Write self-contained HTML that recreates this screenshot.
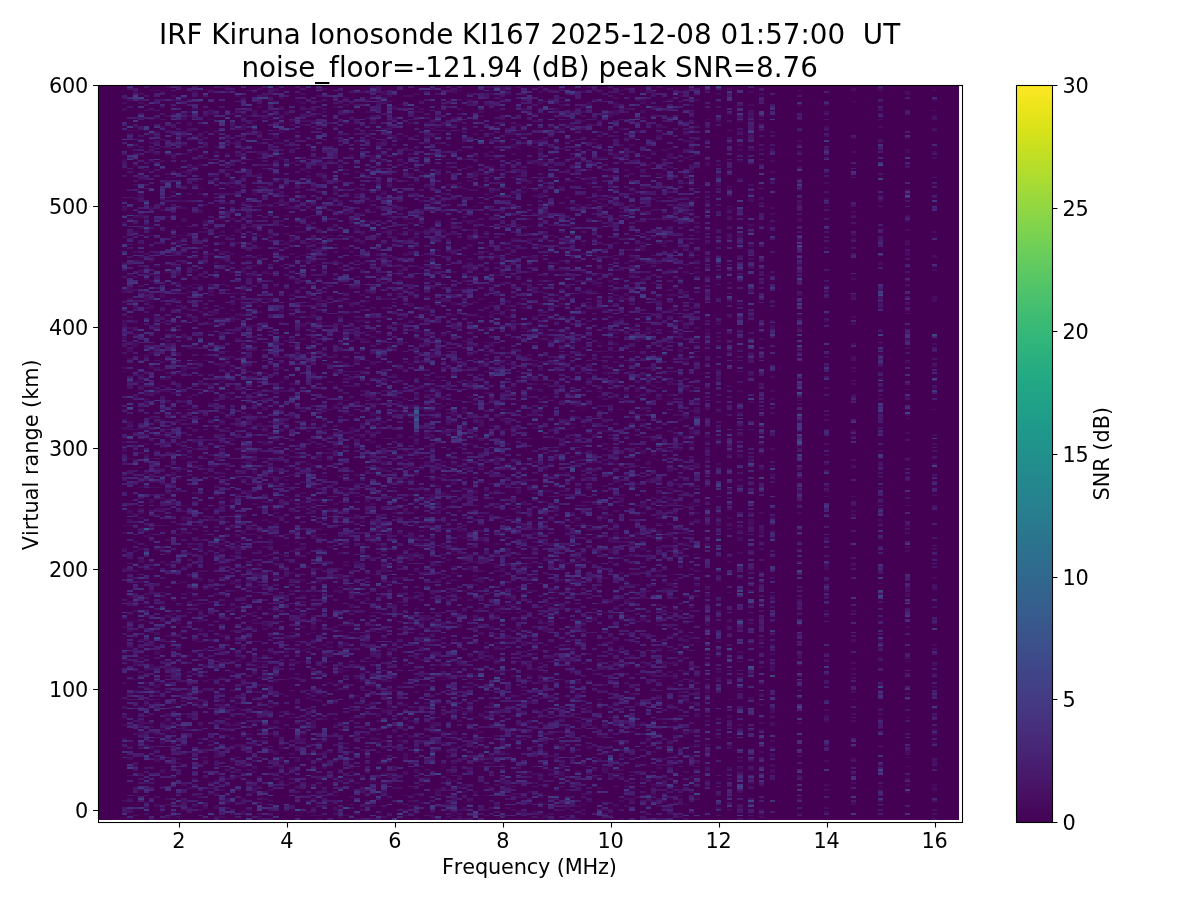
<!DOCTYPE html>
<html lang="en"><head><meta charset="utf-8"><title>IRF Kiruna Ionosonde KI167</title>
<style>
html,body{margin:0;padding:0;background:#fff}
body{width:1200px;height:900px;overflow:hidden}
svg{display:block}
text{font-family:"DejaVu Sans","Liberation Sans",sans-serif;font-size:20.83px;fill:#000;font-variant-ligatures:none;font-kerning:none}
.t{font-size:27.78px}
.k text{letter-spacing:-0.25px}
.a{letter-spacing:-0.15px}
.h path{fill:none;shape-rendering:crispEdges}
.l1{stroke:#470d60}.l2{stroke:#481668}.l3{stroke:#481d6f}.l4{stroke:#482677}.l5{stroke:#472f7d}.l6{stroke:#453781}.l7{stroke:#423f85}.l8{stroke:#3f4788}.l9{stroke:#3c4f8a}.l10{stroke:#38588c}
</style></head><body>
<svg width="1200" height="900" viewBox="0 0 1200 900">
<defs><linearGradient id="vg" x1="0" y1="0" x2="0" y2="1"><stop offset="0" stop-color="#fde725"/><stop offset="0.03125" stop-color="#ece51b"/><stop offset="0.0625" stop-color="#d8e219"/><stop offset="0.09375" stop-color="#c2df23"/><stop offset="0.125" stop-color="#addc30"/><stop offset="0.15625" stop-color="#98d83e"/><stop offset="0.1875" stop-color="#84d44b"/><stop offset="0.21875" stop-color="#70cf57"/><stop offset="0.25" stop-color="#5ec962"/><stop offset="0.28125" stop-color="#4ec36b"/><stop offset="0.3125" stop-color="#3fbc73"/><stop offset="0.34375" stop-color="#32b67a"/><stop offset="0.375" stop-color="#28ae80"/><stop offset="0.40625" stop-color="#22a785"/><stop offset="0.4375" stop-color="#1fa088"/><stop offset="0.46875" stop-color="#1f988b"/><stop offset="0.5" stop-color="#21918c"/><stop offset="0.53125" stop-color="#23898e"/><stop offset="0.5625" stop-color="#26828e"/><stop offset="0.59375" stop-color="#297a8e"/><stop offset="0.625" stop-color="#2c728e"/><stop offset="0.65625" stop-color="#2f6b8e"/><stop offset="0.6875" stop-color="#33638d"/><stop offset="0.71875" stop-color="#375b8d"/><stop offset="0.75" stop-color="#3b528b"/><stop offset="0.78125" stop-color="#3e4989"/><stop offset="0.8125" stop-color="#424086"/><stop offset="0.84375" stop-color="#453781"/><stop offset="0.875" stop-color="#472d7b"/><stop offset="0.90625" stop-color="#482374"/><stop offset="0.9375" stop-color="#48186a"/><stop offset="0.96875" stop-color="#470d60"/><stop offset="1" stop-color="#440154"/></linearGradient></defs>
<rect width="1200" height="900" fill="#fff"/>
<rect x="98" y="85" width="861" height="735" fill="#440154"/>
<g class="h">
<path class="l1" stroke-width="5" d="M124.5 802v-2m0 -60v-2m0 -12v-2m0 -7v-2m0 -6v-1m0 -24v-2m0 -21v-2m0 -17v-1m0 -13v-2m0 -56v-2m0 -18v-2m0 -14v-2m0 -6v-1m0 -62v-2m0 -9v-4m0 -1v-2m0 -2v-2m0 -11v-3m0 -17v-1m0 -37v-1m0 -2v-2m0 -27v-4m0 -9v-7m0 -18v-2m0 -7v-4m0 -25v-2m0 -24v-2m0 -12v-2m0 -6v-1m0 -4v-4m0 -45v-3m0 -48v-3m0 -4v-2M135.5 796v-1m0 -28v-3m0 -29v-2m0 -42v-1m0 -10v-1m0 -13v-4m0 -40v-1m0 -9v-2m0 -38v-2m0 -6v-1m0 -11v-2m0 -7v-2m0 -143v-2m0 -13v-2m0 -34v-4m0 -7v-2m0 -12v-2m0 -11v-2m0 -16v-2m0 -11v-2m0 -23v-2m0 -18v-2m0 -13v-2m0 -16v-3m0 -11v-2m0 -18v-2m0 -4v-1m0 -28v-1m0 -2v-2m0 -33v-2M146.5 815v-2m0 -4v-2m0 -23v-2m0 -36v-2m0 -2v-2m0 -16v-2m0 -5v-2m0 -9v-2m0 -2v-2m0 -12v-2m0 -2v-2m0 -11v-3m0 -11v-2m0 -33v-1m0 -4v-2m0 -7v-2m0 -11v-2m0 -47v-1m0 -8v-2m0 -9v-1m0 -51v-2m0 -16v-2m0 -9v-2m0 -14v-2m0 -22v-2m0 -2v-3m0 -2v-4m0 -20v-1m0 -13v-4m0 -45v-2m0 -5v-6m0 -16v-2m0 -9v-2m0 -12v-2m0 -27v-2m0 -4v-2m0 -2v-1m0 -44v-2m0 -38v-1m0 -24v-2M151.5 767v-1m0 -17v-2m0 -19v-2m0 -2v-2m0 -27v-2m0 -3v-2m0 -20v-4m0 -31v-1m0 -10v-1m0 -26v-2m0 -1v-2m0 -20v-2m0 -5v-2m0 -33v-2m0 -23v-4m0 -3v-2m0 -6v-1m0 -4v-2m0 -4v-1m0 -17v-1m0 -39v-3m0 -22v-2m0 -2v-1m0 -20v-4m0 -11v-2m0 -1v-2m0 -40v-4m0 -2v-1m0 -8v-1m0 -11v-2m0 -4v-2m0 -12v-2m0 -2v-2m0 -9v-2m0 -9v-1m0 -26v-2m0 -54v-2m0 -7v-2m0 -2v-1m0 -4v-2m0 -13v-1m0 -28v-1M162.5 809v-2m0 -20v-1m0 -13v-4m0 -2v-1m0 -22v-4m0 -9v-2m0 -5v-2m0 -38v-2m0 -31v-1m0 -8v-1m0 -19v-1m0 -28v-1m0 -29v-2m0 -11v-2m0 -38v-2m0 -9v-2m0 -12v-2m0 -13v-2m0 -10v-2m0 -8v-1m0 -11v-2m0 -13v-2m0 -9v-1m0 -17v-2m0 -3v-2m0 -5v-2m0 -7v-2m0 -6v-2m0 -43v-2m0 -18v-4m0 -83v-2m0 -7v-2m0 -16v-2m0 -20v-2m0 -12v-2m0 -18v-2m0 -18v-2m0 -13v-2M173.5 816v-1m0 -2v-2m0 -6v-1m0 -38v-2m0 -6v-1m0 -24v-2m0 -5v-2m0 -20v-2m0 -11v-1m0 -22v-2m0 -16v-2m0 -4v-2m0 -1v-2m0 -24v-2m0 -1v-2m0 -9v-2m0 -96v-2m0 -9v-2m0 -5v-2m0 -7v-4m0 -11v-2m0 -5v-2m0 -23v-2m0 -11v-2m0 -20v-2m0 -16v-2m0 -36v-2m0 -33v-1m0 -9v-2m0 -24v-2m0 -10v-2m0 -22v-2m0 -22v-1m0 -13v-2m0 -13v-1m0 -18v-2m0 -2v-2m0 -38v-2m0 -12v-2m0 -2v-2M178.5 818v-2m0 -21v-2m0 -29v-2m0 -2v-2m0 -7v-2m0 -27v-2m0 -38v-2m0 -23v-2m0 -5v-2m0 -13v-2m0 -9v-2m0 -16v-2m0 -20v-1m0 -19v-1m0 -33v-2m0 -3v-2m0 -31v-2m0 -11v-2m0 -5v-2m0 -47v-4m0 -25v-2m0 -3v-2m0 -13v-2m0 -9v-2m0 -7v-2m0 -29v-1m0 -15v-2m0 -12v-2m0 -7v-2m0 -6v-3m0 -6v-2m0 -9v-1m0 -11v-4m0 -4v-1m0 -8v-1m0 -17v-2m0 -5v-2m0 -2v-1m0 -28v-1M189.5 809v-2m0 -18v-2m0 -29v-1m0 -19v-1m0 -20v-2m0 -22v-5m0 -2v-2m0 -27v-2m0 -29v-2m0 -20v-3m0 -8v-1m0 -15v-2m0 -7v-2m0 -2v-1m0 -9v-2m0 -4v-2m0 -25v-2m0 -51v-1m0 -13v-2m0 -27v-2m0 -25v-2m0 -27v-2m0 -18v-2m0 -29v-2m0 -5v-2m0 -16v-2m0 -4v-2m0 -90v-2m0 -18v-4m0 -3v-2m0 -13v-2m0 -21v-2m0 -2v-4m0 -5v-2m0 -2v-2M200.5 811v-2m0 -51v-1m0 -17v-2m0 -12v-2m0 -18v-2m0 -2v-2m0 -39v-2m0 -27v-4m0 -6v-3m0 -2v-2m0 -3v-2m0 -29v-4m0 -2v-1m0 -2v-2m0 -20v-5m0 -4v-2m0 -13v-3m0 -56v-2m0 -51v-2m0 -27v-2m0 -2v-1m0 -67v-2m0 -17v-1m0 -6v-2m0 -11v-1m0 -40v-2m0 -18v-4m0 -14v-2m0 -4v-1m0 -22v-2m0 -5v-2m0 -15v-2m0 -3v-2m0 -33v-1M205.5 809v-2m0 -45v-2m0 -7v-2m0 -43v-2m0 -15v-1m0 -8v-2m0 -3v-2m0 -9v-2m0 -13v-3m0 -6v-1m0 -37v-1m0 -13v-2m0 -2v-2m0 -12v-2m0 -15v-3m0 -17v-1m0 -2v-2m0 -4v-1m0 -15v-2m0 -34v-2m0 -2v-2m0 -21v-2m0 -55v-1m0 -28v-1m0 -4v-2m0 -90v-2m0 -2v-2m0 -2v-1m0 -22v-2m0 -7v-4m0 -14v-2m0 -7v-2m0 -36v-2m0 -2v-2m0 -5v-2m0 -13v-2m0 -14v-2M216.5 818v-2m0 -7v-4m0 -10v-2m0 -11v-2m0 -5v-2m0 -11v-2m0 -3v-6m0 -11v-2m0 -14v-2m0 -22v-1m0 -4v-2m0 -13v-1m0 -84v-2m0 -48v-2m0 -33v-2m0 -12v-2m0 -7v-2m0 -18v-2m0 -4v-2m0 -1v-2m0 -15v-2m0 -10v-2m0 -17v-1m0 -9v-2m0 -40v-2m0 -13v-1m0 -19v-1m0 -9v-2m0 -47v-2m0 -42v-2m0 -11v-1m0 -24v-2m0 -3v-2m0 -22v-2m0 -3v-2m0 -13v-3m0 -15v-2M227.5 804v-2m0 -2v-2m0 -18v-2m0 -41v-2m0 -6v-1m0 -2v-4m0 -14v-2m0 -45v-2m0 -4v-2m0 -12v-2m0 -18v-2m0 -38v-2m0 -31v-2m0 -18v-2m0 -59v-2m0 -20v-2m0 -33v-1m0 -11v-2m0 -2v-2m0 -2v-1m0 -24v-2m0 -5v-2m0 -4v-1m0 -28v-1m0 -8v-1m0 -26v-2m0 -18v-2m0 -12v-2m0 -13v-2m0 -32v-2m0 -16v-2m0 -13v-2m0 -3v-2m0 -9v-2m0 -4v-1m0 -4v-2m0 -3v-2m0 -26v-1m0 -22v-2M232.5 815v-2m0 -33v-2m0 -16v-2m0 -20v-2m0 -9v-1m0 -2v-2m0 -16v-2m0 -7v-2m0 -17v-1m0 -6v-2m0 -39v-2m0 -18v-4m0 -16v-2m0 -6v-3m0 -24v-2m0 -5v-2m0 -20v-2m0 -23v-4m0 -58v-3m0 -19v-1m0 -9v-2m0 -7v-2m0 -17v-1m0 -9v-2m0 -11v-2m0 -34v-2m0 -2v-2m0 -5v-2m0 -4v-2m0 -9v-1m0 -20v-2m0 -16v-2m0 -26v-1m0 -6v-2m0 -23v-2m0 -5v-2m0 -4v-2m0 -9v-2m0 -5v-2m0 -2v-1m0 -15v-2m0 -14v-2m0 -11v-2M243.5 815v-4m0 -11v-2m0 -32v-2m0 -18v-2m0 -27v-2m0 -29v-2m0 -4v-1m0 -20v-2m0 -9v-2m0 -14v-2m0 -8v-1m0 -44v-2m0 -16v-2m0 -16v-2m0 -5v-4m0 -13v-3m0 -22v-2m0 -27v-2m0 -13v-1m0 -49v-2m0 -4v-2m0 -21v-2m0 -9v-2m0 -9v-2m0 -16v-2m0 -20v-4m0 -12v-2m0 -16v-6m0 -2v-1m0 -6v-2m0 -38v-2m0 -12v-2m0 -4v-1m0 -19v-3m0 -24v-2m0 -1v-2m0 -7v-2m0 -7v-6m0 -9v-2m0 -14v-2M254.5 793v-6m0 -14v-2m0 -2v-2m0 -9v-1m0 -11v-2m0 -20v-2m0 -14v-2m0 -7v-2m0 -4v-2m0 -16v-2m0 -14v-2m0 -27v-2m0 -4v-2m0 -1v-2m0 -31v-2m0 -12v-2m0 -37v-1m0 -4v-2m0 -3v-2m0 -18v-2m0 -18v-2m0 -9v-4m0 -11v-1m0 -4v-2m0 -22v-1m0 -8v-2m0 -14v-2m0 -13v-1m0 -11v-2m0 -25v-2m0 -7v-2m0 -2v-2m0 -9v-2m0 -23v-2m0 -26v-1m0 -6v-2m0 -36v-2m0 -5v-2m0 -25v-4m0 -65v-2m0 -2v-2m0 -7v-3m0 -17v-2M259.5 820v-4m0 -1v-2m0 -26v-1m0 -8v-2m0 -34v-2m0 -9v-2m0 -20v-1m0 -22v-2m0 -5v-2m0 -9v-2m0 -7v-2m0 -33v-2m0 -12v-4m0 -20v-2m0 -9v-3m0 -8v-1m0 -11v-2m0 -13v-2m0 -67v-1m0 -8v-1m0 -6v-2m0 -20v-1m0 -2v-4m0 -5v-2m0 -18v-2m0 -4v-2m0 -18v-1m0 -44v-2m0 -12v-2m0 -4v-2m0 -21v-2m0 -22v-2m0 -2v-1m0 -6v-2m0 -41v-4m0 -22v-2m0 -1v-4m0 -14v-2m0 -2v-4m0 -7v-2m0 -3v-2m0 -2v-4m0 -11v-1m0 -11v-2m0 -16v-2M270.5 816v-1m0 -13v-2m0 -9v-2m0 -20v-2m0 -14v-2m0 -16v-2m0 -5v-2m0 -8v-1m0 -13v-2m0 -25v-2m0 -22v-2m0 -14v-2m0 -7v-2m0 -11v-2m0 -3v-2m0 -47v-2m0 -14v-2m0 -2v-2m0 -4v-1m0 -11v-2m0 -15v-1m0 -2v-2m0 -34v-2m0 -20v-2m0 -9v-2m0 -89v-1m0 -40v-4m0 -31v-2m0 -30v-2m0 -62v-2m0 -3v-2m0 -9v-2m0 -33v-1m0 -2v-2m0 -4v-1m0 -20v-2M281.5 782v-2m0 -2v-2m0 -7v-2m0 -1v-2m0 -2v-4m0 -9v-2m0 -1v-2m0 -15v-1m0 -15v-2m0 -16v-2m0 -98v-2m0 -23v-2m0 -13v-1m0 -37v-1m0 -11v-2m0 -24v-2m0 -29v-1m0 -15v-2m0 -21v-2m0 -15v-2m0 -7v-2m0 -12v-2m0 -9v-2m0 -18v-2m0 -13v-1m0 -9v-4m0 -42v-2m0 -9v-1m0 -13v-2m0 -14v-2m0 -2v-2m0 -16v-2m0 -2v-2m0 -3v-2m0 -33v-3m0 -13v-2m0 -9v-2m0 -7v-2m0 -3v-2m0 -9v-2m0 -7v-2M286.5 786v-2m0 -87v-2m0 -15v-1m0 -26v-2m0 -12v-4m0 -36v-2m0 -20v-2m0 -3v-2m0 -2v-2m0 -20v-1m0 -60v-2m0 -2v-2m0 -12v-2m0 -9v-2m0 -29v-2m0 -31v-2m0 -10v-2m0 -20v-2m0 -14v-2m0 -95v-3m0 -7v-2m0 -17v-1m0 -6v-2m0 -1v-2m0 -7v-2m0 -9v-2m0 -16v-2m0 -2v-2m0 -22v-1m0 -24v-4M297.5 816v-1m0 -26v-2m0 -20v-1m0 -4v-4m0 -16v-2m0 -61v-2m0 -2v-2m0 -9v-3m0 -6v-2m0 -3v-2m0 -35v-1m0 -31v-2m0 -15v-1m0 -6v-2m0 -3v-2m0 -7v-2m0 -9v-2m0 -169v-1m0 -4v-2m0 -20v-2m0 -14v-2m0 -7v-2m0 -16v-2m0 -7v-2m0 -22v-2m0 -23v-2m0 -42v-1m0 -26v-2m0 -21v-2m0 -4v-2m0 -29v-1M308.5 813v-2m0 -9v-2m0 -4v-1m0 -8v-1m0 -26v-2m0 -12v-2m0 -45v-2m0 -47v-2m0 -13v-2m0 -12v-2m0 -6v-1m0 -44v-2m0 -12v-2m0 -46v-1m0 -40v-2m0 -22v-2m0 -7v-2m0 -36v-2m0 -38v-2m0 -27v-2m0 -5v-2m0 -13v-1m0 -4v-4m0 -45v-2m0 -3v-2m0 -24v-2m0 -7v-2m0 -3v-2m0 -25v-2m0 -2v-2m0 -31v-1m0 -17v-2m0 -5v-2m0 -3v-2M313.5 816v-1m0 -2v-2m0 -2v-2m0 -7v-2m0 -11v-1m0 -35v-2m0 -20v-1m0 -2v-6m0 -27v-2m0 -47v-2m0 -1v-2m0 -6v-1m0 -2v-6m0 -7v-2m0 -18v-2m0 -3v-2m0 -6v-1m0 -6v-2m0 -12v-2m0 -22v-2m0 -3v-2m0 -2v-2m0 -14v-2m0 -7v-2m0 -6v-1m0 -8v-3m0 -13v-2m0 -3v-2m0 -38v-2m0 -4v-2m0 -9v-1m0 -29v-2m0 -4v-2m0 -41v-4m0 -9v-2m0 -3v-2m0 -44v-2m0 -3v-2m0 -7v-2m0 -9v-2m0 -13v-1m0 -15v-2m0 -3v-2m0 -15v-3m0 -17v-1m0 -19v-1m0 -8v-1m0 -17v-2m0 -3v-2m0 -4v-1M324.5 791v-2m0 -20v-2m0 -3v-2m0 -9v-2m0 -13v-1m0 -17v-2m0 -21v-2m0 -31v-2m0 -5v-2m0 -9v-2m0 -11v-1m0 -10v-1m0 -40v-2m0 -24v-1m0 -77v-1m0 -8v-1m0 -13v-2m0 -20v-2m0 -5v-2m0 -18v-2m0 -38v-2m0 -9v-2m0 -20v-1m0 -8v-1m0 -20v-2m0 -24v-2m0 -3v-2m0 -87v-4m0 -3v-2m0 -45v-2m0 -13v-2m0 -1v-2m0 -18v-2M335.5 815v-2m0 -2v-4m0 -11v-1m0 -69v-2m0 -4v-2m0 -14v-2m0 -2v-1m0 -8v-1m0 -15v-2m0 -2v-1m0 -42v-2m0 -34v-2m0 -13v-3m0 -46v-2m0 -10v-4m0 -7v-2m0 -36v-2m0 -17v-3m0 -38v-2m0 -18v-2m0 -14v-2m0 -11v-4m0 -92v-2m0 -7v-2m0 -58v-4m0 -5v-2m0 -4v-1m0 -38v-2m0 -9v-2m0 -18v-2M340.5 818v-2m0 -85v-2m0 -56v-2m0 -1v-2m0 -20v-2m0 -14v-2m0 -4v-2m0 -32v-2m0 -2v-2m0 -7v-4m0 -5v-2m0 -14v-2m0 -17v-1m0 -15v-2m0 -5v-2m0 -7v-2m0 -9v-2m0 -27v-2m0 -2v-1m0 -24v-2m0 -22v-3m0 -4v-2m0 -56v-3m0 -10v-1m0 -6v-2m0 -5v-2m0 -7v-2m0 -7v-2m0 -29v-2m0 -3v-2m0 -47v-2m0 -11v-2m0 -18v-2m0 -14v-2m0 -4v-1m0 -19v-1m0 -28v-1m0 -6v-2M351.5 816v-1m0 -17v-2m0 -9v-1m0 -6v-2m0 -5v-2m0 -2v-2m0 -49v-1m0 -6v-2m0 -14v-2m0 -43v-2m0 -22v-2m0 -3v-2m0 -7v-2m0 -2v-4m0 -16v-2m0 -9v-2m0 -40v-1m0 -15v-2m0 -25v-2m0 -9v-2m0 -41v-2m0 -2v-4m0 -1v-2m0 -11v-2m0 -27v-2m0 -5v-2m0 -6v-1m0 -58v-2m0 -4v-2m0 -16v-2m0 -16v-2m0 -16v-2m0 -27v-4m0 -63v-2m0 -4v-2m0 -29v-1m0 -15v-2M362.5 811v-2m0 -18v-2m0 -11v-3m0 -24v-2m0 -20v-1m0 -11v-2m0 -7v-2m0 -6v-1m0 -8v-3m0 -6v-2m0 -9v-1m0 -9v-2m0 -15v-2m0 -29v-1m0 -67v-2m0 -20v-2m0 -25v-2m0 -56v-2m0 -11v-2m0 -31v-2m0 -48v-4m0 -11v-2m0 -3v-2m0 -2v-2m0 -5v-2m0 -2v-2m0 -2v-1m0 -6v-2m0 -9v-1m0 -13v-2m0 -5v-2m0 -4v-2m0 -12v-4m0 -5v-2m0 -18v-2m0 -9v-2m0 -11v-2m0 -11v-1m0 -44v-2m0 -38v-2M367.5 807v-2m0 -3v-2m0 -65v-2m0 -4v-1m0 -22v-2m0 -42v-1m0 -19v-1m0 -6v-3m0 -31v-4m0 -2v-2m0 -54v-2m0 -25v-2m0 -7v-4m0 -11v-1m0 -15v-2m0 -12v-2m0 -22v-2m0 -34v-2m0 -24v-1m0 -10v-1m0 -18v-2m0 -8v-1m0 -9v-2m0 -18v-2m0 -7v-2m0 -33v-2m0 -34v-2m0 -22v-1m0 -6v-2m0 -49v-1m0 -4v-2m0 -14v-2m0 -4v-2m0 -10v-2m0 -8v-1M378.5 771v-2m0 -5v-2m0 -9v-2m0 -11v-2m0 -3v-2m0 -2v-3m0 -6v-2m0 -3v-4m0 -54v-2m0 -4v-2m0 -18v-1m0 -26v-2m0 -50v-2m0 -6v-3m0 -6v-2m0 -1v-6m0 -3v-2m0 -7v-2m0 -31v-2m0 -9v-2m0 -9v-2m0 -27v-2m0 -25v-2m0 -2v-1m0 -15v-2m0 -3v-2m0 -35v-1m0 -2v-2m0 -4v-2m0 -56v-2m0 -19v-2m0 -2v-2m0 -11v-3m0 -26v-2m0 -23v-2m0 -27v-2m0 -2v-2m0 -3v-4m0 -38v-2m0 -1v-2M389.5 784v-2m0 -4v-3m0 -31v-2m0 -31v-2m0 -1v-4m0 -14v-2m0 -6v-2m0 -14v-2m0 -2v-1m0 -4v-2m0 -5v-2m0 -55v-1m0 -2v-2m0 -5v-2m0 -42v-2m0 -2v-3m0 -6v-1m0 -26v-2m0 -12v-2m0 -15v-1m0 -11v-2m0 -38v-2m0 -33v-1m0 -28v-1m0 -4v-2m0 -31v-1m0 -13v-2m0 -24v-1m0 -9v-2m0 -4v-2m0 -25v-2m0 -11v-2m0 -28v-2m0 -2v-2m0 -45v-2m0 -7v-2m0 -4v-2m0 -23v-2M394.5 789v-2m0 -9v-2m0 -7v-2m0 -18v-2m0 -14v-2m0 -20v-2m0 -18v-1m0 -11v-2m0 -16v-2m0 -15v-2m0 -29v-1m0 -6v-2m0 -23v-4m0 -63v-2m0 -13v-2m0 -14v-2m0 -4v-1m0 -2v-2m0 -11v-2m0 -3v-2m0 -15v-1m0 -28v-1m0 -8v-1m0 -2v-2m0 -20v-2m0 -25v-2m0 -87v-4m0 -18v-2m0 -5v-2m0 -9v-2m0 -9v-2m0 -1v-2m0 -47v-2m0 -18v-2m0 -15v-3m0 -7v-4M405.5 816v-1m0 -4v-2m0 -13v-1m0 -20v-4m0 -11v-7m0 -9v-2m0 -7v-2m0 -4v-1m0 -2v-2m0 -18v-2m0 -38v-2m0 -71v-1m0 -2v-2m0 -31v-2m0 -29v-1m0 -11v-4m0 -13v-1m0 -8v-1m0 -4v-2m0 -14v-2m0 -4v-2m0 -3v-2m0 -2v-2m0 -34v-4m0 -12v-2m0 -35v-2m0 -32v-2m0 -2v-2m0 -5v-2m0 -25v-2m0 -33v-3m0 -17v-1m0 -15v-2m0 -9v-2m0 -25v-2m0 -2v-1m0 -4v-2m0 -3v-2m0 -15v-2m0 -12v-2m0 -38v-2M416.5 820v-2m0 -23v-2m0 -15v-2m0 -3v-4m0 -2v-1m0 -17v-2m0 -39v-2m0 -13v-2m0 -12v-2m0 -7v-2m0 -11v-2m0 -9v-2m0 -14v-2m0 -18v-2m0 -36v-2m0 -16v-2m0 -13v-2m0 -12v-2m0 -13v-2m0 -9v-3m0 -4v-2m0 -14v-2m0 -18v-2m0 -4v-2m0 -3v-4m0 -2v-1m0 -2v-4m0 -34v-4m0 -4v-1m0 -28v-3m0 -27v-2m0 -38v-2m0 -22v-2m0 -32v-2m0 -67v-2m0 -13v-1m0 -11v-2m0 -22v-2m0 -3v-2m0 -11v-2M421.5 804v-2m0 -16v-2m0 -40v-2m0 -4v-1m0 -51v-2m0 -23v-2m0 -4v-2m0 -5v-2m0 -5v-2m0 -15v-2m0 -5v-2m0 -18v-5m0 -35v-2m0 -7v-2m0 -1v-2m0 -2v-2m0 -7v-2m0 -13v-1m0 -46v-2m0 -1v-2m0 -55v-1m0 -20v-2m0 -24v-3m0 -6v-2m0 -7v-2m0 -11v-1m0 -11v-2m0 -7v-2m0 -40v-2m0 -11v-1m0 -22v-2m0 -20v-2m0 -7v-2m0 -27v-2m0 -58v-2m0 -1v-2M432.5 818v-3m0 -2v-2m0 -78v-2m0 -2v-1m0 -2v-4m0 -11v-2m0 -32v-2m0 -5v-2m0 -15v-2m0 -16v-2m0 -38v-2m0 -43v-2m0 -2v-1m0 -39v-1m0 -8v-3m0 -9v-2m0 -2v-2m0 -5v-2m0 -18v-2m0 -5v-2m0 -7v-4m0 -7v-2m0 -7v-2m0 -4v-2m0 -3v-2m0 -9v-2m0 -5v-2m0 -31v-4m0 -10v-2m0 -4v-2m0 -45v-2m0 -5v-2m0 -7v-2m0 -15v-1m0 -48v-1m0 -4v-2m0 -12v-2m0 -56v-2m0 -4v-2m0 -2v-1M443.5 805v-1m0 -8v-1m0 -28v-1m0 -22v-2m0 -9v-2m0 -18v-2m0 -31v-1m0 -2v-2m0 -11v-2m0 -36v-2m0 -61v-2m0 -31v-2m0 -2v-1m0 -2v-2m0 -11v-2m0 -12v-4m0 -13v-2m0 -7v-2m0 -5v-2m0 -27v-2m0 -3v-2m0 -20v-2m0 -5v-4m0 -7v-2m0 -9v-2m0 -20v-2m0 -12v-2m0 -4v-2m0 -32v-2m0 -67v-4m0 -16v-2m0 -9v-2m0 -5v-2m0 -67v-2m0 -18v-2M448.5 818v-2m0 -5v-2m0 -4v-3m0 -11v-2m0 -7v-4m0 -5v-2m0 -13v-3m0 -2v-2m0 -72v-2m0 -13v-2m0 -1v-2m0 -13v-2m0 -25v-2m0 -16v-2m0 -16v-2m0 -20v-2m0 -4v-1m0 -20v-2m0 -6v-1m0 -29v-2m0 -6v-1m0 -10v-1m0 -26v-2m0 -14v-2m0 -7v-2m0 -9v-2m0 -7v-2m0 -16v-2m0 -16v-2m0 -33v-2m0 -16v-2m0 -14v-2m0 -36v-2m0 -7v-2m0 -11v-2m0 -52v-2m0 -16v-2m0 -6v-1m0 -13v-2m0 -11v-2m0 -3v-2m0 -33v-2M459.5 818v-2m0 -1v-2m0 -2v-2m0 -20v-3m0 -8v-3m0 -26v-2m0 -25v-2m0 -9v-2m0 -1v-2m0 -40v-2m0 -3v-2m0 -31v-4m0 -25v-2m0 -60v-2m0 -3v-4m0 -16v-2m0 -51v-1m0 -57v-1m0 -10v-1m0 -20v-2m0 -2v-2m0 -18v-2m0 -14v-2m0 -36v-2m0 -60v-2m0 -16v-2m0 -2v-1m0 -22v-2m0 -31v-2m0 -18v-1m0 -15v-2m0 -3v-2m0 -7v-2m0 -8v-1M464.5 820v-2m0 -7v-4m0 -14v-2m0 -5v-2m0 -26v-1m0 -11v-2m0 -31v-2m0 -99v-2m0 -18v-2m0 -29v-2m0 -2v-2m0 -16v-2m0 -2v-1m0 -2v-2m0 -11v-2m0 -18v-2m0 -18v-2m0 -10v-2m0 -18v-2m0 -9v-2m0 -4v-5m0 -11v-4m0 -43v-2m0 -2v-2m0 -19v-2m0 -24v-2m0 -9v-2m0 -7v-2m0 -12v-2m0 -11v-2m0 -11v-1m0 -33v-2m0 -5v-2m0 -35v-1m0 -17v-1m0 -31v-2M475.5 795v-4m0 -42v-2m0 -5v-2m0 -5v-2m0 -2v-2m0 -11v-1m0 -37v-1m0 -2v-2m0 -24v-1m0 -22v-2m0 -7v-2m0 -25v-2m0 -4v-2m0 -7v-2m0 -12v-2m0 -45v-2m0 -15v-2m0 -3v-4m0 -2v-1m0 -19v-1m0 -2v-2m0 -25v-2m0 -35v-1m0 -10v-1m0 -29v-2m0 -4v-2m0 -5v-2m0 -13v-1m0 -60v-2m0 -14v-2m0 -13v-2m0 -5v-2m0 -9v-2m0 -13v-1m0 -15v-2m0 -14v-4m0 -14v-2m0 -20v-2M486.5 811v-2m0 -13v-1m0 -8v-1m0 -48v-1m0 -17v-2m0 -1v-2m0 -2v-2m0 -16v-2m0 -32v-2m0 -6v-2m0 -1v-2m0 -4v-2m0 -87v-1m0 -11v-2m0 -44v-1m0 -4v-2m0 -22v-1m0 -6v-2m0 -29v-1m0 -24v-2m0 -9v-2m0 -29v-2m0 -9v-1m0 -8v-1m0 -13v-2m0 -33v-1m0 -40v-2m0 -2v-2m0 -9v-2m0 -3v-2m0 -4v-1m0 -31v-2m0 -5v-2m0 -6v-2m0 -9v-1m0 -11v-4m0 -5v-2m0 -40v-2m0 -16v-2M491.5 764v-2m0 -2v-5m0 -17v-1m0 -19v-1m0 -11v-4m0 -43v-4m0 -25v-4m0 -5v-2m0 -6v-1m0 -48v-1m0 -4v-2m0 -41v-2m0 -29v-2m0 -9v-2m0 -9v-2m0 -34v-2m0 -24v-3m0 -4v-2m0 -14v-2m0 -5v-2m0 -15v-2m0 -5v-5m0 -24v-4m0 -1v-2m0 -4v-2m0 -12v-2m0 -73v-2m0 -7v-2m0 -14v-2m0 -14v-2m0 -7v-2m0 -9v-2m0 -2v-2m0 -11v-1m0 -4v-2m0 -38v-2m0 -2v-1m0 -2v-2M502.5 784v-4m0 -2v-2m0 -10v-2m0 -11v-2m0 -5v-4m0 -69v-2m0 -9v-1m0 -53v-2m0 -14v-2m0 -13v-2m0 -3v-4m0 -31v-2m0 -12v-2m0 -2v-2m0 -41v-2m0 -7v-2m0 -24v-2m0 -18v-3m0 -2v-2m0 -20v-2m0 -2v-1m0 -33v-2m0 -38v-2m0 -20v-1m0 -9v-2m0 -8v-1m0 -6v-2m0 -3v-2m0 -9v-2m0 -4v-1m0 -31v-2m0 -13v-1m0 -29v-2m0 -22v-2m0 -22v-1m0 -18v-2m0 -8v-5M513.5 811v-2m0 -14v-2m0 -53v-2m0 -3v-2m0 -16v-2m0 -38v-2m0 -33v-1m0 -20v-2m0 -9v-2m0 -2v-2m0 -3v-2m0 -9v-2m0 -29v-2m0 -36v-2m0 -13v-1m0 -38v-2m0 -2v-2m0 -27v-2m0 -5v-2m0 -35v-1m0 -22v-2m0 -9v-2m0 -23v-2m0 -16v-2m0 -17v-1m0 -17v-2m0 -3v-2m0 -9v-2m0 -2v-1m0 -8v-2m0 -5v-2m0 -22v-1m0 -20v-2m0 -38v-2m0 -5v-4m0 -9v-4M518.5 813v-2m0 -13v-2m0 -1v-2m0 -47v-2m0 -15v-1m0 -2v-2m0 -11v-2m0 -14v-2m0 -33v-1m0 -28v-1m0 -2v-4m0 -7v-2m0 -9v-2m0 -14v-2m0 -2v-2m0 -11v-1m0 -20v-2m0 -22v-2m0 -3v-2m0 -11v-2m0 -16v-6m0 -3v-2m0 -11v-2m0 -9v-2m0 -29v-3m0 -26v-1m0 -22v-2m0 -36v-2m0 -33v-3m0 -8v-1m0 -19v-1m0 -33v-2m0 -12v-2m0 -31v-2m0 -9v-2m0 -3v-2m0 -2v-2m0 -22v-1m0 -2v-2m0 -7v-2m0 -9v-2m0 -36v-2M529.5 804v-2m0 -9v-2m0 -58v-2m0 -7v-2m0 -18v-4m0 -18v-2m0 -3v-2m0 -11v-2m0 -5v-2m0 -54v-2m0 -7v-2m0 -13v-2m0 -7v-2m0 -2v-1m0 -15v-2m0 -29v-1m0 -29v-2m0 -4v-2m0 -81v-2m0 -16v-4m0 -15v-1m0 -4v-2m0 -11v-1m0 -53v-2m0 -7v-2m0 -5v-2m0 -6v-1m0 -6v-2m0 -14v-4m0 -2v-1m0 -8v-1m0 -6v-2m0 -34v-4m0 -18v-2M540.5 815v-2m0 -9v-2m0 -4v-2m0 -10v-2m0 -6v-2m0 -1v-2m0 -9v-2m0 -13v-2m0 -16v-2m0 -11v-1m0 -2v-2m0 -14v-2m0 -13v-4m0 -3v-2m0 -5v-2m0 -4v-2m0 -11v-1m0 -28v-3m0 -109v-2m0 -96v-2m0 -10v-2m0 -6v-2m0 -9v-1m0 -9v-4m0 -4v-2m0 -3v-2m0 -16v-2m0 -2v-2m0 -3v-2m0 -4v-2m0 -10v-2m0 -6v-2m0 -10v-2m0 -9v-2m0 -31v-5m0 -20v-2m0 -4v-3m0 -18v-4m0 -4v-1m0 -8v-2m0 -12v-6m0 -7v-4m0 -7v-3m0 -35v-3m0 -8v-2m0 -3v-2M545.5 818v-3m0 -10v-1m0 -8v-1m0 -38v-2m0 -2v-2m0 -7v-4m0 -67v-2m0 -3v-2m0 -7v-2m0 -11v-2m0 -12v-4m0 -4v-2m0 -16v-2m0 -45v-2m0 -14v-2m0 -6v-1m0 -4v-2m0 -12v-2m0 -11v-2m0 -9v-2m0 -11v-2m0 -7v-2m0 -1v-2m0 -67v-2m0 -11v-2m0 -2v-1m0 -17v-2m0 -25v-2m0 -14v-2m0 -2v-2m0 -14v-2m0 -63v-2m0 -4v-2m0 -11v-3m0 -9v-2m0 -14v-2m0 -26v-1m0 -13v-2M556.5 771v-2m0 -11v-3m0 -9v-2m0 -4v-2m0 -81v-2m0 -7v-2m0 -43v-2m0 -2v-2m0 -14v-2m0 -69v-2m0 -4v-1m0 -47v-2m0 -60v-2m0 -7v-2m0 -25v-2m0 -20v-2m0 -4v-3m0 -58v-2m0 -5v-2m0 -24v-2m0 -16v-2m0 -67v-2m0 -5v-2m0 -31v-3m0 -4v-2m0 -11v-1M567.5 816v-1m0 -6v-2m0 -2v-1m0 -13v-2m0 -54v-2m0 -5v-2m0 -8v-1m0 -29v-2m0 -2v-2m0 -11v-1m0 -11v-2m0 -11v-2m0 -3v-2m0 -35v-1m0 -6v-2m0 -7v-2m0 -38v-2m0 -12v-2m0 -2v-2m0 -36v-2m0 -13v-1m0 -2v-2m0 -13v-1m0 -22v-2m0 -4v-1m0 -8v-2m0 -25v-2m0 -36v-2m0 -20v-2m0 -1v-2m0 -22v-2m0 -7v-2m0 -7v-2m0 -2v-1m0 -20v-2m0 -22v-2m0 -11v-1m0 -10v-1m0 -6v-2m0 -25v-2m0 -9v-2m0 -43v-2m0 -4v-1M572.5 820v-2m0 -7v-2m0 -49v-2m0 -59v-2m0 -7v-2m0 -17v-1m0 -2v-2m0 -4v-1m0 -20v-2m0 -9v-4m0 -16v-2m0 -22v-2m0 -1v-2m0 -2v-2m0 -32v-2m0 -20v-2m0 -7v-2m0 -31v-2m0 -21v-2m0 -13v-2m0 -2v-1m0 -9v-2m0 -2v-2m0 -22v-1m0 -4v-2m0 -31v-2m0 -83v-2m0 -2v-1m0 -47v-2m0 -35v-1m0 -6v-2m0 -11v-1m0 -2v-2m0 -5v-2m0 -26v-1m0 -2v-4M583.5 815v-2m0 -2v-2m0 -4v-1m0 -9v-2m0 -27v-2m0 -38v-4m0 -11v-2m0 -3v-2m0 -40v-2m0 -21v-2m0 -9v-2m0 -2v-2m0 -3v-2m0 -33v-2m0 -25v-2m0 -3v-2m0 -27v-2m0 -20v-2m0 -22v-2m0 -23v-2m0 -5v-2m0 -18v-2m0 -15v-1m0 -2v-2m0 -16v-2m0 -38v-2m0 -11v-2m0 -20v-1m0 -20v-2m0 -9v-2m0 -7v-2m0 -16v-2m0 -8v-1m0 -89v-2m0 -23v-2m0 -6v-2m0 -3v-2m0 -2v-2m0 -3v-2m0 -13v-2M594.5 778v-2m0 -5v-2m0 -5v-2m0 -15v-1m0 -18v-2m0 -6v-2m0 -27v-1m0 -15v-2m0 -52v-4m0 -7v-2m0 -20v-2m0 -7v-2m0 -38v-2m0 -2v-1m0 -29v-2m0 -31v-2m0 -7v-2m0 -25v-2m0 -4v-1m0 -53v-2m0 -16v-2m0 -4v-1m0 -42v-2m0 -14v-2m0 -6v-5m0 -24v-1m0 -15v-2m0 -2v-1m0 -37v-1m0 -15v-4m0 -18v-1m0 -15v-2m0 -16v-2m0 -5v-2m0 -16v-2m0 -8v-1M599.5 789v-2m0 -27v-2m0 -9v-2m0 -10v-2m0 -31v-2m0 -41v-2m0 -42v-2m0 -11v-1m0 -49v-4m0 -11v-2m0 -16v-2m0 -11v-2m0 -74v-2m0 -18v-2m0 -3v-2m0 -7v-2m0 -4v-2m0 -3v-2m0 -24v-1m0 -17v-1m0 -33v-2m0 -7v-2m0 -4v-1m0 -6v-2m0 -56v-2m0 -9v-2m0 -3v-2m0 -7v-2m0 -2v-2m0 -1v-2m0 -4v-2m0 -30v-2m0 -35v-2m0 -18v-1m0 -8v-2M610.5 816v-1m0 -37v-3m0 -22v-2m0 -18v-2m0 -65v-2m0 -16v-2m0 -4v-1m0 -40v-2m0 -25v-2m0 -9v-2m0 -7v-6m0 -5v-6m0 -21v-2m0 -26v-1m0 -24v-2m0 -9v-2m0 -14v-2m0 -2v-2m0 -18v-2m0 -32v-2m0 -34v-2m0 -17v-1m0 -9v-2m0 -4v-2m0 -2v-1m0 -2v-2m0 -7v-2m0 -7v-2m0 -22v-2m0 -30v-4m0 -13v-2m0 -10v-2m0 -9v-2m0 -6v-3m0 -22v-2m0 -20v-1m0 -13v-4M621.5 820v-2m0 -16v-2m0 -22v-2m0 -1v-2m0 -2v-2m0 -5v-2m0 -5v-4m0 -42v-2m0 -45v-2m0 -14v-2m0 -25v-2m0 -45v-2m0 -13v-2m0 -14v-2m0 -2v-2m0 -34v-6m0 -1v-2m0 -6v-3m0 -75v-1m0 -9v-2m0 -27v-2m0 -4v-2m0 -31v-1m0 -11v-2m0 -18v-4m0 -16v-2m0 -7v-2m0 -13v-1m0 -37v-2m0 -3v-2m0 -7v-2m0 -5v-2m0 -33v-2m0 -5v-2m0 -7v-2m0 -14v-2m0 -33v-2m0 -2v-1M626.5 807v-2m0 -5v-2m0 -40v-1m0 -13v-2m0 -24v-1m0 -51v-2m0 -29v-2m0 -11v-1m0 -4v-2m0 -3v-4m0 -5v-4m0 -24v-1m0 -11v-2m0 -4v-2m0 -12v-2m0 -64v-3m0 -82v-2m0 -74v-2m0 -14v-2m0 -2v-2m0 -9v-1m0 -20v-2m0 -11v-2m0 -29v-4m0 -45v-2m0 -10v-2m0 -2v-2m0 -11v-2m0 -1v-2m0 -27v-2m0 -18v-2M637.5 798v-2m0 -21v-2m0 -47v-2m0 -18v-4m0 -27v-2m0 -29v-2m0 -56v-2m0 -10v-2m0 -17v-1m0 -15v-2m0 -2v-3m0 -9v-2m0 -5v-2m0 -26v-1m0 -2v-2m0 -16v-2m0 -4v-2m0 -27v-2m0 -32v-2m0 -4v-5m0 -6v-1m0 -38v-4m0 -13v-2m0 -49v-1m0 -24v-2m0 -25v-2m0 -52v-2m0 -6v-1m0 -26v-3M648.5 807v-2m0 -3v-2m0 -20v-2m0 -11v-1m0 -24v-2m0 -3v-2m0 -60v-2m0 -7v-2m0 -29v-2m0 -12v-2m0 -2v-2m0 -2v-1m0 -13v-2m0 -5v-2m0 -2v-2m0 -31v-1m0 -24v-2m0 -45v-4m0 -14v-4m0 -13v-1m0 -9v-2m0 -42v-2m0 -7v-2m0 -3v-2m0 -17v-1m0 -29v-4m0 -5v-2m0 -56v-2m0 -26v-1m0 -15v-2m0 -30v-2m0 -20v-2m0 -73v-1M653.5 802v-2m0 -5v-2m0 -4v-2m0 -1v-2m0 -31v-2m0 -29v-2m0 -30v-2m0 -11v-4m0 -96v-2m0 -36v-4m0 -25v-2m0 -5v-2m0 -2v-2m0 -18v-2m0 -18v-1m0 -2v-4m0 -11v-3m0 -51v-2m0 -7v-2m0 -20v-2m0 -40v-1m0 -11v-2m0 -16v-2m0 -44v-2m0 -25v-2m0 -9v-2m0 -45v-2m0 -9v-2m0 -47v-2M664.5 809v-2m0 -5v-2m0 -34v-2m0 -4v-2m0 -11v-1m0 -22v-2m0 -45v-2m0 -9v-5m0 -42v-2m0 -24v-1m0 -2v-2m0 -5v-2m0 -33v-2m0 -7v-2m0 -29v-2m0 -7v-2m0 -47v-2m0 -92v-2m0 -3v-2m0 -102v-2m0 -1v-4m0 -9v-2m0 -13v-1m0 -38v-2m0 -4v-2m0 -7v-2m0 -9v-2m0 -21v-2m0 -15v-1M675.5 804v-2m0 -40v-2m0 -3v-2m0 -15v-2m0 -7v-2m0 -7v-2m0 -2v-1m0 -8v-1m0 -24v-2m0 -3v-2m0 -2v-2m0 -9v-2m0 -9v-2m0 -14v-2m0 -22v-1m0 -13v-2m0 -11v-2m0 -3v-2m0 -4v-1m0 -19v-1m0 -11v-4m0 -25v-2m0 -7v-4m0 -16v-2m0 -33v-2m0 -10v-2m0 -7v-2m0 -11v-2m0 -29v-2m0 -2v-1m0 -49v-2m0 -4v-3m0 -13v-2m0 -11v-2m0 -5v-2m0 -16v-2m0 -18v-2m0 -29v-2m0 -7v-2m0 -3v-2m0 -94v-2M680.5 818v-2m0 -11v-1m0 -2v-4m0 -2v-1m0 -4v-2m0 -13v-1m0 -11v-2m0 -13v-2m0 -9v-1m0 -8v-1m0 -11v-2m0 -22v-2m0 -9v-2m0 -41v-2m0 -25v-2m0 -44v-2m0 -7v-2m0 -3v-2m0 -16v-2m0 -44v-1m0 -2v-2m0 -4v-2m0 -27v-2m0 -27v-2m0 -3v-2m0 -38v-2m0 -22v-3m0 -13v-4m0 -10v-2m0 -2v-2m0 -36v-2m0 -74v-2m0 -105v-2M691.5 793v-2m0 -13v-2m0 -19v-2m0 -22v-4m0 -25v-2m0 -12v-2m0 -8v-1m0 -8v-1m0 -31v-2m0 -18v-2m0 -5v-2m0 -2v-2m0 -5v-2m0 -29v-2m0 -20v-3m0 -22v-2m0 -5v-2m0 -9v-2m0 -58v-2m0 -9v-5m0 -17v-2m0 -23v-2m0 -76v-2m0 -4v-1m0 -44v-2m0 -3v-2m0 -35v-1m0 -13v-2m0 -14v-2m0 -11v-4m0 -3v-2m0 -4v-1m0 -2v-2m0 -11v-4m0 -9v-3m0 -15v-2m0 -5v-2M707.5 782v-2m0 -34v-2m0 -22v-2m0 -27v-2m0 -18v-2m0 -32v-2m0 -7v-2m0 -2v-4m0 -25v-4m0 -3v-2m0 -42v-3m0 -27v-2m0 -4v-2m0 -5v-2m0 -14v-2m0 -9v-2m0 -13v-3m0 -8v-3m0 -4v-2m0 -3v-4m0 -24v-3m0 -18v-2m0 -26v-1m0 -15v-2m0 -3v-2m0 -2v-4m0 -1v-2m0 -11v-2m0 -14v-2m0 -22v-2m0 -9v-2m0 -7v-2m0 -12v-2m0 -11v-2m0 -25v-4m0 -3v-2m0 -29v-4m0 -42v-1M718.5 809v-2m0 -11v-1m0 -115v-3m0 -4v-2m0 -14v-2m0 -43v-2m0 -71v-2m0 -3v-2m0 -6v-5m0 -2v-2m0 -3v-2m0 -24v-1m0 -19v-1m0 -2v-2m0 -18v-2m0 -2v-2m0 -10v-2m0 -15v-2m0 -32v-2m0 -5v-2m0 -27v-2m0 -2v-2m0 -11v-2m0 -43v-2m0 -2v-2m0 -18v-1m0 -11v-2m0 -2v-2m0 -47v-2m0 -3v-4m0 -5v-4m0 -7v-2m0 -42v-2m0 -18v-1m0 -6v-2M729.5 811v-2m0 -11v-2m0 -16v-2m0 -3v-2m0 -4v-2m0 -18v-2m0 -9v-1m0 -9v-2m0 -8v-3m0 -15v-1m0 -40v-2m0 -36v-2m0 -26v-1m0 -29v-2m0 -31v-2m0 -3v-2m0 -4v-2m0 -25v-2m0 -20v-2m0 -12v-2m0 -2v-2m0 -2v-1m0 -60v-2m0 -67v-2m0 -14v-2m0 -16v-2m0 -8v-1m0 -33v-4m0 -1v-2m0 -6v-1m0 -8v-2m0 -5v-2m0 -12v-2m0 -7v-2m0 -15v-2m0 -25v-2m0 -2v-1m0 -24v-2m0 -23v-2M761.5 818v-2m0 -1v-2m0 -2v-2m0 -42v-1m0 -13v-2m0 -11v-2m0 -7v-2m0 -5v-2m0 -4v-1m0 -11v-2m0 -9v-2m0 -25v-2m0 -18v-2m0 -5v-2m0 -31v-2m0 -56v-2m0 -5v-2m0 -7v-6m0 -14v-2m0 -42v-3m0 -13v-2m0 -7v-2m0 -4v-1m0 -51v-2m0 -45v-2m0 -11v-2m0 -43v-2m0 -6v-1m0 -67v-4m0 -2v-2m0 -47v-2m0 -54v-2M772.5 773v-4m0 -2v-3m0 -7v-4m0 -4v-2m0 -5v-2m0 -14v-4m0 -5v-2m0 -2v-5m0 -38v-6m0 -9v-2m0 -7v-2m0 -11v-1m0 -10v-1m0 -20v-2m0 -2v-2m0 -16v-2m0 -38v-2m0 -5v-2m0 -11v-2m0 -40v-3m0 -7v-2m0 -15v-2m0 -34v-2m0 -12v-2m0 -6v-2m0 -12v-2m0 -47v-4m0 -3v-2m0 -105v-2m0 -4v-2m0 -25v-2m0 -7v-2m0 -9v-2m0 -9v-3m0 -15v-2M799.5 815v-2m0 -13v-2m0 -22v-1m0 -18v-2m0 -31v-2m0 -23v-2m0 -15v-2m0 -9v-1m0 -4v-2m0 -5v-4m0 -29v-2m0 -11v-1m0 -11v-2m0 -49v-2m0 -5v-2m0 -27v-2m0 -20v-2m0 -2v-1m0 -8v-2m0 -9v-1m0 -20v-2m0 -22v-2m0 -7v-2m0 -7v-2m0 -2v-1m0 -10v-1m0 -9v-2m0 -49v-2m0 -7v-2m0 -2v-2m0 -18v-2m0 -16v-2m0 -9v-3m0 -4v-2m0 -16v-2m0 -18v-4m0 -12v-4m0 -11v-2m0 -9v-2m0 -10v-2m0 -4v-2m0 -7v-2m0 -5v-2m0 -2v-2m0 -34v-2m0 -13v-1M826.5 813v-2m0 -2v-2m0 -16v-2m0 -3v-2m0 -22v-2m0 -38v-2m0 -2v-3m0 -4v-2m0 -48v-2m0 -42v-2m0 -3v-2m0 -13v-2m0 -3v-2m0 -20v-6m0 -23v-4m0 -40v-1m0 -4v-2m0 -3v-2m0 -20v-2m0 -7v-2m0 -9v-2m0 -13v-1m0 -8v-2m0 -3v-2m0 -25v-2m0 -20v-2m0 -7v-2m0 -34v-2m0 -6v-1m0 -22v-2m0 -2v-2m0 -36v-2m0 -40v-1m0 -6v-2m0 -14v-2m0 -33v-1m0 -11v-2m0 -4v-1m0 -2v-2m0 -13v-2m0 -5v-2M853.5 805v-3m0 -18v-2m0 -7v-2m0 -13v-2m0 -11v-1m0 -24v-2m0 -5v-2m0 -13v-1m0 -6v-2m0 -12v-2m0 -2v-2m0 -3v-2m0 -4v-2m0 -20v-3m0 -27v-2m0 -44v-2m0 -48v-2m0 -2v-2m0 -4v-1m0 -8v-1m0 -29v-2m0 -4v-2m0 -27v-2m0 -29v-1m0 -4v-2m0 -9v-2m0 -11v-1m0 -2v-2m0 -6v-5m0 -11v-2m0 -18v-2m0 -5v-2m0 -18v-4m0 -14v-2m0 -38v-2m0 -2v-3m0 -17v-1m0 -2v-2m0 -4v-1m0 -53v-2m0 -12v-2m0 -35v-1m0 -10v-3M880.5 791v-2m0 -2v-1m0 -57v-1m0 -8v-2m0 -3v-2m0 -4v-1m0 -22v-2m0 -25v-2m0 -9v-2m0 -5v-2m0 -55v-1m0 -58v-2m0 -2v-2m0 -31v-1m0 -20v-2m0 -2v-2m0 -2v-1m0 -6v-2m0 -36v-2m0 -12v-2m0 -2v-2m0 -14v-2m0 -11v-2m0 -9v-2m0 -23v-2m0 -20v-2m0 -42v-3m0 -60v-2m0 -3v-2m0 -44v-2m0 -9v-1m0 -11v-2m0 -6v-1m0 -9v-2m0 -17v-3M907.5 793v-2m0 -5v-2m0 -4v-2m0 -11v-1m0 -8v-1m0 -2v-4m0 -33v-1m0 -22v-2m0 -31v-1m0 -2v-2m0 -29v-2m0 -29v-4m0 -3v-2m0 -36v-2m0 -2v-2m0 -12v-2m0 -6v-1m0 -48v-1m0 -15v-2m0 -25v-2m0 -13v-1m0 -2v-2m0 -16v-2m0 -6v-1m0 -26v-2m0 -12v-2m0 -7v-2m0 -33v-2m0 -16v-2m0 -3v-2m0 -24v-5m0 -7v-4m0 -9v-2m0 -7v-2m0 -4v-1m0 -24v-2m0 -23v-2m0 -11v-4m0 -10v-2m0 -42v-4M934.5 820v-2m0 -3v-2m0 -2v-2m0 -18v-4m0 -1v-2m0 -20v-4m0 -16v-2m0 -7v-2m0 -2v-2m0 -12v-2m0 -6v-1m0 -20v-2m0 -11v-2m0 -7v-2m0 -14v-2m0 -2v-2m0 -54v-2m0 -2v-2m0 -5v-2m0 -27v-2m0 -42v-1m0 -9v-2m0 -29v-2m0 -18v-2m0 -7v-2m0 -24v-1m0 -20v-2m0 -20v-2m0 -20v-2m0 -41v-6m0 -25v-2m0 -11v-3m0 -22v-2m0 -72v-2m0 -4v-2m0 -21v-2m0 -8v-1m0 -2v-2m0 -4v-1m0 -9v-2m0 -8v-1"/>
<path class="l1" stroke-width="6" d="M130 811v-2m0 -9v-2m0 -22v-1m0 -15v-2m0 -11v-1m0 -51v-2m0 -13v-1m0 -8v-1m0 -22v-2m0 -14v-2m0 -8v-1m0 -6v-2m0 -10v-2m0 -4v-2m0 -16v-2m0 -5v-2m0 -44v-1m0 -4v-2m0 -5v-4m0 -4v-1m0 -46v-1m0 -28v-3m0 -2v-4m0 -61v-2m0 -6v-3m0 -20v-2m0 -4v-1m0 -4v-2m0 -16v-2m0 -7v-4m0 -11v-2m0 -9v-1m0 -44v-2m0 -70v-2m0 -11v-2m0 -2v-1m0 -29v-2M141 791v-2m0 -14v-2m0 -35v-1m0 -2v-4m0 -5v-6m0 -12v-2m0 -33v-2m0 -7v-2m0 -3v-2m0 -16v-2m0 -35v-1m0 -20v-2m0 -18v-4m0 -9v-2m0 -29v-2m0 -3v-2m0 -2v-2m0 -20v-1m0 -4v-2m0 -2v-2m0 -9v-1m0 -13v-2m0 -62v-1m0 -2v-2m0 -2v-2m0 -5v-2m0 -81v-2m0 -4v-2m0 -12v-4m0 -7v-2m0 -2v-2m0 -27v-2m0 -9v-5m0 -15v-5m0 -4v-1m0 -8v-2m0 -1v-2m0 -27v-2m0 -42v-2m0 -7v-2M157 807v-3m0 -6v-2m0 -34v-4m0 -7v-2m0 -14v-2m0 -29v-2m0 -2v-1m0 -2v-2m0 -4v-1m0 -2v-4m0 -16v-2m0 -11v-4m0 -16v-3m0 -39v-1m0 -28v-1m0 -13v-2m0 -32v-2m0 -4v-2m0 -20v-1m0 -4v-2m0 -11v-2m0 -16v-2m0 -27v-2m0 -27v-2m0 -23v-2m0 -40v-2m0 -7v-2m0 -40v-2m0 -7v-2m0 -10v-2m0 -98v-2m0 -11v-2m0 -7v-2m0 -12v-2m0 -26v-1M168 818v-2m0 -16v-2m0 -67v-2m0 -3v-2m0 -2v-2m0 -3v-4m0 -29v-2m0 -5v-2m0 -7v-2m0 -29v-2m0 -69v-3m0 -9v-2m0 -11v-2m0 -13v-1m0 -19v-1m0 -11v-2m0 -2v-2m0 -11v-1m0 -33v-2m0 -3v-2m0 -33v-2m0 -9v-2m0 -10v-2m0 -4v-2m0 -27v-2m0 -1v-2m0 -9v-2m0 -56v-2m0 -6v-1m0 -46v-2m0 -38v-1m0 -2v-2m0 -42v-1m0 -13v-2m0 -27v-2M184 811v-2m0 -7v-2m0 -14v-2m0 -29v-2m0 -7v-2m0 -13v-5m0 -11v-2m0 -11v-2m0 -3v-4m0 -31v-1m0 -2v-2m0 -24v-1m0 -4v-2m0 -31v-2m0 -10v-2m0 -13v-2m0 -32v-4m0 -4v-1m0 -4v-5m0 -4v-2m0 -4v-1m0 -28v-1m0 -6v-2m0 -9v-1m0 -8v-2m0 -27v-2m0 -3v-2m0 -7v-2m0 -2v-3m0 -26v-2m0 -1v-4m0 -29v-4m0 -11v-1m0 -8v-1m0 -6v-2m0 -16v-2m0 -23v-2m0 -6v-1m0 -2v-2m0 -15v-1m0 -13v-4m0 -9v-2m0 -5v-2m0 -27v-2m0 -16v-2m0 -7v-2m0 -7v-2m0 -15v-3m0 -2v-2m0 -14v-2M195 807v-2m0 -16v-2m0 -7v-2m0 -25v-2m0 -47v-2m0 -61v-2m0 -17v-1m0 -20v-2m0 -2v-2m0 -5v-2m0 -43v-2m0 -17v-1m0 -31v-2m0 -4v-1m0 -20v-2m0 -15v-2m0 -5v-2m0 -9v-2m0 -5v-2m0 -11v-2m0 -14v-2m0 -33v-1m0 -11v-4m0 -25v-2m0 -29v-2m0 -2v-1m0 -4v-4m0 -5v-2m0 -42v-1m0 -40v-2m0 -2v-2m0 -12v-2m0 -6v-1m0 -8v-2m0 -12v-2m0 -4v-1m0 -20v-2m0 -15v-2M211 795v-2m0 -4v-2m0 -3v-2m0 -40v-2m0 -60v-1m0 -47v-2m0 -15v-2m0 -10v-2m0 -13v-2m0 -3v-2m0 -36v-2m0 -22v-4m0 -50v-2m0 -9v-2m0 -13v-2m0 -12v-2m0 -4v-2m0 -14v-2m0 -18v-2m0 -40v-1m0 -10v-1m0 -6v-2m0 -3v-2m0 -22v-2m0 -1v-4m0 -2v-2m0 -30v-2m0 -76v-2m0 -55v-1m0 -4v-4m0 -18v-2M222 818v-2m0 -25v-2m0 -58v-2m0 -11v-1m0 -11v-2m0 -2v-2m0 -5v-2m0 -2v-1m0 -4v-2m0 -5v-2m0 -16v-2m0 -22v-2m0 -60v-1m0 -10v-1m0 -2v-2m0 -7v-4m0 -3v-2m0 -4v-2m0 -16v-2m0 -20v-2m0 -12v-2m0 -9v-2m0 -20v-2m0 -12v-2m0 -11v-2m0 -2v-2m0 -5v-2m0 -29v-2m0 -1v-2m0 -11v-4m0 -2v-1m0 -2v-2m0 -29v-2m0 -2v-1m0 -13v-2m0 -47v-2m0 -5v-2m0 -6v-3m0 -9v-2m0 -11v-2m0 -18v-2m0 -3v-2m0 -53v-1m0 -51v-2M238 791v-2m0 -11v-3m0 -2v-2m0 -24v-3m0 -18v-4m0 -13v-1m0 -4v-2m0 -14v-2m0 -24v-3m0 -4v-2m0 -45v-2m0 -7v-2m0 -11v-2m0 -1v-2m0 -29v-7m0 -2v-2m0 -4v-3m0 -38v-2m0 -15v-2m0 -3v-2m0 -45v-2m0 -2v-2m0 -32v-2m0 -35v-1m0 -11v-2m0 -6v-1m0 -11v-2m0 -2v-3m0 -13v-2m0 -4v-1m0 -19v-1m0 -29v-2m0 -9v-4m0 -40v-1m0 -2v-2m0 -24v-1m0 -2v-4m0 -11v-2m0 -10v-2m0 -17v-1m0 -13v-2M249 816v-1m0 -4v-2m0 -23v-2m0 -2v-2m0 -9v-2m0 -5v-2m0 -24v-1m0 -2v-2m0 -69v-2m0 -23v-2m0 -15v-1m0 -33v-2m0 -3v-2m0 -11v-2m0 -74v-4m0 -5v-2m0 -4v-2m0 -14v-4m0 -5v-2m0 -23v-2m0 -6v-2m0 -3v-2m0 -5v-2m0 -7v-2m0 -31v-2m0 -33v-1m0 -4v-2m0 -12v-2m0 -26v-1m0 -8v-2m0 -7v-2m0 -3v-2m0 -2v-2m0 -20v-1m0 -20v-2m0 -80v-2m0 -14v-2m0 -24v-1M265 805v-1m0 -4v-2m0 -31v-1m0 -37v-1m0 -17v-2m0 -14v-2m0 -2v-1m0 -4v-2m0 -7v-2m0 -2v-2m0 -5v-2m0 -13v-1m0 -20v-2m0 -2v-4m0 -34v-2m0 -11v-1m0 -17v-2m0 -7v-2m0 -16v-2m0 -7v-2m0 -16v-2m0 -16v-2m0 -16v-2m0 -6v-1m0 -13v-4m0 -9v-2m0 -1v-4m0 -16v-2m0 -7v-2m0 -24v-2m0 -49v-1m0 -22v-2m0 -24v-3m0 -65v-2m0 -9v-2m0 -5v-2m0 -33v-2m0 -32v-2m0 -6v-1m0 -13v-2M276 767v-1m0 -11v-4m0 -14v-2m0 -6v-1m0 -4v-4m0 -14v-2m0 -22v-2m0 -3v-2m0 -20v-2m0 -23v-2m0 -6v-1m0 -9v-2m0 -7v-2m0 -22v-4m0 -9v-2m0 -3v-2m0 -7v-2m0 -13v-2m0 -9v-3m0 -9v-2m0 -2v-2m0 -9v-2m0 -14v-2m0 -4v-1m0 -4v-5m0 -6v-2m0 -18v-2m0 -29v-1m0 -17v-2m0 -14v-2m0 -5v-2m0 -6v-1m0 -2v-2m0 -69v-2m0 -32v-2m0 -44v-1m0 -2v-2m0 -11v-3m0 -13v-2m0 -5v-2m0 -4v-2m0 -3v-2m0 -11v-2m0 -3v-4m0 -4v-1m0 -10v-1m0 -29v-2M292 784v-2m0 -13v-2m0 -12v-2m0 -35v-1m0 -2v-2m0 -34v-2m0 -13v-2m0 -23v-2m0 -4v-1m0 -20v-2m0 -18v-2m0 -16v-2m0 -20v-2m0 -38v-2m0 -9v-2m0 -23v-2m0 -16v-2m0 -4v-2m0 -32v-2m0 -27v-2m0 -2v-2m0 -23v-2m0 -11v-2m0 -3v-4m0 -22v-2m0 -3v-2m0 -13v-2m0 -14v-2m0 -13v-1m0 -9v-2m0 -13v-4m0 -27v-2m0 -18v-1m0 -24v-2m0 -22v-1m0 -13v-2m0 -2v-2M303 796v-1m0 -53v-4m0 -3v-2m0 -7v-2m0 -62v-1m0 -10v-1m0 -6v-2m0 -14v-2m0 -9v-2m0 -12v-2m0 -4v-2m0 -3v-2m0 -9v-2m0 -15v-1m0 -13v-4m0 -38v-2m0 -3v-2m0 -4v-1m0 -2v-2m0 -9v-2m0 -11v-2m0 -12v-2m0 -4v-2m0 -108v-2m0 -11v-4m0 -16v-2m0 -43v-2m0 -4v-1m0 -22v-2m0 -43v-2m0 -15v-3m0 -4v-2m0 -36v-2m0 -2v-2m0 -5v-2m0 -5v-2m0 -2v-2m0 -7v-2M319 820v-2m0 -2v-1m0 -19v-3m0 -6v-1m0 -6v-2m0 -16v-2m0 -5v-2m0 -9v-2m0 -40v-3m0 -4v-2m0 -3v-2m0 -17v-1m0 -8v-1m0 -11v-2m0 -26v-3m0 -36v-4m0 -9v-2m0 -18v-2m0 -9v-2m0 -2v-1m0 -4v-2m0 -18v-2m0 -7v-2m0 -38v-2m0 -1v-4m0 -6v-1m0 -11v-2m0 -22v-2m0 -1v-2m0 -84v-3m0 -13v-2m0 -3v-6m0 -16v-2m0 -13v-1m0 -15v-2m0 -3v-2m0 -26v-1m0 -38v-2m0 -9v-4m0 -2v-3m0 -42v-2m0 -16v-2M330 805v-1m0 -8v-1m0 -42v-2m0 -67v-2m0 -20v-1m0 -6v-2m0 -5v-2m0 -2v-3m0 -22v-2m0 -42v-1m0 -26v-2m0 -36v-2m0 -47v-2m0 -5v-2m0 -2v-2m0 -18v-1m0 -46v-2m0 -16v-2m0 -65v-2m0 -60v-1m0 -35v-3m0 -35v-2M346 816v-1m0 -35v-2m0 -34v-2m0 -16v-2m0 -34v-2m0 -9v-2m0 -6v-1m0 -24v-4m0 -16v-2m0 -38v-2m0 -5v-2m0 -11v-2m0 -1v-2m0 -16v-2m0 -6v-2m0 -10v-2m0 -17v-1m0 -11v-2m0 -2v-3m0 -73v-2m0 -11v-1m0 -13v-2m0 -20v-2m0 -20v-1m0 -10v-1m0 -28v-1m0 -17v-1m0 -19v-1m0 -15v-2m0 -9v-2m0 -21v-4m0 -2v-2m0 -36v-2m0 -45v-2m0 -7v-2m0 -7v-2m0 -5v-2M357 820v-2m0 -3v-2m0 -29v-2m0 -6v-1m0 -37v-3m0 -26v-1m0 -11v-2m0 -16v-2m0 -11v-2m0 -31v-1m0 -4v-2m0 -25v-2m0 -35v-3m0 -42v-2m0 -1v-2m0 -17v-1m0 -11v-2m0 -7v-2m0 -26v-1m0 -11v-2m0 -29v-2m0 -16v-2m0 -9v-2m0 -11v-3m0 -20v-4m0 -5v-2m0 -7v-2m0 -31v-2m0 -9v-2m0 -7v-2m0 -5v-2m0 -20v-2m0 -7v-4m0 -1v-2m0 -27v-4m0 -20v-2M373 820v-2m0 -11v-2m0 -10v-2m0 -11v-2m0 -40v-3m0 -31v-2m0 -18v-2m0 -2v-2m0 -18v-1m0 -4v-2m0 -23v-2m0 -17v-1m0 -37v-1m0 -15v-2m0 -14v-2m0 -2v-4m0 -7v-2m0 -5v-2m0 -14v-2m0 -29v-2m0 -29v-2m0 -3v-2m0 -2v-2m0 -9v-2m0 -2v-1m0 -2v-4m0 -3v-2m0 -7v-4m0 -31v-4m0 -23v-2m0 -5v-2m0 -20v-2m0 -13v-1m0 -29v-2m0 -40v-2m0 -7v-2m0 -9v-2m0 -18v-2m0 -9v-2m0 -9v-5m0 -16v-2m0 -15v-2m0 -3v-2m0 -2v-2m0 -23v-2M384 818v-2m0 -23v-2m0 -7v-2m0 -7v-2m0 -13v-2m0 -9v-2m0 -5v-2m0 -27v-4m0 -12v-2m0 -4v-1m0 -8v-2m0 -1v-2m0 -29v-2m0 -7v-2m0 -40v-2m0 -12v-2m0 -9v-6m0 -9v-2m0 -7v-3m0 -15v-4m0 -36v-2m0 -16v-4m0 -5v-2m0 -22v-1m0 -15v-2m0 -29v-2m0 -7v-3m0 -8v-1m0 -53v-2m0 -7v-2m0 -7v-2m0 -31v-2m0 -7v-2m0 -23v-2m0 -31v-2m0 -3v-4m0 -29v-2m0 -18v-2m0 -10v-2m0 -33v-4M400 804v-2m0 -13v-2m0 -45v-2m0 -34v-2m0 -101v-2m0 -22v-2m0 -11v-2m0 -30v-2m0 -47v-2m0 -20v-2m0 -5v-2m0 -16v-4m0 -22v-2m0 -5v-4m0 -3v-2m0 -4v-2m0 -7v-2m0 -56v-2m0 -27v-2m0 -3v-2m0 -7v-2m0 -4v-2m0 -1v-4m0 -4v-1m0 -2v-2m0 -16v-2m0 -7v-2m0 -22v-2m0 -2v-1m0 -44v-2m0 -20v-1m0 -13v-2m0 -13v-1M411 807v-2m0 -3v-2m0 -4v-1m0 -57v-3m0 -13v-2m0 -92v-2m0 -5v-2m0 -20v-2m0 -36v-6m0 -5v-2m0 -3v-2m0 -6v-2m0 -1v-2m0 -11v-2m0 -23v-2m0 -13v-2m0 -9v-2m0 -5v-2m0 -7v-2m0 -14v-2m0 -13v-2m0 -3v-2m0 -2v-2m0 -3v-4m0 -40v-2m0 -41v-2m0 -13v-4m0 -7v-2m0 -20v-1m0 -18v-4m0 -11v-2m0 -7v-2m0 -5v-2m0 -2v-2m0 -23v-2m0 -7v-2m0 -7v-4m0 -18v-2m0 -2v-2m0 -25v-2m0 -25v-2M427 771v-2m0 -22v-1m0 -9v-2m0 -31v-2m0 -16v-2m0 -33v-1m0 -6v-2m0 -21v-6m0 -67v-2m0 -45v-4m0 -1v-2m0 -2v-2m0 -25v-4m0 -13v-3m0 -9v-4m0 -20v-2m0 -9v-1m0 -4v-2m0 -2v-2m0 -3v-2m0 -5v-2m0 -31v-2m0 -22v-1m0 -8v-1m0 -2v-6m0 -7v-2m0 -16v-2m0 -11v-2m0 -3v-2m0 -29v-2m0 -41v-2m0 -11v-2m0 -24v-1m0 -4v-2m0 -5v-2m0 -7v-2m0 -2v-2M438 795v-6m0 -56v-2m0 -7v-2m0 -18v-2m0 -36v-2m0 -7v-2m0 -2v-2m0 -21v-2m0 -4v-2m0 -7v-3m0 -8v-1m0 -22v-2m0 -13v-2m0 -50v-4m0 -7v-2m0 -14v-2m0 -6v-2m0 -10v-2m0 -51v-2m0 -3v-2m0 -15v-3m0 -11v-2m0 -18v-2m0 -69v-2m0 -34v-2m0 -11v-2m0 -14v-2m0 -49v-2m0 -25v-2m0 -7v-2m0 -5v-2m0 -9v-2M454 820v-2m0 -2v-1m0 -2v-2m0 -6v-1m0 -4v-2m0 -16v-2m0 -11v-2m0 -3v-2m0 -9v-2m0 -2v-2m0 -7v-2m0 -3v-4m0 -16v-2m0 -5v-2m0 -6v-1m0 -26v-2m0 -1v-2m0 -6v-1m0 -4v-2m0 -14v-2m0 -26v-1m0 -13v-2m0 -2v-2m0 -1v-2m0 -9v-2m0 -5v-2m0 -4v-2m0 -11v-1m0 -2v-2m0 -2v-2m0 -3v-2m0 -35v-1m0 -4v-2m0 -14v-4m0 -5v-2m0 -9v-2m0 -31v-2m0 -7v-2m0 -5v-4m0 -11v-1m0 -26v-2m0 -9v-2m0 -12v-2m0 -31v-2m0 -9v-3m0 -11v-2m0 -16v-2m0 -16v-2m0 -2v-2m0 -14v-2m0 -7v-2m0 -24v-2m0 -9v-1m0 -62v-2m0 -5v-2m0 -24v-3M470 805v-1m0 -2v-2m0 -29v-2m0 -11v-1m0 -44v-2m0 -5v-2m0 -16v-2m0 -7v-2m0 -20v-2m0 -13v-1m0 -40v-2m0 -9v-2m0 -18v-4m0 -3v-2m0 -6v-1m0 -6v-2m0 -7v-2m0 -25v-2m0 -13v-1m0 -6v-2m0 -18v-2m0 -23v-2m0 -40v-2m0 -3v-2m0 -7v-2m0 -2v-4m0 -12v-2m0 -11v-2m0 -7v-2m0 -3v-2m0 -15v-2m0 -34v-2m0 -16v-4m0 -3v-2m0 -2v-2m0 -11v-3m0 -4v-2m0 -7v-2m0 -5v-4m0 -4v-1m0 -24v-2m0 -7v-2m0 -12v-2m0 -7v-2m0 -8v-1m0 -44v-2m0 -1v-2m0 -4v-2M481 767v-1m0 -4v-2m0 -18v-4m0 -5v-2m0 -14v-4m0 -13v-1m0 -42v-2m0 -20v-3m0 -22v-2m0 -25v-4m0 -7v-2m0 -29v-4m0 -5v-2m0 -76v-2m0 -11v-2m0 -12v-8m0 -52v-4m0 -45v-2m0 -16v-2m0 -24v-1m0 -18v-2m0 -15v-2m0 -32v-2m0 -14v-2m0 -11v-2m0 -4v-1m0 -29v-2m0 -20v-2m0 -2v-2M497 805v-1m0 -11v-2m0 -5v-2m0 -47v-2m0 -20v-2m0 -2v-2m0 -21v-2m0 -13v-2m0 -7v-2m0 -1v-2m0 -9v-4m0 -2v-2m0 -7v-2m0 -16v-2m0 -3v-4m0 -36v-2m0 -2v-4m0 -19v-2m0 -51v-2m0 -27v-4m0 -1v-2m0 -8v-1m0 -29v-2m0 -7v-4m0 -33v-1m0 -95v-2m0 -10v-2m0 -4v-3m0 -28v-1m0 -8v-2m0 -1v-2m0 -24v-1m0 -17v-2m0 -10v-2m0 -8v-1m0 -20v-2m0 -15v-1m0 -8v-1M508 809v-2m0 -21v-2m0 -29v-2m0 -4v-2m0 -47v-1m0 -60v-4m0 -5v-2m0 -15v-1m0 -6v-2m0 -5v-2m0 -4v-1m0 -26v-2m0 -10v-4m0 -4v-1m0 -28v-1m0 -31v-2m0 -13v-2m0 -3v-2m0 -18v-2m0 -13v-1m0 -4v-2m0 -2v-2m0 -9v-1m0 -11v-2m0 -2v-2m0 -27v-2m0 -2v-1m0 -42v-2m0 -5v-2m0 -2v-2m0 -2v-3m0 -26v-1m0 -67v-2m0 -6v-1m0 -62v-2m0 -38v-2M524 813v-2m0 -13v-2m0 -21v-2m0 -33v-2m0 -43v-2m0 -27v-2m0 -11v-2m0 -5v-5m0 -6v-2m0 -12v-2m0 -7v-2m0 -11v-2m0 -42v-1m0 -11v-4m0 -11v-3m0 -20v-4m0 -20v-2m0 -2v-1m0 -28v-1m0 -8v-1m0 -20v-2m0 -18v-2m0 -16v-2m0 -9v-2m0 -35v-1m0 -2v-4m0 -16v-2m0 -23v-2m0 -47v-2m0 -4v-2m0 -34v-2m0 -2v-3m0 -15v-2m0 -58v-3M535 813v-2m0 -27v-2m0 -7v-2m0 -29v-2m0 -24v-1m0 -6v-2m0 -39v-2m0 -7v-2m0 -4v-2m0 -9v-2m0 -3v-2m0 -18v-2m0 -25v-2m0 -16v-2m0 -20v-2m0 -2v-2m0 -3v-2m0 -6v-3m0 -2v-2m0 -34v-2m0 -29v-2m0 -32v-2m0 -2v-2m0 -7v-4m0 -2v-1m0 -19v-1m0 -4v-2m0 -16v-4m0 -29v-2m0 -3v-2m0 -9v-2m0 -25v-2m0 -29v-4m0 -9v-2m0 -5v-2m0 -23v-2m0 -16v-2m0 -4v-2m0 -25v-2m0 -14v-2m0 -2v-4m0 -18v-2m0 -5v-2M551 815v-2m0 -13v-2m0 -22v-3m0 -2v-2m0 -12v-2m0 -20v-2m0 -34v-2m0 -38v-2m0 -6v-1m0 -18v-2m0 -6v-2m0 -1v-2m0 -11v-2m0 -14v-2m0 -6v-1m0 -38v-2m0 -22v-2m0 -2v-1m0 -24v-2m0 -13v-1m0 -11v-2m0 -31v-2m0 -65v-2m0 -21v-2m0 -20v-2m0 -11v-2m0 -23v-2m0 -27v-2m0 -25v-2m0 -38v-2m0 -16v-2m0 -11v-2m0 -25v-2M562 811v-2m0 -33v-5m0 -2v-3m0 -2v-2m0 -11v-2m0 -5v-2m0 -9v-2m0 -11v-2m0 -38v-1m0 -17v-1m0 -51v-4m0 -25v-2m0 -16v-4m0 -34v-2m0 -27v-2m0 -2v-2m0 -43v-2m0 -2v-2m0 -2v-1m0 -13v-2m0 -22v-1m0 -31v-4m0 -2v-2m0 -18v-1m0 -37v-2m0 -5v-2m0 -25v-2m0 -7v-2m0 -15v-1m0 -2v-2m0 -7v-2m0 -43v-2m0 -55v-3m0 -22v-2m0 -2v-1m0 -2v-2m0 -7v-2M578 820v-2m0 -11v-2m0 -32v-2m0 -20v-2m0 -27v-2m0 -5v-2m0 -5v-2m0 -11v-2m0 -9v-4m0 -18v-1m0 -2v-2m0 -36v-2m0 -9v-2m0 -27v-2m0 -9v-2m0 -5v-2m0 -2v-2m0 -7v-2m0 -13v-1m0 -13v-2m0 -32v-2m0 -20v-2m0 -2v-2m0 -3v-2m0 -2v-2m0 -32v-2m0 -9v-2m0 -4v-1m0 -48v-1m0 -9v-2m0 -17v-1m0 -11v-2m0 -27v-2m0 -18v-2m0 -24v-1m0 -26v-2m0 -1v-2m0 -35v-1m0 -9v-2m0 -37v-1M589 802v-2m0 -5v-2m0 -18v-2m0 -24v-3m0 -22v-2m0 -11v-2m0 -1v-2m0 -24v-2m0 -25v-2m0 -32v-2m0 -2v-2m0 -32v-2m0 -18v-2m0 -31v-2m0 -16v-2m0 -7v-2m0 -11v-2m0 -1v-2m0 -4v-2m0 -7v-2m0 -2v-1m0 -8v-1m0 -6v-2m0 -11v-1m0 -4v-2m0 -9v-2m0 -2v-1m0 -17v-1m0 -15v-2m0 -2v-3m0 -9v-2m0 -2v-2m0 -32v-2m0 -7v-2m0 -13v-2m0 -14v-2m0 -11v-2m0 -56v-2m0 -12v-2m0 -20v-2m0 -2v-3m0 -6v-2m0 -18v-2m0 -43v-4m0 -14v-2M605 811v-2m0 -36v-6m0 -12v-2m0 -6v-1m0 -9v-2m0 -7v-2m0 -2v-2m0 -31v-1m0 -4v-2m0 -14v-2m0 -24v-2m0 -3v-2m0 -5v-2m0 -17v-1m0 -8v-1m0 -24v-2m0 -42v-1m0 -15v-2m0 -1v-2m0 -4v-4m0 -19v-2m0 -20v-2m0 -2v-2m0 -3v-2m0 -4v-2m0 -3v-2m0 -11v-2m0 -7v-2m0 -14v-2m0 -5v-2m0 -24v-2m0 -3v-2m0 -4v-2m0 -9v-1m0 -40v-2m0 -102v-3m0 -4v-2m0 -20v-1m0 -18v-2m0 -6v-2M616 807v-3m0 -26v-2m0 -1v-2m0 -2v-2m0 -7v-2m0 -18v-2m0 -49v-1m0 -8v-2m0 -39v-2m0 -17v-1m0 -13v-2m0 -5v-2m0 -44v-1m0 -11v-4m0 -2v-2m0 -1v-2m0 -2v-2m0 -3v-2m0 -11v-2m0 -11v-2m0 -14v-4m0 -14v-2m0 -2v-2m0 -3v-2m0 -56v-2m0 -7v-2m0 -7v-2m0 -6v-1m0 -8v-2m0 -9v-1m0 -6v-2m0 -5v-2m0 -2v-2m0 -10v-2m0 -20v-2m0 -2v-2m0 -3v-2m0 -5v-2m0 -11v-2m0 -25v-2m0 -22v-2m0 -16v-2m0 -43v-4m0 -16v-2m0 -20v-5m0 -2v-6m0 -3v-2M632 802v-4m0 -2v-1m0 -11v-2m0 -9v-2m0 -38v-2m0 -36v-2m0 -36v-2m0 -36v-2m0 -14v-2m0 -9v-2m0 -4v-2m0 -10v-2m0 -8v-1m0 -6v-2m0 -87v-1m0 -49v-2m0 -35v-1m0 -6v-3m0 -8v-2m0 -32v-2m0 -43v-2m0 -6v-2m0 -16v-2m0 -5v-2m0 -13v-1m0 -29v-2m0 -9v-2m0 -18v-2m0 -27v-2M643 796v-1m0 -15v-2m0 -27v-2m0 -25v-2m0 -22v-1m0 -31v-2m0 -2v-3m0 -24v-2m0 -14v-4m0 -18v-2m0 -2v-2m0 -29v-1m0 -13v-2m0 -9v-2m0 -23v-2m0 -4v-5m0 -49v-4m0 -12v-2m0 -11v-2m0 -2v-2m0 -3v-2m0 -4v-3m0 -20v-2m0 -9v-2m0 -5v-2m0 -27v-2m0 -6v-1m0 -13v-2m0 -34v-4m0 -13v-1m0 -2v-2m0 -9v-4m0 -3v-2m0 -7v-2m0 -20v-2m0 -22v-3m0 -13v-2m0 -14v-2m0 -36v-2m0 -4v-3m0 -6v-2m0 -1v-2M659 807v-2m0 -5v-2m0 -11v-3m0 -4v-2m0 -9v-2m0 -1v-2m0 -17v-1m0 -4v-2m0 -5v-2m0 -4v-1m0 -8v-2m0 -16v-2m0 -3v-2m0 -15v-1m0 -29v-2m0 -22v-2m0 -12v-2m0 -4v-2m0 -29v-1m0 -2v-2m0 -20v-4m0 -9v-2m0 -1v-4m0 -5v-2m0 -4v-2m0 -1v-2m0 -20v-2m0 -9v-2m0 -29v-2m0 -29v-2m0 -19v-4m0 -7v-2m0 -4v-2m0 -36v-2m0 -23v-2m0 -11v-2m0 -3v-2m0 -2v-2m0 -32v-2m0 -18v-2m0 -6v-1m0 -15v-2m0 -7v-2m0 -7v-2m0 -2v-1m0 -22v-2m0 -36v-2m0 -2v-2m0 -3v-2m0 -18v-2m0 -18v-2M670 815v-2m0 -4v-2m0 -41v-2m0 -22v-2m0 -31v-1m0 -2v-2m0 -16v-2m0 -9v-2m0 -2v-2m0 -7v-2m0 -25v-2m0 -7v-2m0 -9v-2m0 -2v-1m0 -22v-2m0 -2v-3m0 -35v-2m0 -9v-2m0 -10v-2m0 -11v-2m0 -5v-2m0 -2v-4m0 -7v-2m0 -16v-4m0 -36v-2m0 -27v-2m0 -5v-2m0 -9v-4m0 -39v-2m0 -8v-1m0 -20v-2m0 -6v-1m0 -6v-2m0 -3v-2m0 -15v-1m0 -2v-2m0 -33v-1m0 -4v-2m0 -2v-1m0 -6v-2m0 -50v-2m0 -7v-6m0 -4v-1m0 -47v-2m0 -9v-2M686 820v-2m0 -13v-1m0 -31v-2m0 -36v-4m0 -29v-2m0 -1v-2m0 -24v-2m0 -21v-2m0 -6v-3m0 -2v-2m0 -11v-2m0 -25v-2m0 -50v-2m0 -9v-4m0 -22v-2m0 -36v-2m0 -1v-2m0 -46v-3m0 -26v-3m0 -24v-2m0 -1v-2m0 -29v-4m0 -2v-1m0 -8v-1m0 -8v-2m0 -10v-2m0 -18v-2m0 -22v-2m0 -7v-2m0 -11v-1m0 -2v-2m0 -7v-4m0 -2v-2m0 -3v-2m0 -4v-1m0 -13v-2m0 -5v-4m0 -14v-2m0 -15v-2m0 -5v-2m0 -42v-1M697 800v-2m0 -22v-1m0 -11v-2m0 -16v-2m0 -27v-4m0 -4v-1m0 -11v-2m0 -2v-2m0 -14v-2m0 -4v-1m0 -28v-1m0 -44v-2m0 -9v-2m0 -3v-2m0 -7v-2m0 -15v-1m0 -33v-2m0 -5v-2m0 -25v-2m0 -18v-4m0 -27v-2m0 -4v-1m0 -15v-2m0 -2v-3m0 -4v-3m0 -37v-2m0 -3v-2m0 -16v-2m0 -9v-2m0 -13v-1m0 -4v-2m0 -34v-2m0 -2v-2m0 -5v-2m0 -4v-1m0 -15v-2m0 -5v-2m0 -2v-2m0 -3v-2m0 -33v-1m0 -87v-2M740 809v-2m0 -2v-1m0 -8v-1m0 -2v-2m0 -18v-2m0 -2v-2m0 -5v-2m0 -31v-1m0 -2v-2m0 -33v-1m0 -37v-2m0 -21v-2m0 -49v-2m0 -23v-2m0 -11v-4m0 -5v-2m0 -2v-2m0 -38v-1m0 -6v-2m0 -21v-4m0 -18v-2m0 -7v-2m0 -11v-2m0 -20v-2m0 -39v-2m0 -15v-2m0 -1v-2m0 -24v-2m0 -27v-2m0 -18v-1m0 -6v-2m0 -9v-5m0 -6v-1m0 -10v-1m0 -35v-2m0 -16v-2m0 -9v-2m0 -3v-2m0 -11v-2m0 -9v-2M751 820v-2m0 -14v-2m0 -15v-1m0 -2v-2m0 -11v-2m0 -7v-2m0 -60v-3m0 -22v-2m0 -29v-2m0 -18v-2m0 -16v-3m0 -20v-2m0 -26v-1m0 -29v-6m0 -5v-2m0 -49v-2m0 -58v-2m0 -25v-2m0 -14v-2m0 -4v-2m0 -34v-2m0 -3v-2m0 -20v-2m0 -20v-2m0 -7v-2m0 -11v-3m0 -11v-2m0 -5v-2m0 -22v-4m0 -3v-2m0 -7v-2m0 -33v-3m0 -13v-2m0 -11v-2m0 -3v-2m0 -2v-2m0 -5v-2m0 -11v-2"/>
<path class="l2" stroke-width="5" d="M124.5 813v-2m0 -2v-2m0 -99v-2m0 -7v-2m0 -62v-2m0 -14v-2m0 -16v-2m0 -27v-2m0 -18v-2m0 -69v-2m0 -3v-2m0 -9v-2m0 -7v-2m0 -33v-2m0 -65v-2m0 -5v-4m0 -27v-3m0 -35v-2m0 -5v-2m0 -62v-1m0 -8v-1m0 -20v-2m0 -9v-4m0 -7v-2m0 -54v-2M135.5 816v-1m0 -24v-4m0 -16v-2m0 -5v-2m0 -40v-2m0 -20v-1m0 -6v-2m0 -20v-1m0 -15v-2m0 -2v-1m0 -47v-2m0 -2v-2m0 -2v-2m0 -10v-2m0 -2v-2m0 -54v-2m0 -5v-2m0 -29v-2m0 -11v-2m0 -9v-2m0 -11v-3m0 -2v-2m0 -7v-2m0 -2v-1m0 -33v-2m0 -18v-2m0 -43v-4m0 -4v-1m0 -11v-2m0 -2v-2m0 -2v-3m0 -38v-2m0 -36v-2m0 -40v-2m0 -25v-2m0 -2v-2m0 -3v-2m0 -18v-2m0 -34v-2M146.5 804v-2m0 -6v-1m0 -22v-2m0 -2v-2m0 -20v-1m0 -11v-4m0 -56v-2m0 -22v-1m0 -6v-2m0 -1v-2m0 -40v-2m0 -27v-2m0 -2v-2m0 -32v-2m0 -5v-2m0 -36v-2m0 -4v-2m0 -21v-2m0 -20v-2m0 -31v-2m0 -14v-2m0 -11v-2m0 -23v-2m0 -22v-2m0 -10v-2m0 -15v-2m0 -1v-2m0 -60v-2m0 -40v-1m0 -2v-2m0 -4v-3m0 -13v-2m0 -9v-2m0 -40v-1m0 -13v-2m0 -7v-2M151.5 820v-2m0 -29v-2m0 -3v-2m0 -13v-2m0 -20v-1m0 -13v-2m0 -16v-2m0 -22v-1m0 -20v-2m0 -22v-4m0 -10v-2m0 -37v-1m0 -2v-2m0 -2v-2m0 -18v-2m0 -23v-2m0 -4v-1m0 -22v-2m0 -31v-2m0 -1v-2m0 -6v-1m0 -2v-2m0 -22v-2m0 -9v-1m0 -33v-2m0 -7v-2m0 -38v-2m0 -18v-2m0 -25v-2m0 -2v-2m0 -41v-2m0 -22v-2m0 -16v-2m0 -47v-2m0 -9v-2m0 -1v-2m0 -36v-2M162.5 789v-2m0 -30v-2m0 -27v-4m0 -60v-3m0 -20v-2m0 -11v-2m0 -5v-2m0 -15v-3m0 -22v-2m0 -7v-2m0 -20v-2m0 -20v-1m0 -13v-2m0 -4v-3m0 -7v-2m0 -22v-2m0 -23v-4m0 -11v-2m0 -25v-2m0 -3v-4m0 -56v-2m0 -18v-2m0 -7v-4m0 -5v-2m0 -56v-2m0 -11v-2m0 -23v-2m0 -4v-2m0 -58v-1m0 -19v-1m0 -4v-2m0 -12v-2M173.5 778v-2m0 -7v-2m0 -7v-2m0 -5v-2m0 -2v-2m0 -3v-2m0 -29v-2m0 -3v-2m0 -26v-3m0 -2v-2m0 -36v-2m0 -112v-2m0 -4v-1m0 -11v-2m0 -33v-2m0 -3v-2m0 -40v-2m0 -11v-1m0 -26v-2m0 -29v-1m0 -6v-2m0 -7v-2m0 -2v-1m0 -8v-1m0 -11v-2m0 -9v-2m0 -13v-1m0 -13v-2m0 -5v-2m0 -6v-1m0 -2v-2m0 -13v-2m0 -20v-1m0 -2v-2m0 -5v-2m0 -2v-2m0 -27v-2m0 -14v-2m0 -20v-2m0 -5v-4m0 -5v-2M178.5 775v-6m0 -16v-2m0 -9v-2m0 -11v-1m0 -11v-2m0 -36v-2m0 -4v-2m0 -9v-1m0 -13v-2m0 -9v-2m0 -18v-2m0 -40v-1m0 -19v-1m0 -19v-1m0 -22v-2m0 -40v-2m0 -23v-2m0 -4v-3m0 -33v-3m0 -13v-4m0 -27v-2m0 -12v-2m0 -9v-2m0 -2v-2m0 -12v-2m0 -9v-2m0 -6v-1m0 -8v-1m0 -11v-2m0 -9v-2m0 -114v-2m0 -2v-3m0 -2v-2m0 -5v-2m0 -4v-2M189.5 813v-2m0 -58v-2m0 -14v-4m0 -2v-2m0 -11v-1m0 -2v-2m0 -16v-2m0 -22v-2m0 -7v-2m0 -52v-2m0 -47v-2m0 -14v-2m0 -9v-2m0 -6v-1m0 -6v-2m0 -41v-2m0 -11v-2m0 -3v-2m0 -20v-2m0 -5v-2m0 -8v-1m0 -2v-2m0 -38v-2m0 -36v-2m0 -34v-2m0 -2v-2m0 -23v-6m0 -31v-3m0 -31v-2m0 -16v-4m0 -14v-2m0 -33v-1m0 -29v-2M200.5 798v-2m0 -1v-2m0 -42v-2m0 -18v-2m0 -5v-2m0 -22v-1m0 -6v-3m0 -15v-2m0 -31v-1m0 -6v-2m0 -18v-3m0 -8v-1m0 -42v-6m0 -10v-2m0 -22v-2m0 -60v-1m0 -11v-2m0 -4v-2m0 -20v-1m0 -35v-2m0 -5v-2m0 -7v-4m0 -14v-2m0 -11v-2m0 -32v-2m0 -2v-2m0 -20v-2m0 -25v-2m0 -5v-2m0 -33v-1m0 -26v-2m0 -43v-2M205.5 807v-2m0 -1v-2m0 -24v-3m0 -11v-2m0 -11v-2m0 -47v-2m0 -10v-2m0 -20v-2m0 -7v-2m0 -22v-2m0 -12v-2m0 -78v-2m0 -89v-3m0 -6v-2m0 -23v-2m0 -89v-2m0 -14v-2m0 -2v-2m0 -25v-2m0 -2v-3m0 -13v-2m0 -9v-2m0 -5v-2m0 -9v-2m0 -81v-4m0 -3v-2m0 -22v-2m0 -16v-2M216.5 796v-1m0 -6v-2m0 -21v-4m0 -4v-1m0 -42v-2m0 -7v-2m0 -36v-4m0 -13v-3m0 -84v-1m0 -15v-2m0 -18v-2m0 -5v-2m0 -31v-1m0 -13v-2m0 -13v-1m0 -22v-2m0 -4v-1m0 -22v-2m0 -25v-2m0 -13v-2m0 -11v-1m0 -31v-2m0 -4v-1m0 -6v-2m0 -32v-2m0 -15v-1m0 -26v-2m0 -32v-2m0 -105v-2M227.5 809v-2m0 -5v-2m0 -4v-1m0 -9v-2m0 -13v-2m0 -20v-2m0 -16v-2m0 -9v-2m0 -7v-2m0 -72v-2m0 -16v-2m0 -25v-2m0 -27v-2m0 -26v-1m0 -11v-2m0 -15v-1m0 -24v-2m0 -9v-2m0 -3v-2m0 -5v-2m0 -24v-2m0 -1v-2m0 -9v-2m0 -56v-2m0 -27v-2m0 -38v-2m0 -27v-4m0 -18v-2m0 -23v-4m0 -16v-2m0 -9v-2m0 -5v-2m0 -7v-2m0 -20v-2m0 -51v-2m0 -1v-2M232.5 811v-2m0 -36v-2m0 -22v-2m0 -9v-1m0 -20v-4m0 -2v-2m0 -103v-3m0 -29v-2m0 -62v-2m0 -63v-2m0 -18v-2m0 -7v-2m0 -80v-2m0 -1v-2m0 -9v-2m0 -15v-3m0 -53v-2m0 -9v-1m0 -26v-2m0 -23v-2m0 -2v-2m0 -12v-2m0 -25v-2m0 -11v-4m0 -32v-2M243.5 804v-4m0 -33v-1m0 -17v-2m0 -10v-2m0 -2v-2m0 -16v-2m0 -2v-2m0 -12v-2m0 -13v-2m0 -30v-2m0 -7v-2m0 -38v-4m0 -29v-2m0 -85v-2m0 -5v-4m0 -14v-2m0 -4v-2m0 -1v-2m0 -31v-2m0 -40v-1m0 -4v-2m0 -20v-2m0 -1v-2m0 -24v-2m0 -14v-2m0 -11v-2m0 -36v-2m0 -20v-3m0 -36v-4m0 -2v-2m0 -20v-1m0 -2v-2m0 -18v-2m0 -13v-2m0 -1v-2M254.5 786v-2m0 -17v-1m0 -4v-2m0 -16v-2m0 -20v-2m0 -47v-2m0 -5v-2m0 -3v-2m0 -2v-2m0 -13v-1m0 -24v-2m0 -2v-1m0 -11v-2m0 -6v-1m0 -15v-3m0 -20v-2m0 -9v-2m0 -80v-2m0 -1v-2m0 -20v-2m0 -7v-2m0 -6v-1m0 -11v-2m0 -7v-2m0 -2v-2m0 -18v-2m0 -9v-2m0 -18v-1m0 -42v-2m0 -11v-2m0 -9v-2m0 -1v-2m0 -13v-2m0 -7v-2m0 -5v-2m0 -13v-3m0 -17v-1m0 -29v-2m0 -22v-2m0 -36v-2M259.5 804v-2m0 -2v-2m0 -2v-1m0 -6v-2m0 -65v-2m0 -2v-3m0 -11v-2m0 -9v-2m0 -29v-1m0 -19v-1m0 -58v-2m0 -2v-4m0 -9v-2m0 -10v-2m0 -13v-2m0 -5v-2m0 -2v-2m0 -18v-2m0 -21v-2m0 -6v-1m0 -33v-2m0 -34v-2m0 -11v-2m0 -90v-2m0 -35v-1m0 -28v-1m0 -9v-2m0 -13v-2m0 -21v-2m0 -20v-2m0 -47v-2m0 -11v-3m0 -4v-2M270.5 820v-2m0 -3v-2m0 -2v-2m0 -47v-2m0 -9v-2m0 -36v-2m0 -3v-2m0 -15v-5m0 -27v-2m0 -7v-2m0 -7v-2m0 -13v-5m0 -26v-2m0 -1v-2m0 -40v-4m0 -3v-2m0 -9v-2m0 -42v-1m0 -10v-1m0 -2v-2m0 -11v-2m0 -32v-2m0 -2v-2m0 -29v-2m0 -5v-2m0 -5v-2m0 -11v-2m0 -11v-1m0 -35v-2m0 -32v-2m0 -6v-1m0 -31v-2m0 -2v-2m0 -21v-2m0 -6v-3m0 -18v-2m0 -33v-5m0 -11v-2m0 -27v-2m0 -3v-4m0 -2v-5M281.5 784v-2m0 -42v-2m0 -68v-2m0 -7v-2m0 -47v-2m0 -13v-2m0 -16v-2m0 -13v-1m0 -42v-4m0 -14v-4m0 -12v-2m0 -24v-2m0 -1v-2m0 -33v-4m0 -7v-2m0 -47v-2m0 -9v-1m0 -6v-2m0 -98v-1m0 -42v-2m0 -7v-2m0 -11v-2m0 -23v-2m0 -2v-2m0 -32v-2m0 -5v-2M286.5 811v-2m0 -34v-2m0 -47v-2m0 -11v-2m0 -114v-2m0 -20v-3m0 -11v-2m0 -2v-2m0 -20v-1m0 -11v-2m0 -18v-2m0 -4v-1m0 -8v-1m0 -24v-2m0 -32v-2m0 -6v-3m0 -129v-2m0 -2v-1m0 -8v-2m0 -25v-2m0 -43v-2m0 -40v-2m0 -14v-2m0 -13v-1M297.5 800v-2m0 -5v-2m0 -4v-1m0 -28v-1m0 -6v-5m0 -2v-2m0 -2v-3m0 -8v-1m0 -4v-2m0 -18v-4m0 -20v-1m0 -28v-1m0 -8v-1m0 -20v-2m0 -2v-2m0 -45v-2m0 -18v-2m0 -40v-2m0 -1v-2m0 -40v-2m0 -3v-2m0 -2v-2m0 -5v-2m0 -26v-1m0 -53v-2m0 -9v-2m0 -1v-2m0 -18v-2m0 -26v-1m0 -18v-2m0 -2v-2m0 -51v-1m0 -17v-2m0 -1v-2m0 -16v-4m0 -11v-2m0 -5v-2m0 -76v-2M308.5 805v-1m0 -49v-2m0 -27v-2m0 -4v-2m0 -3v-4m0 -16v-2m0 -2v-1m0 -37v-2m0 -7v-2m0 -58v-1m0 -69v-2m0 -2v-2m0 -7v-2m0 -25v-2m0 -4v-1m0 -22v-2m0 -80v-2m0 -14v-2m0 -9v-2m0 -27v-2m0 -43v-4m0 -3v-2m0 -6v-2m0 -18v-3m0 -33v-2m0 -9v-2m0 -9v-1m0 -42v-2m0 -7v-2m0 -13v-1M313.5 767v-1m0 -38v-2m0 -26v-1m0 -2v-2m0 -4v-1m0 -42v-2m0 -24v-1m0 -11v-2m0 -36v-4m0 -31v-2m0 -23v-2m0 -27v-2m0 -38v-2m0 -34v-2m0 -29v-2m0 -11v-2m0 -5v-2m0 -11v-3m0 -2v-2m0 -20v-2m0 -7v-2m0 -29v-2m0 -23v-2m0 -2v-2m0 -7v-2m0 -12v-2m0 -6v-1m0 -49v-2m0 -36v-2m0 -16v-4m0 -2v-2M324.5 807v-2m0 -5v-2m0 -5v-2m0 -2v-2m0 -9v-2m0 -19v-4m0 -11v-2m0 -34v-2m0 -36v-2m0 -11v-2m0 -25v-2m0 -36v-2m0 -16v-2m0 -7v-2m0 -9v-2m0 -15v-1m0 -13v-2m0 -27v-2m0 -9v-2m0 -9v-2m0 -21v-2m0 -24v-2m0 -7v-2m0 -12v-2m0 -6v-1m0 -38v-2m0 -7v-2m0 -13v-2m0 -12v-2m0 -18v-2m0 -17v-1m0 -13v-2m0 -2v-3m0 -2v-2m0 -2v-2m0 -7v-2m0 -30v-2m0 -38v-4m0 -9v-2m0 -3v-2m0 -22v-2m0 -2v-1m0 -18v-2M335.5 804v-4m0 -7v-2m0 -29v-2m0 -14v-2m0 -9v-2m0 -5v-2m0 -11v-2m0 -45v-2m0 -15v-1m0 -11v-2m0 -36v-2m0 -29v-2m0 -25v-2m0 -31v-2m0 -23v-2m0 -27v-6m0 -7v-2m0 -3v-2m0 -2v-2m0 -5v-2m0 -16v-2m0 -33v-2m0 -20v-1m0 -24v-4m0 -47v-2m0 -29v-1m0 -4v-2m0 -7v-2m0 -2v-3m0 -4v-2m0 -12v-2m0 -4v-2m0 -3v-2m0 -4v-1m0 -29v-6m0 -49v-2M340.5 789v-2m0 -5v-2m0 -9v-2m0 -23v-2m0 -6v-3m0 -11v-2m0 -32v-2m0 -4v-2m0 -16v-2m0 -18v-2m0 -32v-2m0 -17v-1m0 -17v-1m0 -37v-2m0 -9v-1m0 -2v-2m0 -44v-1m0 -6v-2m0 -50v-2m0 -11v-2m0 -11v-2m0 -16v-2m0 -9v-2m0 -10v-4m0 -45v-2m0 -60v-2m0 -34v-2m0 -34v-2m0 -20v-2m0 -9v-2m0 -11v-2m0 -5v-4m0 -20v-1M351.5 809v-2m0 -2v-1m0 -38v-2m0 -11v-2m0 -29v-2m0 -12v-2m0 -7v-2m0 -11v-2m0 -16v-4m0 -31v-1m0 -17v-2m0 -14v-6m0 -1v-4m0 -16v-2m0 -36v-2m0 -22v-2m0 -36v-2m0 -72v-2m0 -18v-2m0 -9v-2m0 -23v-2m0 -6v-2m0 -5v-2m0 -20v-2m0 -16v-2m0 -47v-2m0 -9v-1m0 -6v-2m0 -5v-4m0 -90v-2m0 -6v-1m0 -17v-2M362.5 820v-2m0 -11v-3m0 -11v-2m0 -2v-2m0 -59v-2m0 -8v-1m0 -13v-2m0 -3v-2m0 -9v-2m0 -6v-1m0 -4v-2m0 -34v-4m0 -23v-2m0 -7v-2m0 -33v-5m0 -4v-2m0 -3v-2m0 -18v-2m0 -47v-2m0 -2v-2m0 -20v-1m0 -22v-2m0 -38v-2m0 -13v-1m0 -6v-3m0 -28v-1m0 -8v-2m0 -76v-1m0 -22v-2m0 -7v-2m0 -22v-2m0 -9v-1m0 -13v-2m0 -14v-2m0 -17v-1m0 -4v-2m0 -31v-1M367.5 805v-1m0 -9v-2m0 -20v-2m0 -2v-2m0 -3v-2m0 -4v-3m0 -4v-2m0 -16v-2m0 -16v-2m0 -22v-1m0 -4v-2m0 -25v-2m0 -9v-4m0 -3v-2m0 -13v-2m0 -20v-1m0 -10v-1m0 -9v-2m0 -2v-2m0 -3v-2m0 -13v-2m0 -49v-2m0 -32v-2m0 -31v-2m0 -7v-2m0 -9v-2m0 -14v-2m0 -7v-2m0 -2v-2m0 -5v-2m0 -40v-1m0 -6v-2m0 -43v-2m0 -36v-2m0 -38v-2m0 -11v-2m0 -21v-2m0 -33v-2M378.5 820v-2m0 -40v-2m0 -9v-1m0 -19v-1m0 -2v-2m0 -52v-2m0 -8v-1m0 -4v-2m0 -16v-4m0 -58v-2m0 -19v-4m0 -11v-2m0 -31v-1m0 -2v-2m0 -2v-2m0 -23v-2m0 -22v-3m0 -4v-2m0 -2v-3m0 -8v-3m0 -11v-2m0 -3v-2m0 -2v-2m0 -5v-2m0 -22v-2m0 -29v-2m0 -16v-2m0 -45v-2m0 -14v-4m0 -5v-2m0 -11v-2m0 -2v-1m0 -6v-2m0 -25v-2m0 -13v-1m0 -9v-2m0 -4v-2m0 -7v-2m0 -11v-1m0 -51v-2m0 -4v-1m0 -4v-2m0 -7v-2m0 -2v-7M389.5 816v-3m0 -15v-2m0 -21v-2m0 -11v-2m0 -3v-2m0 -9v-2m0 -16v-2m0 -11v-4m0 -9v-2m0 -47v-2m0 -29v-1m0 -15v-2m0 -12v-2m0 -15v-1m0 -2v-2m0 -4v-2m0 -14v-2m0 -11v-2m0 -27v-2m0 -34v-2m0 -11v-1m0 -10v-1m0 -18v-2m0 -15v-2m0 -5v-2m0 -11v-2m0 -12v-2m0 -27v-2m0 -20v-2m0 -16v-2m0 -29v-2m0 -11v-1m0 -26v-2m0 -1v-4m0 -31v-2m0 -12v-2m0 -6v-1m0 -2v-2m0 -2v-2m0 -18v-3m0 -13v-2m0 -3v-2m0 -13v-2m0 -11v-1M394.5 775v-2m0 -2v-2m0 -2v-1m0 -35v-2m0 -52v-2m0 -9v-2m0 -5v-2m0 -6v-3m0 -36v-6m0 -22v-1m0 -46v-2m0 -14v-2m0 -2v-1m0 -6v-2m0 -20v-1m0 -17v-2m0 -25v-2m0 -11v-3m0 -11v-2m0 -20v-2m0 -14v-2m0 -25v-2m0 -6v-1m0 -29v-2m0 -8v-1m0 -35v-2m0 -18v-2m0 -5v-2m0 -11v-3m0 -44v-2m0 -32v-2m0 -5v-2M405.5 805v-1m0 -55v-2m0 -16v-2m0 -9v-2m0 -7v-2m0 -25v-2m0 -20v-1m0 -29v-4m0 -9v-2m0 -11v-2m0 -1v-2m0 -6v-2m0 -14v-2m0 -25v-2m0 -13v-2m0 -25v-2m0 -2v-1m0 -4v-2m0 -20v-3m0 -8v-1m0 -57v-1m0 -2v-2m0 -34v-2m0 -26v-1m0 -55v-2m0 -14v-4m0 -7v-2m0 -14v-4m0 -7v-2m0 -5v-2m0 -47v-2m0 -11v-2M416.5 807v-2m0 -3v-2m0 -11v-2m0 -23v-2m0 -4v-1m0 -10v-1m0 -2v-2m0 -18v-2m0 -36v-2m0 -25v-2m0 -31v-2m0 -25v-4m0 -2v-1m0 -4v-2m0 -16v-2m0 -13v-1m0 -9v-2m0 -2v-2m0 -36v-2m0 -11v-2m0 -14v-2m0 -4v-1m0 -26v-2m0 -50v-2m0 -7v-2m0 -20v-2m0 -2v-2m0 -3v-2m0 -15v-1m0 -84v-2m0 -7v-2m0 -21v-2m0 -16v-4m0 -11v-2m0 -12v-2m0 -18v-2m0 -26v-1M421.5 795v-2m0 -26v-1m0 -15v-2m0 -7v-2m0 -63v-4m0 -23v-2m0 -9v-2m0 -2v-2m0 -12v-4m0 -16v-2m0 -24v-3m0 -8v-1m0 -4v-2m0 -2v-1m0 -31v-2m0 -20v-2m0 -9v-3m0 -58v-4m0 -16v-2m0 -20v-2m0 -45v-2m0 -64v-1m0 -46v-1m0 -2v-4m0 -2v-2m0 -1v-2m0 -22v-2m0 -85v-3M432.5 802v-2m0 -24v-1m0 -15v-3m0 -6v-2m0 -21v-2m0 -6v-2m0 -3v-2m0 -16v-2m0 -40v-2m0 -11v-1m0 -4v-2m0 -7v-2m0 -7v-2m0 -18v-2m0 -4v-3m0 -7v-2m0 -15v-5m0 -4v-2m0 -16v-4m0 -7v-2m0 -27v-2m0 -27v-3m0 -4v-2m0 -11v-2m0 -3v-2m0 -11v-2m0 -49v-1m0 -6v-2m0 -14v-2m0 -33v-1m0 -35v-2m0 -16v-4m0 -3v-4m0 -25v-2m0 -2v-2m0 -16v-2m0 -5v-2m0 -24v-1m0 -40v-4m0 -11v-2m0 -30v-2M443.5 791v-4m0 -3v-2m0 -4v-2m0 -12v-2m0 -25v-2m0 -20v-2m0 -5v-2m0 -33v-2m0 -5v-2m0 -20v-2m0 -3v-2m0 -13v-2m0 -23v-2m0 -18v-2m0 -2v-1m0 -15v-2m0 -2v-1m0 -6v-2m0 -1v-2m0 -67v-2m0 -42v-2m0 -61v-2m0 -4v-2m0 -61v-2m0 -9v-2m0 -14v-2m0 -13v-2m0 -45v-2m0 -2v-1m0 -8v-1m0 -44v-2m0 -20v-1m0 -6v-2m0 -31v-1M448.5 815v-2m0 -42v-2m0 -18v-2m0 -45v-2m0 -25v-2m0 -69v-2m0 -7v-2m0 -2v-1m0 -2v-2m0 -11v-2m0 -25v-2m0 -7v-2m0 -9v-2m0 -47v-2m0 -21v-2m0 -24v-2m0 -7v-4m0 -30v-2m0 -4v-2m0 -29v-1m0 -2v-2m0 -2v-2m0 -21v-2m0 -18v-2m0 -42v-2m0 -14v-2m0 -5v-2m0 -27v-2m0 -9v-2m0 -53v-1m0 -31v-2m0 -2v-2m0 -14v-2M459.5 820v-2m0 -38v-2m0 -16v-4m0 -11v-1m0 -20v-2m0 -27v-2m0 -2v-2m0 -14v-2m0 -11v-3m0 -46v-2m0 -59v-4m0 -22v-2m0 -25v-4m0 -5v-2m0 -16v-2m0 -5v-2m0 -17v-1m0 -64v-2m0 -21v-2m0 -45v-2m0 -13v-2m0 -45v-2m0 -11v-2m0 -48v-2m0 -64v-2m0 -32v-2M464.5 798v-2m0 -29v-1m0 -6v-2m0 -56v-2m0 -5v-4m0 -14v-2m0 -9v-2m0 -14v-2m0 -38v-2m0 -78v-2m0 -32v-2m0 -4v-2m0 -27v-2m0 -5v-2m0 -81v-2m0 -20v-2m0 -45v-2m0 -33v-2m0 -47v-2m0 -16v-3m0 -8v-1m0 -19v-1m0 -26v-3m0 -6v-2m0 -7v-2M475.5 747v-1m0 -17v-1m0 -26v-2m0 -14v-2m0 -23v-2m0 -15v-2m0 -12v-2m0 -11v-2m0 -3v-2m0 -11v-2m0 -16v-2m0 -7v-4m0 -20v-2m0 -25v-2m0 -22v-1m0 -17v-2m0 -14v-2m0 -13v-1m0 -11v-2m0 -11v-4m0 -3v-2m0 -9v-2m0 -23v-2m0 -7v-4m0 -51v-2m0 -11v-1m0 -35v-2m0 -30v-2m0 -2v-2m0 -2v-3m0 -13v-2m0 -29v-2m0 -1v-2m0 -13v-3m0 -39v-1m0 -13v-2m0 -9v-2M486.5 816v-1m0 -51v-2m0 -2v-2m0 -9v-2m0 -19v-2m0 -18v-2m0 -49v-2m0 -27v-2m0 -31v-2m0 -3v-2m0 -25v-4m0 -5v-4m0 -11v-2m0 -23v-2m0 -6v-1m0 -15v-3m0 -24v-2m0 -9v-2m0 -5v-2m0 -4v-1m0 -26v-2m0 -20v-1m0 -4v-2m0 -11v-1m0 -4v-2m0 -5v-2m0 -2v-2m0 -5v-2m0 -38v-2m0 -36v-4m0 -52v-2m0 -31v-2m0 -5v-2m0 -36v-2m0 -31v-2m0 -5v-4M491.5 815v-2m0 -4v-2m0 -5v-2m0 -11v-2m0 -12v-2m0 -47v-2m0 -9v-2m0 -5v-2m0 -7v-2m0 -6v-1m0 -75v-2m0 -7v-2m0 -11v-1m0 -37v-1m0 -37v-1m0 -17v-2m0 -3v-2m0 -16v-2m0 -2v-2m0 -16v-2m0 -114v-2m0 -13v-1m0 -19v-1m0 -17v-1m0 -6v-2m0 -16v-2m0 -13v-1m0 -24v-2m0 -7v-2m0 -18v-2m0 -5v-2m0 -22v-1m0 -17v-2m0 -34v-2M502.5 816v-1m0 -24v-2m0 -34v-2m0 -11v-2m0 -9v-2m0 -1v-2m0 -13v-4m0 -59v-2m0 -35v-1m0 -48v-1m0 -29v-2m0 -38v-2m0 -15v-1m0 -6v-2m0 -14v-2m0 -16v-2m0 -31v-2m0 -16v-2m0 -16v-2m0 -2v-3m0 -11v-2m0 -33v-3m0 -8v-1m0 -26v-2m0 -1v-2m0 -13v-2m0 -34v-2m0 -36v-2m0 -5v-2m0 -4v-2m0 -45v-2m0 -3v-4m0 -18v-2M513.5 787v-1m0 -77v-1m0 -6v-2m0 -3v-2m0 -31v-2m0 -23v-2m0 -5v-2m0 -31v-4m0 -27v-2m0 -56v-2m0 -5v-4m0 -11v-1m0 -10v-1m0 -47v-2m0 -13v-2m0 -25v-2m0 -20v-2m0 -12v-2m0 -11v-2m0 -11v-2m0 -1v-2m0 -13v-2m0 -16v-2m0 -22v-1m0 -11v-4m0 -7v-2m0 -7v-2m0 -33v-1m0 -19v-1m0 -6v-2m0 -7v-2m0 -36v-2M518.5 784v-2m0 -13v-2m0 -29v-1m0 -6v-2m0 -5v-4m0 -34v-2m0 -5v-2m0 -18v-2m0 -2v-4m0 -12v-2m0 -24v-1m0 -38v-2m0 -2v-2m0 -2v-2m0 -30v-2m0 -18v-2m0 -73v-1m0 -55v-2m0 -9v-1m0 -15v-2m0 -2v-3m0 -24v-2m0 -43v-4m0 -5v-2m0 -20v-4m0 -10v-2m0 -4v-2m0 -12v-2m0 -4v-2m0 -36v-2m0 -3v-2m0 -4v-1m0 -17v-2m0 -21v-2m0 -9v-2M529.5 800v-2m0 -20v-2m0 -3v-2m0 -20v-2m0 -11v-3m0 -13v-2m0 -50v-6m0 -27v-2m0 -3v-2m0 -17v-1m0 -31v-2m0 -20v-2m0 -27v-2m0 -2v-1m0 -11v-4m0 -5v-2m0 -13v-3m0 -26v-2m0 -12v-2m0 -6v-1m0 -22v-2m0 -29v-2m0 -23v-2m0 -27v-2m0 -42v-3m0 -15v-2m0 -23v-2m0 -36v-2m0 -15v-1m0 -68v-1M540.5 795v-2m0 -13v-2m0 -49v-1m0 -15v-2m0 -32v-2m0 -9v-2m0 -42v-2m0 -14v-2m0 -9v-2m0 -11v-1m0 -46v-2m0 -70v-4m0 -32v-2m0 -17v-1m0 -6v-2m0 -11v-1m0 -73v-2m0 -38v-2m0 -34v-2m0 -29v-2m0 -1v-2m0 -2v-2m0 -12v-2m0 -8v-1m0 -2v-2m0 -14v-4m0 -6v-1m0 -26v-2m0 -10v-2M545.5 782v-2m0 -22v-1m0 -22v-2m0 -7v-2m0 -7v-2m0 -4v-2m0 -10v-2m0 -11v-2m0 -18v-2m0 -36v-2m0 -13v-1m0 -38v-2m0 -11v-2m0 -14v-2m0 -2v-2m0 -85v-2m0 -45v-2m0 -65v-2m0 -25v-2m0 -35v-2m0 -34v-2m0 -5v-2m0 -13v-2m0 -3v-4m0 -2v-1m0 -15v-2m0 -5v-2m0 -4v-1m0 -13v-2m0 -20v-2m0 -1v-2m0 -35v-1m0 -10v-3M556.5 811v-2m0 -9v-2m0 -7v-2m0 -11v-2m0 -16v-2m0 -3v-2m0 -20v-2m0 -9v-2m0 -3v-2m0 -4v-2m0 -94v-2m0 -1v-2m0 -17v-1m0 -13v-2m0 -25v-2m0 -34v-2m0 -4v-2m0 -11v-1m0 -9v-2m0 -6v-2m0 -18v-1m0 -2v-2m0 -15v-1m0 -9v-2m0 -42v-2m0 -20v-2m0 -3v-2m0 -31v-2m0 -27v-2m0 -47v-2m0 -19v-2m0 -46v-1m0 -11v-4m0 -29v-2m0 -18v-2m0 -12v-2M567.5 820v-2m0 -11v-2m0 -7v-2m0 -67v-1m0 -11v-2m0 -33v-2m0 -18v-3m0 -67v-2m0 -15v-1m0 -46v-2m0 -30v-2m0 -11v-2m0 -43v-2m0 -13v-2m0 -81v-2m0 -18v-2m0 -31v-2m0 -9v-2m0 -3v-2m0 -25v-4m0 -22v-2m0 -18v-1m0 -24v-2m0 -9v-2m0 -45v-2m0 -11v-1m0 -6v-2M572.5 807v-2m0 -7v-2m0 -10v-2m0 -22v-2m0 -7v-2m0 -14v-2m0 -2v-2m0 -14v-4m0 -4v-1m0 -17v-1m0 -17v-2m0 -10v-2m0 -9v-2m0 -27v-2m0 -22v-2m0 -2v-1m0 -2v-2m0 -49v-2m0 -5v-2m0 -34v-2m0 -58v-2m0 -16v-2m0 -11v-2m0 -23v-2m0 -20v-2m0 -2v-2m0 -5v-2m0 -9v-2m0 -9v-2m0 -47v-2m0 -16v-2m0 -27v-2m0 -16v-2m0 -5v-2m0 -42v-1m0 -4v-2m0 -11v-2m0 -27v-2M583.5 798v-2m0 -32v-2m0 -25v-2m0 -7v-2m0 -24v-2m0 -7v-2m0 -14v-2m0 -31v-2m0 -10v-2m0 -6v-2m0 -32v-2m0 -49v-2m0 -23v-2m0 -6v-1m0 -29v-2m0 -2v-2m0 -9v-2m0 -38v-2m0 -47v-3m0 -13v-2m0 -29v-2m0 -3v-2m0 -5v-2m0 -26v-1m0 -42v-2m0 -7v-2m0 -24v-1m0 -11v-2m0 -4v-1m0 -26v-2m0 -20v-3M594.5 787v-1m0 -40v-2m0 -58v-2m0 -87v-2m0 -5v-2m0 -22v-2m0 -14v-2m0 -18v-2m0 -52v-2m0 -4v-2m0 -12v-2m0 -16v-2m0 -11v-2m0 -52v-2m0 -9v-2m0 -16v-2m0 -64v-2m0 -30v-2m0 -9v-2m0 -16v-2m0 -11v-2m0 -5v-2m0 -29v-2m0 -3v-2m0 -37v-1m0 -29v-2M599.5 776v-1m0 -13v-2m0 -29v-2m0 -29v-1m0 -6v-3m0 -15v-2m0 -3v-4m0 -2v-2m0 -5v-2m0 -9v-2m0 -51v-1m0 -6v-2m0 -1v-4m0 -9v-2m0 -22v-1m0 -15v-2m0 -65v-2m0 -34v-4m0 -5v-2m0 -64v-1m0 -4v-2m0 -42v-1m0 -18v-2m0 -2v-2m0 -4v-1m0 -4v-2m0 -9v-2m0 -12v-2m0 -20v-2m0 -9v-2m0 -21v-2m0 -40v-2m0 -7v-2m0 -2v-2M610.5 813v-4m0 -5v-2m0 -22v-2m0 -3v-2m0 -6v-1m0 -17v-2m0 -29v-1m0 -9v-2m0 -11v-2m0 -31v-1m0 -6v-2m0 -9v-2m0 -5v-4m0 -14v-2m0 -14v-2m0 -31v-2m0 -83v-2m0 -7v-2m0 -18v-2m0 -15v-1m0 -29v-4m0 -11v-2m0 -7v-2m0 -9v-2m0 -14v-2m0 -5v-4m0 -9v-2m0 -2v-2m0 -1v-2m0 -11v-2m0 -18v-2m0 -20v-2m0 -5v-2m0 -18v-2m0 -9v-2m0 -9v-1m0 -22v-2m0 -14v-2m0 -15v-3m0 -31v-2m0 -38v-2m0 -2v-2m0 -3v-2M621.5 811v-2m0 -29v-2m0 -12v-2m0 -13v-2m0 -3v-2m0 -16v-2m0 -24v-2m0 -1v-2m0 -47v-2m0 -42v-2m0 -5v-4m0 -7v-2m0 -80v-1m0 -24v-2m0 -12v-2m0 -11v-4m0 -20v-1m0 -42v-2m0 -60v-2m0 -1v-2m0 -31v-2m0 -18v-2m0 -27v-2m0 -29v-2m0 -1v-2m0 -84v-1m0 -8v-3m0 -2v-2M626.5 793v-2m0 -4v-1m0 -4v-2m0 -56v-4m0 -12v-2m0 -22v-2m0 -7v-2m0 -14v-2m0 -4v-2m0 -10v-2m0 -51v-4m0 -1v-2m0 -42v-2m0 -99v-2m0 -6v-1m0 -26v-2m0 -5v-2m0 -4v-1m0 -28v-1m0 -13v-2m0 -7v-2m0 -2v-3m0 -37v-1m0 -24v-2m0 -27v-2m0 -25v-2m0 -23v-2m0 -33v-5m0 -18v-2m0 -8v-1m0 -6v-2M637.5 766v-2m0 -69v-2m0 -25v-2m0 -44v-1m0 -6v-2m0 -9v-1m0 -8v-2m0 -23v-2m0 -62v-1m0 -57v-1m0 -11v-2m0 -51v-2m0 -3v-2m0 -15v-1m0 -66v-1m0 -15v-2m0 -16v-4m0 -12v-4m0 -7v-2m0 -22v-2m0 -45v-2m0 -41v-2m0 -16v-2M648.5 820v-2m0 -3v-2m0 -13v-2m0 -16v-2m0 -40v-2m0 -25v-2m0 -9v-2m0 -16v-5m0 -15v-2m0 -11v-1m0 -38v-2m0 -24v-2m0 -7v-2m0 -3v-2m0 -9v-6m0 -3v-2m0 -18v-2m0 -62v-1m0 -55v-2m0 -1v-2m0 -24v-2m0 -3v-2m0 -7v-2m0 -18v-2m0 -13v-2m0 -52v-4m0 -3v-2m0 -56v-4m0 -4v-7m0 -5v-4m0 -32v-2m0 -11v-2m0 -4v-1m0 -13v-2m0 -31v-2M653.5 798v-2m0 -3v-2m0 -18v-2m0 -109v-1m0 -8v-2m0 -14v-2m0 -49v-2m0 -54v-2m0 -12v-2m0 -31v-4m0 -5v-2m0 -42v-1m0 -10v-1m0 -47v-4m0 -22v-2m0 -3v-2m0 -6v-1m0 -15v-2m0 -11v-1m0 -2v-2m0 -22v-2m0 -7v-2m0 -1v-2m0 -2v-2m0 -2v-1m0 -35v-2m0 -23v-4m0 -27v-2m0 -7v-2m0 -36v-2m0 -5v-4m0 -9v-4M664.5 820v-2m0 -23v-2m0 -2v-2m0 -3v-6m0 -2v-2m0 -36v-2m0 -18v-2m0 -7v-2m0 -34v-2m0 -32v-2m0 -27v-2m0 -2v-2m0 -14v-2m0 -20v-2m0 -9v-2m0 -41v-4m0 -6v-1m0 -8v-1m0 -8v-1m0 -44v-4m0 -65v-2m0 -9v-2m0 -12v-2m0 -25v-2m0 -47v-2m0 -35v-1m0 -15v-2m0 -5v-2m0 -42v-1m0 -4v-2m0 -40v-2m0 -18v-1M675.5 818v-3m0 -24v-2m0 -2v-1m0 -49v-2m0 -27v-2m0 -29v-2m0 -9v-2m0 -5v-2m0 -7v-2m0 -22v-2m0 -3v-2m0 -9v-2m0 -20v-2m0 -38v-2m0 -16v-2m0 -11v-1m0 -46v-2m0 -34v-2m0 -32v-2m0 -26v-1m0 -28v-1m0 -4v-2m0 -2v-2m0 -18v-1m0 -2v-2m0 -47v-2m0 -25v-2m0 -11v-2m0 -7v-2m0 -4v-1m0 -4v-4m0 -7v-2m0 -11v-1m0 -47v-2m0 -37v-1M680.5 804v-2m0 -9v-2m0 -24v-1m0 -55v-2m0 -9v-1m0 -2v-2m0 -34v-2m0 -13v-2m0 -3v-2m0 -7v-2m0 -11v-4m0 -36v-2m0 -9v-2m0 -36v-2m0 -18v-2m0 -12v-2m0 -2v-2m0 -3v-2m0 -8v-1m0 -31v-2m0 -7v-2m0 -22v-2m0 -5v-2m0 -3v-2m0 -4v-2m0 -5v-2m0 -2v-2m0 -9v-1m0 -11v-4m0 -13v-1m0 -4v-2m0 -42v-5m0 -5v-2m0 -47v-2m0 -4v-2m0 -43v-2m0 -20v-2m0 -34v-2m0 -2v-2m0 -27v-2M691.5 813v-2m0 -9v-2m0 -4v-1m0 -29v-2m0 -6v-1m0 -10v-1m0 -22v-2m0 -27v-2m0 -11v-2m0 -12v-4m0 -2v-1m0 -15v-2m0 -101v-4m0 -29v-4m0 -9v-3m0 -7v-2m0 -18v-2m0 -7v-2m0 -64v-2m0 -68v-2m0 -4v-2m0 -14v-2m0 -54v-2m0 -31v-2m0 -2v-1m0 -26v-2m0 -9v-3m0 -15v-2m0 -1v-2m0 -7v-2m0 -15v-2m0 -3v-2m0 -25v-2M707.5 786v-2m0 -13v-4m0 -14v-2m0 -34v-2m0 -2v-2m0 -21v-2m0 -2v-2m0 -20v-2m0 -7v-2m0 -31v-1m0 -15v-2m0 -16v-2m0 -45v-2m0 -14v-2m0 -42v-2m0 -23v-4m0 -25v-2m0 -6v-1m0 -20v-2m0 -31v-2m0 -3v-4m0 -34v-2m0 -24v-3m0 -6v-2m0 -16v-2m0 -25v-2m0 -5v-2m0 -22v-2m0 -2v-1m0 -8v-1m0 -4v-2m0 -31v-1m0 -17v-2m0 -12v-2m0 -33v-2M718.5 816v-1m0 -10v-1m0 -9v-2m0 -9v-2m0 -6v-1m0 -37v-1m0 -6v-2m0 -9v-2m0 -25v-2m0 -9v-2m0 -10v-2m0 -15v-2m0 -9v-1m0 -37v-1m0 -2v-2m0 -18v-2m0 -2v-2m0 -3v-2m0 -13v-2m0 -45v-2m0 -81v-2m0 -2v-2m0 -18v-2m0 -5v-2m0 -4v-1m0 -9v-2m0 -2v-2m0 -2v-1m0 -13v-2m0 -9v-2m0 -11v-2m0 -10v-2m0 -20v-2m0 -27v-2m0 -5v-2m0 -29v-4m0 -14v-4m0 -5v-2m0 -26v-1m0 -6v-2m0 -7v-2m0 -34v-2m0 -4v-1m0 -11v-2M729.5 805v-3m0 -15v-1m0 -15v-2m0 -23v-2m0 -20v-4m0 -40v-1m0 -8v-1m0 -19v-1m0 -4v-2m0 -9v-2m0 -3v-4m0 -4v-1m0 -64v-2m0 -29v-1m0 -15v-2m0 -9v-2m0 -7v-2m0 -41v-2m0 -6v-1m0 -22v-2m0 -16v-2m0 -42v-2m0 -1v-2m0 -6v-1m0 -8v-3m0 -15v-2m0 -20v-1m0 -57v-1m0 -6v-2m0 -7v-2m0 -5v-2m0 -4v-1m0 -15v-2m0 -50v-2m0 -6v-1m0 -8v-2M761.5 786v-2m0 -26v-1m0 -60v-2m0 -11v-2m0 -56v-2m0 -5v-2m0 -5v-2m0 -7v-2m0 -4v-2m0 -9v-2m0 -1v-2m0 -7v-2m0 -11v-2m0 -31v-3m0 -38v-2m0 -87v-2m0 -11v-2m0 -7v-2m0 -22v-1m0 -19v-1m0 -42v-2m0 -3v-2m0 -6v-2m0 -1v-2m0 -9v-2m0 -13v-2m0 -18v-1m0 -10v-1m0 -17v-1m0 -31v-2m0 -4v-1m0 -4v-2m0 -7v-2m0 -7v-2m0 -4v-3m0 -8v-1m0 -2v-2m0 -13v-1m0 -10v-1M772.5 780v-4m0 -58v-1m0 -46v-1m0 -20v-2m0 -13v-2m0 -20v-1m0 -4v-2m0 -7v-2m0 -45v-2m0 -25v-2m0 -40v-2m0 -2v-2m0 -14v-2m0 -25v-4m0 -23v-2m0 -69v-2m0 -29v-2m0 -2v-3m0 -27v-2m0 -18v-2m0 -11v-2m0 -7v-2m0 -7v-2m0 -36v-2m0 -36v-2m0 -7v-2m0 -29v-2M799.5 778v-2m0 -85v-1m0 -13v-2m0 -20v-2m0 -9v-2m0 -7v-2m0 -18v-2m0 -5v-4m0 -1v-2m0 -4v-2m0 -7v-2m0 -23v-2m0 -26v-1m0 -26v-2m0 -12v-2m0 -15v-1m0 -6v-2m0 -18v-2m0 -16v-2m0 -32v-2m0 -42v-2m0 -3v-2m0 -16v-2m0 -35v-3m0 -6v-1m0 -44v-2m0 -5v-2m0 -16v-2m0 -2v-2m0 -7v-2m0 -16v-2m0 -13v-1m0 -38v-2m0 -8v-1m0 -2v-2m0 -18v-2M826.5 746v-2m0 -24v-2m0 -34v-4m0 -5v-2m0 -11v-1m0 -6v-2m0 -54v-2m0 -11v-2m0 -3v-2m0 -22v-2m0 -65v-2m0 -16v-2m0 -58v-2m0 -14v-2m0 -16v-2m0 -56v-2m0 -20v-2m0 -3v-2m0 -9v-2m0 -9v-2m0 -27v-2m0 -2v-2m0 -3v-2m0 -11v-2m0 -7v-2m0 -16v-2m0 -14v-2m0 -2v-2m0 -12v-2m0 -27v-2m0 -8v-1m0 -4v-2m0 -11v-1M853.5 762v-2m0 -42v-1m0 -80v-2m0 -20v-2m0 -43v-2m0 -4v-1m0 -4v-2m0 -25v-2m0 -25v-4m0 -33v-1m0 -29v-2m0 -38v-2m0 -15v-1m0 -80v-2m0 -43v-2m0 -4v-2m0 -23v-2m0 -4v-2m0 -10v-2m0 -26v-1M880.5 811v-2m0 -7v-2m0 -4v-1m0 -11v-2m0 -16v-2m0 -38v-2m0 -13v-2m0 -18v-1m0 -19v-1m0 -9v-2m0 -9v-2m0 -4v-2m0 -7v-2m0 -30v-2m0 -6v-2m0 -19v-4m0 -22v-2m0 -7v-2m0 -34v-2m0 -27v-2m0 -7v-2m0 -29v-2m0 -3v-2m0 -6v-2m0 -1v-2m0 -29v-2m0 -11v-2m0 -21v-2m0 -42v-4m0 -3v-4m0 -5v-2m0 -49v-4m0 -29v-1m0 -6v-2m0 -23v-2m0 -31v-2m0 -25v-2m0 -2v-1m0 -8v-1M907.5 751v-2m0 -14v-2m0 -11v-2m0 -9v-2m0 -9v-1m0 -24v-2m0 -63v-2m0 -5v-2m0 -9v-2m0 -2v-2m0 -56v-2m0 -3v-2m0 -17v-1m0 -6v-2m0 -16v-2m0 -38v-2m0 -39v-2m0 -13v-2m0 -22v-1m0 -6v-2m0 -38v-1m0 -2v-2m0 -11v-2m0 -11v-1m0 -11v-2m0 -11v-2m0 -7v-2m0 -4v-1m0 -26v-2m0 -14v-2m0 -5v-2m0 -25v-2m0 -51v-2m0 -2v-1M934.5 802v-2m0 -34v-2m0 -4v-2m0 -43v-2m0 -16v-2m0 -2v-2m0 -27v-2m0 -7v-2m0 -29v-2m0 -1v-2m0 -11v-2m0 -18v-2m0 -18v-2m0 -11v-1m0 -15v-2m0 -29v-2m0 -30v-2m0 -15v-3m0 -4v-2m0 -2v-1m0 -60v-2m0 -20v-2m0 -3v-2m0 -6v-1m0 -2v-2m0 -149v-1m0 -19v-1m0 -22v-2m0 -22v-1m0 -11v-2"/>
<path class="l2" stroke-width="6" d="M130 813v-2m0 -9v-2m0 -33v-1m0 -8v-1m0 -8v-2m0 -21v-2m0 -96v-2m0 -20v-3m0 -28v-1m0 -10v-1m0 -4v-5m0 -31v-2m0 -47v-4m0 -43v-2m0 -36v-4m0 -2v-2m0 -3v-2m0 -27v-2m0 -2v-2m0 -11v-1m0 -38v-2m0 -33v-2m0 -7v-2m0 -2v-1m0 -11v-2m0 -33v-1m0 -6v-2m0 -16v-2m0 -63v-2m0 -16v-2M141 784v-2m0 -2v-2m0 -2v-1m0 -18v-2m0 -6v-2m0 -19v-2m0 -11v-2m0 -25v-2m0 -9v-2m0 -24v-1m0 -2v-4m0 -23v-2m0 -6v-1m0 -44v-2m0 -21v-2m0 -11v-4m0 -29v-2m0 -58v-1m0 -2v-2m0 -5v-2m0 -2v-2m0 -34v-2m0 -7v-4m0 -15v-1m0 -66v-1m0 -26v-2m0 -12v-2m0 -7v-4m0 -38v-4m0 -29v-1m0 -28v-1m0 -2v-2m0 -5v-4m0 -7v-2m0 -2v-2m0 -12v-2M157 757v-2m0 -17v-1m0 -29v-2m0 -24v-2m0 -1v-2m0 -18v-2m0 -29v-2m0 -16v-2m0 -5v-2m0 -15v-3m0 -57v-1m0 -13v-2m0 -36v-2m0 -5v-2m0 -6v-1m0 -19v-1m0 -2v-2m0 -16v-2m0 -24v-2m0 -1v-2m0 -16v-2m0 -8v-1m0 -8v-1m0 -2v-2m0 -18v-2m0 -7v-2m0 -29v-2m0 -9v-2m0 -23v-2m0 -7v-2m0 -33v-2m0 -1v-2m0 -33v-2m0 -16v-2m0 -7v-2m0 -5v-2m0 -34v-2M168 805v-1m0 -40v-2m0 -15v-1m0 -6v-2m0 -18v-2m0 -18v-1m0 -9v-2m0 -18v-2m0 -51v-2m0 -27v-2m0 -14v-2m0 -60v-2m0 -3v-2m0 -2v-2m0 -14v-2m0 -16v-2m0 -11v-2m0 -7v-2m0 -9v-2m0 -2v-1m0 -13v-2m0 -13v-1m0 -11v-2m0 -9v-2m0 -15v-1m0 -2v-2m0 -9v-2m0 -20v-2m0 -1v-2m0 -15v-2m0 -101v-2m0 -2v-1m0 -15v-2m0 -25v-2m0 -5v-2m0 -13v-2M184 805v-3m0 -2v-2m0 -5v-2m0 -7v-2m0 -100v-2m0 -63v-2m0 -61v-2m0 -11v-2m0 -47v-2m0 -34v-2m0 -11v-2m0 -7v-2m0 -7v-2m0 -31v-2m0 -81v-2m0 -13v-1m0 -31v-2m0 -11v-2m0 -7v-2m0 -50v-2m0 -24v-2m0 -27v-2m0 -29v-1M195 796v-3m0 -7v-2m0 -8v-1m0 -57v-3m0 -2v-2m0 -11v-1m0 -4v-2m0 -9v-2m0 -7v-2m0 -20v-2m0 -41v-2m0 -2v-2m0 -47v-2m0 -14v-4m0 -7v-2m0 -22v-1m0 -2v-2m0 -38v-2m0 -20v-2m0 -9v-1m0 -10v-3m0 -7v-2m0 -17v-1m0 -2v-2m0 -16v-2m0 -11v-2m0 -32v-2m0 -2v-2m0 -5v-2m0 -51v-2m0 -43v-2m0 -40v-2m0 -20v-1m0 -8v-1m0 -9v-2m0 -9v-2m0 -20v-4M211 746v-2m0 -53v-3m0 -31v-2m0 -14v-2m0 -13v-2m0 -43v-2m0 -27v-2m0 -33v-1m0 -39v-1m0 -4v-4m0 -76v-2m0 -3v-2m0 -5v-2m0 -2v-2m0 -27v-2m0 -29v-2m0 -1v-2m0 -9v-2m0 -15v-1m0 -66v-2m0 -56v-1m0 -48v-1m0 -19v-1M222 805v-1m0 -2v-2m0 -14v-2m0 -6v-2m0 -19v-2m0 -31v-2m0 -14v-2m0 -6v-1m0 -46v-2m0 -1v-2m0 -22v-2m0 -5v-2m0 -11v-2m0 -3v-2m0 -20v-2m0 -9v-2m0 -7v-2m0 -16v-2m0 -20v-2m0 -5v-6m0 -1v-2m0 -11v-2m0 -40v-2m0 -5v-2m0 -5v-2m0 -2v-3m0 -6v-2m0 -12v-2m0 -7v-4m0 -24v-3m0 -15v-3m0 -4v-2m0 -9v-4m0 -12v-2m0 -25v-2m0 -6v-1m0 -29v-2m0 -49v-2m0 -53v-1m0 -40v-2M238 805v-3m0 -31v-2m0 -3v-4m0 -4v-1m0 -58v-4m0 -4v-1m0 -22v-2m0 -9v-2m0 -14v-2m0 -7v-2m0 -73v-2m0 -1v-2m0 -26v-3m0 -24v-2m0 -47v-2m0 -10v-4m0 -13v-2m0 -32v-2m0 -54v-4m0 -116v-2m0 -16v-2m0 -45v-4m0 -29v-2M249 795v-2m0 -42v-2m0 -2v-1m0 -24v-2m0 -7v-2m0 -2v-1m0 -18v-2m0 -11v-2m0 -47v-2m0 -11v-2m0 -32v-2m0 -7v-2m0 -7v-2m0 -26v-1m0 -4v-5m0 -29v-2m0 -24v-3m0 -2v-2m0 -4v-1m0 -6v-2m0 -2v-3m0 -11v-2m0 -7v-4m0 -18v-2m0 -5v-2m0 -7v-2m0 -7v-2m0 -11v-2m0 -5v-6m0 -1v-2m0 -35v-1m0 -8v-2m0 -14v-2m0 -5v-4m0 -27v-2m0 -4v-3m0 -9v-2m0 -4v-1m0 -2v-2m0 -4v-2m0 -3v-2m0 -2v-2m0 -1v-2m0 -27v-8m0 -9v-1m0 -35v-4M265 820v-2m0 -25v-2m0 -42v-2m0 -5v-2m0 -14v-2m0 -7v-2m0 -36v-2m0 -9v-2m0 -9v-2m0 -54v-2m0 -9v-2m0 -14v-2m0 -66v-1m0 -8v-3m0 -17v-1m0 -66v-1m0 -19v-1m0 -8v-1m0 -19v-1m0 -9v-2m0 -6v-1m0 -17v-2m0 -29v-1m0 -75v-2m0 -18v-1m0 -4v-2m0 -22v-1m0 -2v-2m0 -2v-2m0 -43v-2m0 -2v-2m0 -16v-2m0 -5v-2M276 775v-2m0 -7v-2m0 -2v-2m0 -32v-2m0 -31v-4m0 -11v-1m0 -11v-2m0 -69v-2m0 -9v-2m0 -20v-1m0 -33v-2m0 -11v-1m0 -35v-4m0 -72v-2m0 -9v-2m0 -5v-2m0 -14v-2m0 -24v-3m0 -93v-2m0 -21v-6m0 -38v-2m0 -78v-1m0 -10v-1M292 809v-4m0 -12v-2m0 -11v-2m0 -7v-2m0 -22v-1m0 -4v-2m0 -11v-1m0 -37v-1m0 -20v-2m0 -7v-2m0 -38v-4m0 -22v-2m0 -7v-2m0 -1v-4m0 -16v-2m0 -27v-2m0 -42v-2m0 -47v-2m0 -23v-2m0 -16v-2m0 -4v-2m0 -148v-2m0 -33v-1m0 -53v-4m0 -5v-2m0 -31v-1M303 789v-2m0 -3v-2m0 -38v-2m0 -13v-1m0 -35v-3m0 -8v-3m0 -64v-2m0 -56v-2m0 -10v-2m0 -4v-2m0 -7v-2m0 -5v-2m0 -47v-2m0 -9v-2m0 -31v-1m0 -2v-2m0 -13v-2m0 -1v-2m0 -118v-2m0 -5v-2m0 -2v-2m0 -2v-1m0 -29v-4m0 -20v-2m0 -21v-2m0 -78v-2m0 -5v-2m0 -18v-2M319 807v-2m0 -12v-2m0 -7v-2m0 -4v-2m0 -36v-2m0 -18v-2m0 -43v-2m0 -7v-2m0 -58v-2m0 -3v-2m0 -7v-2m0 -33v-2m0 -32v-2m0 -2v-2m0 -27v-2m0 -43v-2m0 -14v-2m0 -8v-1m0 -38v-2m0 -38v-2m0 -13v-2m0 -12v-2m0 -4v-2m0 -10v-2m0 -15v-2m0 -14v-2m0 -2v-1m0 -4v-2m0 -16v-4m0 -18v-2m0 -9v-2m0 -5v-2m0 -16v-2m0 -65v-2m0 -4v-1m0 -11v-2M330 802v-2m0 -25v-2m0 -11v-2m0 -23v-2m0 -20v-2m0 -56v-2m0 -25v-2m0 -58v-2m0 -5v-2m0 -64v-1m0 -8v-3m0 -47v-2m0 -26v-1m0 -51v-2m0 -29v-2m0 -25v-2m0 -11v-2m0 -21v-2m0 -33v-2m0 -7v-2m0 -7v-2m0 -58v-2m0 -1v-2m0 -22v-2M346 776v-3m0 -7v-2m0 -2v-2m0 -11v-2m0 -18v-1m0 -15v-2m0 -25v-2m0 -7v-2m0 -38v-2m0 -13v-1m0 -8v-1m0 -69v-2m0 -6v-1m0 -20v-2m0 -31v-2m0 -20v-1m0 -11v-2m0 -11v-2m0 -38v-2m0 -12v-2m0 -2v-2m0 -2v-1m0 -13v-2m0 -20v-2m0 -20v-1m0 -17v-3m0 -98v-2m0 -2v-2m0 -14v-2m0 -38v-2m0 -31v-1M357 724v-2m0 -5v-2m0 -4v-2m0 -5v-2m0 -25v-2m0 -25v-2m0 -35v-3m0 -15v-2m0 -27v-2m0 -18v-3m0 -9v-2m0 -7v-2m0 -6v-1m0 -13v-2m0 -7v-2m0 -2v-2m0 -36v-2m0 -3v-2m0 -2v-4m0 -7v-3m0 -26v-2m0 -29v-1m0 -11v-2m0 -4v-2m0 -18v-2m0 -14v-2m0 -11v-2m0 -16v-2m0 -29v-1m0 -13v-2m0 -22v-5m0 -4v-2m0 -18v-1m0 -46v-2m0 -5v-2m0 -3v-2m0 -4v-4m0 -14v-2m0 -2v-1M373 704v-2m0 -7v-2m0 -16v-4m0 -7v-2m0 -9v-4m0 -5v-2m0 -18v-2m0 -7v-2m0 -11v-1m0 -11v-2m0 -29v-2m0 -49v-2m0 -20v-1m0 -20v-2m0 -7v-2m0 -51v-2m0 -49v-3m0 -4v-2m0 -27v-2m0 -23v-2m0 -4v-2m0 -18v-2m0 -59v-2m0 -73v-1m0 -6v-2M384 807v-2m0 -10v-2m0 -29v-2m0 -62v-1m0 -35v-2m0 -32v-2m0 -13v-2m0 -25v-2m0 -34v-2m0 -27v-2m0 -5v-2m0 -4v-4m0 -7v-3m0 -31v-2m0 -9v-6m0 -77v-2m0 -13v-2m0 -3v-2m0 -6v-1m0 -58v-2m0 -4v-2m0 -3v-2m0 -6v-1m0 -8v-1m0 -11v-2m0 -18v-2m0 -6v-1m0 -40v-2m0 -4v-1m0 -13v-2m0 -4v-1m0 -2v-4m0 -2v-1m0 -24v-2m0 -9v-2m0 -3v-2M400 811v-2m0 -31v-3m0 -24v-5m0 -9v-2m0 -6v-3m0 -29v-2m0 -7v-2m0 -44v-3m0 -9v-2m0 -33v-2m0 -23v-2m0 -7v-2m0 -2v-2m0 -9v-3m0 -24v-2m0 -36v-4m0 -47v-1m0 -60v-2m0 -22v-3m0 -28v-1m0 -15v-2m0 -11v-1m0 -17v-2m0 -47v-2m0 -1v-2m0 -4v-2m0 -5v-2m0 -3v-2m0 -29v-2m0 -29v-2M411 815v-2m0 -15v-2m0 -9v-1m0 -22v-2m0 -11v-2m0 -41v-2m0 -24v-2m0 -23v-2m0 -9v-2m0 -11v-1m0 -8v-2m0 -5v-2m0 -60v-1m0 -15v-2m0 -23v-2m0 -45v-2m0 -6v-1m0 -11v-2m0 -94v-2m0 -18v-2m0 -15v-1m0 -20v-2m0 -4v-3m0 -17v-2m0 -16v-2m0 -108v-2m0 -17v-1m0 -2v-2M427 816v-1m0 -35v-2m0 -18v-2m0 -16v-2m0 -9v-3m0 -19v-3m0 -15v-1m0 -15v-2m0 -27v-2m0 -61v-2m0 -7v-2m0 -44v-3m0 -2v-2m0 -16v-2m0 -45v-2m0 -18v-2m0 -7v-2m0 -8v-1m0 -2v-2m0 -4v-1m0 -11v-2m0 -25v-2m0 -11v-2m0 -11v-3m0 -6v-5m0 -38v-2m0 -18v-2m0 -16v-2m0 -6v-2m0 -10v-4m0 -20v-2m0 -2v-1m0 -8v-1m0 -11v-2m0 -20v-2m0 -23v-2m0 -2v-2m0 -14v-2m0 -2v-2m0 -12v-2m0 -6v-2M438 820v-2m0 -11v-2m0 -9v-1m0 -44v-2m0 -5v-4m0 -14v-2m0 -6v-1m0 -22v-2m0 -16v-2m0 -13v-1m0 -6v-2m0 -12v-2m0 -11v-2m0 -4v-1m0 -22v-2m0 -4v-1m0 -9v-2m0 -60v-2m0 -14v-2m0 -7v-2m0 -24v-2m0 -3v-2m0 -20v-2m0 -36v-2m0 -16v-2m0 -34v-2m0 -4v-2m0 -3v-2m0 -16v-2m0 -15v-2m0 -1v-2m0 -27v-2m0 -4v-2m0 -25v-2m0 -7v-2m0 -27v-2m0 -25v-4m0 -31v-1m0 -8v-1m0 -8v-2m0 -25v-2M454 802v-2m0 -4v-1m0 -4v-2m0 -13v-1m0 -2v-2m0 -4v-1m0 -4v-2m0 -16v-2m0 -22v-2m0 -5v-2m0 -87v-2m0 -5v-2m0 -3v-2m0 -20v-2m0 -58v-2m0 -25v-2m0 -42v-1m0 -28v-1m0 -53v-2m0 -20v-2m0 -12v-2m0 -9v-6m0 -27v-2m0 -7v-2m0 -32v-2m0 -18v-2m0 -2v-3m0 -29v-2m0 -9v-2m0 -20v-2m0 -9v-2m0 -61v-2M470 820v-2m0 -2v-1m0 -15v-2m0 -11v-3m0 -15v-2m0 -10v-2m0 -9v-6m0 -29v-2m0 -25v-2m0 -20v-1m0 -6v-2m0 -14v-2m0 -76v-2m0 -2v-2m0 -14v-2m0 -34v-2m0 -2v-2m0 -3v-4m0 -60v-2m0 -12v-4m0 -69v-2m0 -3v-2m0 -22v-2m0 -9v-2m0 -9v-1m0 -15v-2m0 -9v-3m0 -26v-3m0 -35v-2m0 -21v-2m0 -69v-2M481 815v-2m0 -2v-4m0 -27v-2m0 -20v-1m0 -2v-2m0 -25v-2m0 -67v-2m0 -2v-4m0 -25v-2m0 -23v-4m0 -18v-2m0 -14v-4m0 -2v-2m0 -30v-2m0 -9v-2m0 -29v-2m0 -11v-2m0 -1v-2m0 -47v-2m0 -40v-2m0 -13v-1m0 -37v-1m0 -11v-2m0 -42v-2m0 -5v-2m0 -38v-2m0 -87v-1M497 813v-2m0 -4v-2m0 -50v-2m0 -25v-2m0 -120v-2m0 -47v-2m0 -21v-2m0 -24v-2m0 -1v-2m0 -26v-3m0 -9v-2m0 -4v-1m0 -19v-1m0 -8v-1m0 -13v-2m0 -13v-1m0 -31v-2m0 -4v-2m0 -1v-2m0 -44v-1m0 -2v-2m0 -13v-3m0 -8v-1m0 -15v-2m0 -29v-2m0 -16v-2m0 -21v-2m0 -4v-2m0 -5v-2m0 -34v-2m0 -13v-2m0 -7v-2m0 -3v-2m0 -18v-2M508 800v-2m0 -9v-2m0 -3v-4m0 -20v-2m0 -29v-1m0 -17v-2m0 -1v-2m0 -16v-6m0 -13v-1m0 -22v-2m0 -49v-2m0 -5v-2m0 -5v-2m0 -7v-2m0 -8v-1m0 -6v-2m0 -5v-2m0 -9v-2m0 -5v-2m0 -42v-3m0 -6v-2m0 -54v-2m0 -21v-2m0 -9v-2m0 -33v-2m0 -25v-2m0 -41v-2m0 -27v-2m0 -4v-2m0 -2v-3m0 -16v-2m0 -22v-2m0 -11v-1m0 -15v-2m0 -22v-1m0 -18v-2m0 -26v-1m0 -8v-2m0 -3v-2M524 815v-2m0 -47v-2m0 -51v-2m0 -7v-2m0 -11v-1m0 -2v-2m0 -6v-1m0 -22v-2m0 -38v-2m0 -20v-2m0 -12v-2m0 -5v-4m0 -2v-2m0 -29v-2m0 -10v-2m0 -40v-2m0 -16v-2m0 -105v-2m0 -56v-2m0 -13v-1m0 -35v-2m0 -65v-4m0 -1v-6m0 -3v-2m0 -22v-2m0 -7v-2m0 -32v-2m0 -4v-2M535 818v-2m0 -1v-2m0 -26v-1m0 -29v-2m0 -2v-2m0 -4v-1m0 -17v-1m0 -24v-2m0 -9v-3m0 -6v-2m0 -32v-2m0 -2v-2m0 -16v-2m0 -63v-2m0 -2v-2m0 -2v-1m0 -15v-2m0 -36v-2m0 -9v-2m0 -7v-2m0 -5v-2m0 -20v-2m0 -38v-2m0 -3v-2m0 -7v-2m0 -15v-3m0 -17v-1m0 -17v-1m0 -22v-2m0 -25v-2m0 -2v-2m0 -18v-2m0 -11v-1m0 -19v-1m0 -73v-2m0 -54v-2m0 -14v-2M551 820v-2m0 -36v-2m0 -65v-2m0 -16v-2m0 -4v-1m0 -8v-2m0 -23v-2m0 -14v-2m0 -9v-2m0 -2v-2m0 -7v-2m0 -3v-2m0 -6v-1m0 -13v-2m0 -22v-2m0 -3v-2m0 -13v-1m0 -11v-2m0 -26v-3m0 -6v-1m0 -37v-1m0 -6v-2m0 -2v-1m0 -9v-2m0 -6v-1m0 -28v-1m0 -13v-2m0 -22v-2m0 -3v-2m0 -13v-1m0 -33v-2m0 -7v-2m0 -4v-1m0 -6v-2m0 -14v-2m0 -5v-2m0 -13v-2m0 -11v-1m0 -29v-2m0 -40v-2m0 -14v-2m0 -9v-2m0 -34v-2m0 -6v-3M562 818v-2m0 -12v-2m0 -15v-1m0 -20v-2m0 -2v-2m0 -11v-3m0 -24v-2m0 -12v-2m0 -45v-2m0 -8v-1m0 -4v-2m0 -14v-2m0 -9v-2m0 -11v-3m0 -10v-1m0 -22v-2m0 -22v-3m0 -55v-1m0 -46v-2m0 -9v-1m0 -8v-2m0 -14v-4m0 -12v-2m0 -27v-2m0 -11v-2m0 -5v-4m0 -18v-2m0 -25v-2m0 -13v-2m0 -59v-2m0 -9v-2m0 -11v-3m0 -15v-2m0 -5v-4m0 -13v-1m0 -31v-2m0 -24v-1M578 813v-2m0 -20v-4m0 -1v-2m0 -44v-2m0 -9v-1m0 -29v-2m0 -26v-1m0 -24v-2m0 -2v-1m0 -11v-2m0 -33v-2m0 -10v-2m0 -13v-2m0 -9v-2m0 -1v-2m0 -13v-2m0 -11v-1m0 -6v-2m0 -11v-1m0 -9v-2m0 -51v-2m0 -3v-2m0 -17v-1m0 -13v-2m0 -11v-2m0 -9v-1m0 -6v-2m0 -5v-2m0 -11v-2m0 -58v-1m0 -120v-4m0 -21v-2m0 -24v-2m0 -10v-2M589 800v-2m0 -9v-2m0 -43v-2m0 -4v-1m0 -11v-2m0 -4v-2m0 -5v-2m0 -78v-1m0 -33v-2m0 -2v-2m0 -16v-3m0 -26v-3m0 -4v-2m0 -60v-2m0 -23v-2m0 -9v-2m0 -36v-2m0 -11v-2m0 -16v-2m0 -5v-2m0 -4v-1m0 -15v-2m0 -3v-2m0 -2v-2m0 -25v-2m0 -4v-1m0 -2v-2m0 -5v-2m0 -9v-2m0 -25v-2m0 -44v-2m0 -43v-2m0 -16v-4m0 -16v-2m0 -14v-2M605 815v-2m0 -51v-2m0 -11v-2m0 -21v-2m0 -31v-2m0 -14v-2m0 -22v-2m0 -50v-2m0 -42v-2m0 -27v-2m0 -99v-2m0 -4v-2m0 -52v-2m0 -7v-2m0 -27v-2m0 -69v-2m0 -5v-2m0 -4v-1m0 -20v-2m0 -40v-2m0 -9v-2m0 -3v-2m0 -49v-2m0 -2v-1m0 -15v-2M616 787v-1m0 -51v-2m0 -9v-2m0 -2v-2m0 -14v-2m0 -3v-2m0 -9v-4m0 -14v-2m0 -4v-2m0 -3v-2m0 -6v-1m0 -11v-2m0 -11v-2m0 -14v-2m0 -15v-1m0 -11v-2m0 -13v-3m0 -13v-2m0 -52v-2m0 -22v-2m0 -12v-2m0 -6v-2m0 -7v-2m0 -1v-2m0 -11v-2m0 -27v-2m0 -11v-3m0 -49v-2m0 -6v-1m0 -11v-2m0 -4v-2m0 -43v-2m0 -2v-1m0 -17v-2m0 -7v-2m0 -1v-2m0 -33v-2m0 -12v-2m0 -31v-4m0 -7v-2m0 -9v-2m0 -27v-5M632 804v-2m0 -26v-1m0 -15v-2m0 -3v-2m0 -2v-2m0 -21v-2m0 -9v-2m0 -7v-2m0 -18v-4m0 -42v-1m0 -8v-1m0 -20v-2m0 -35v-1m0 -19v-1m0 -9v-2m0 -22v-2m0 -32v-2m0 -2v-2m0 -14v-4m0 -11v-4m0 -19v-2m0 -2v-2m0 -11v-2m0 -9v-1m0 -48v-1m0 -4v-4m0 -12v-2m0 -24v-2m0 -5v-2m0 -7v-2m0 -9v-2m0 -7v-4m0 -3v-2m0 -36v-2m0 -15v-1m0 -15v-2m0 -7v-2m0 -18v-2m0 -7v-2m0 -12v-2m0 -15v-2m0 -10v-2m0 -15v-3M643 820v-4m0 -14v-2m0 -7v-2m0 -4v-1m0 -13v-2m0 -36v-2m0 -78v-2m0 -18v-2m0 -36v-2m0 -2v-3m0 -16v-2m0 -26v-1m0 -2v-2m0 -15v-1m0 -51v-2m0 -71v-1m0 -4v-2m0 -20v-2m0 -12v-2m0 -4v-3m0 -28v-1m0 -8v-1m0 -2v-2m0 -36v-2m0 -24v-2m0 -23v-2m0 -13v-1m0 -4v-2m0 -5v-2m0 -22v-2m0 -5v-2m0 -14v-2M659 820v-2m0 -27v-2m0 -29v-2m0 -20v-1m0 -38v-2m0 -13v-2m0 -5v-2m0 -2v-2m0 -12v-2m0 -15v-1m0 -19v-1m0 -44v-2m0 -20v-3m0 -11v-2m0 -25v-4m0 -7v-4m0 -7v-2m0 -2v-1m0 -6v-2m0 -43v-2m0 -5v-2m0 -31v-2m0 -36v-2m0 -13v-1m0 -8v-2m0 -1v-2m0 -13v-3m0 -8v-3m0 -15v-2m0 -23v-2m0 -27v-4m0 -40v-1m0 -48v-3m0 -11v-2m0 -7v-2M670 813v-2m0 -13v-2m0 -3v-2m0 -11v-2m0 -9v-2m0 -14v-2m0 -7v-2m0 -14v-2m0 -75v-1m0 -2v-2m0 -20v-2m0 -25v-4m0 -43v-2m0 -4v-1m0 -10v-3m0 -38v-2m0 -5v-2m0 -2v-2m0 -29v-2m0 -78v-1m0 -51v-4m0 -3v-2m0 -9v-2m0 -18v-2m0 -20v-2m0 -16v-2m0 -11v-2m0 -21v-2m0 -11v-2m0 -72v-2m0 -11v-2M686 789v-2m0 -59v-2m0 -9v-2m0 -22v-2m0 -1v-2m0 -29v-2m0 -100v-2m0 -9v-1m0 -51v-2m0 -11v-2m0 -40v-3m0 -20v-2m0 -34v-2m0 -29v-2m0 -7v-2m0 -13v-2m0 -7v-2m0 -3v-2m0 -44v-1m0 -13v-2m0 -43v-2m0 -4v-2m0 -45v-4m0 -16v-2m0 -1v-2M697 787v-1m0 -15v-2m0 -2v-1m0 -4v-2m0 -54v-4m0 -7v-2m0 -3v-2m0 -4v-2m0 -14v-2m0 -27v-2m0 -25v-2m0 -87v-2m0 -15v-1m0 -2v-2m0 -11v-2m0 -9v-2m0 -45v-2m0 -3v-2m0 -7v-2m0 -4v-2m0 -21v-2m0 -20v-2m0 -13v-1m0 -4v-2m0 -27v-2m0 -23v-2m0 -13v-2m0 -12v-2m0 -11v-2m0 -31v-2m0 -18v-1m0 -29v-4m0 -24v-3m0 -9v-2m0 -36v-2M740 820v-2m0 -5v-2m0 -4v-2m0 -30v-2m0 -6v-1m0 -35v-2m0 -20v-3m0 -7v-6m0 -14v-2m0 -2v-2m0 -2v-1m0 -8v-1m0 -4v-2m0 -27v-2m0 -92v-2m0 -18v-2m0 -25v-2m0 -11v-2m0 -38v-2m0 -7v-2m0 -18v-2m0 -20v-2m0 -9v-1m0 -10v-1m0 -2v-2m0 -36v-2m0 -36v-2m0 -9v-2m0 -11v-2m0 -121v-2m0 -3v-2m0 -9v-4m0 -9v-2M751 816v-1m0 -10v-1m0 -4v-2m0 -9v-2m0 -7v-2m0 -9v-3m0 -35v-2m0 -58v-1m0 -49v-2m0 -27v-2m0 -16v-2m0 -2v-2m0 -4v-1m0 -11v-2m0 -18v-6m0 -9v-1m0 -24v-2m0 -7v-2m0 -20v-2m0 -1v-2m0 -2v-2m0 -22v-1m0 -55v-3m0 -8v-3m0 -4v-2m0 -14v-2m0 -4v-2m0 -16v-2m0 -21v-2m0 -36v-2m0 -2v-2m0 -60v-1m0 -49v-4m0 -16v-2m0 -2v-2m0 -2v-1"/>
<path class="l3" stroke-width="5" d="M124.5 811v-2m0 -62v-3m0 -26v-1m0 -2v-2m0 -43v-2m0 -4v-2m0 -9v-2m0 -70v-2m0 -22v-2m0 -50v-2m0 -7v-4m0 -7v-2m0 -4v-2m0 -18v-3m0 -18v-4m0 -22v-2m0 -3v-2m0 -7v-2m0 -54v-2m0 -6v-3m0 -2v-2m0 -16v-2m0 -6v-1m0 -37v-1m0 -96v-2m0 -22v-2m0 -16v-2m0 -27v-2M135.5 793v-2m0 -34v-4m0 -44v-1m0 -2v-4m0 -32v-2m0 -6v-3m0 -6v-2m0 -1v-2m0 -11v-2m0 -5v-2m0 -22v-2m0 -7v-2m0 -7v-2m0 -38v-2m0 -11v-1m0 -6v-2m0 -9v-1m0 -11v-2m0 -2v-2m0 -16v-2m0 -5v-2m0 -24v-2m0 -12v-2m0 -34v-2m0 -40v-2m0 -2v-2m0 -79v-2m0 -33v-2m0 -14v-2m0 -4v-1m0 -4v-2m0 -18v-2m0 -12v-2m0 -35v-1m0 -20v-2m0 -22v-2m0 -2v-1M146.5 807v-2m0 -16v-2m0 -50v-2m0 -6v-1m0 -24v-2m0 -3v-2m0 -7v-2m0 -27v-2m0 -13v-2m0 -14v-2m0 -16v-2m0 -6v-1m0 -17v-2m0 -5v-2m0 -20v-2m0 -3v-4m0 -60v-1m0 -15v-2m0 -7v-2m0 -2v-1m0 -8v-2m0 -27v-2m0 -5v-2m0 -52v-2m0 -11v-2m0 -2v-1m0 -37v-2m0 -27v-2m0 -7v-2m0 -7v-2m0 -23v-2m0 -7v-2m0 -4v-2m0 -10v-2m0 -2v-2m0 -81v-2m0 -16v-2M151.5 800v-2m0 -23v-2m0 -13v-2m0 -3v-2m0 -11v-2m0 -34v-2m0 -4v-1m0 -2v-2m0 -9v-2m0 -9v-2m0 -23v-2m0 -6v-1m0 -17v-2m0 -5v-2m0 -27v-2m0 -61v-2m0 -7v-2m0 -75v-1m0 -9v-2m0 -2v-2m0 -40v-2m0 -45v-2m0 -5v-2m0 -29v-2m0 -22v-1m0 -2v-2m0 -9v-2m0 -74v-2m0 -2v-2m0 -5v-2m0 -11v-1m0 -40v-2M162.5 818v-2m0 -9v-2m0 -27v-2m0 -16v-2m0 -23v-2m0 -16v-2m0 -18v-4m0 -25v-2m0 -20v-2m0 -25v-2m0 -20v-2m0 -43v-2m0 -31v-2m0 -14v-2m0 -18v-4m0 -2v-1m0 -20v-2m0 -29v-2m0 -33v-1m0 -35v-3m0 -4v-2m0 -22v-1m0 -29v-2m0 -4v-2m0 -1v-2m0 -53v-2m0 -30v-2m0 -13v-2m0 -11v-1m0 -73v-2M173.5 800v-2m0 -11v-1m0 -22v-4m0 -5v-2m0 -6v-1m0 -22v-2m0 -20v-2m0 -14v-4m0 -5v-2m0 -2v-2m0 -1v-2m0 -6v-1m0 -42v-2m0 -43v-2m0 -4v-2m0 -3v-2m0 -11v-2m0 -14v-2m0 -13v-2m0 -29v-3m0 -22v-2m0 -18v-2m0 -7v-4m0 -45v-2m0 -11v-1m0 -6v-2m0 -2v-1m0 -13v-2m0 -32v-2m0 -9v-2m0 -24v-3m0 -8v-1m0 -19v-1m0 -9v-2m0 -36v-2m0 -13v-2m0 -18v-2m0 -11v-1m0 -4v-2m0 -9v-2m0 -25v-2m0 -13v-1M178.5 807v-2m0 -50v-2m0 -27v-2m0 -34v-2m0 -8v-1m0 -2v-2m0 -5v-2m0 -47v-4m0 -13v-1m0 -29v-2m0 -9v-2m0 -2v-2m0 -47v-2m0 -2v-1m0 -53v-2m0 -36v-2m0 -125v-2m0 -20v-1m0 -9v-4m0 -69v-2m0 -47v-2m0 -30v-2m0 -9v-4M189.5 811v-2m0 -7v-2m0 -16v-2m0 -83v-2m0 -13v-2m0 -5v-2m0 -53v-1m0 -8v-1m0 -24v-4m0 -9v-1m0 -8v-2m0 -9v-1m0 -40v-2m0 -2v-2m0 -23v-2m0 -18v-2m0 -11v-2m0 -36v-2m0 -2v-1m0 -4v-2m0 -14v-2m0 -40v-2m0 -29v-2m0 -87v-1m0 -46v-2m0 -7v-2m0 -18v-2m0 -9v-3m0 -31v-2m0 -13v-3M200.5 816v-1m0 -24v-2m0 -22v-3m0 -20v-2m0 -34v-2m0 -51v-2m0 -52v-2m0 -31v-2m0 -3v-2m0 -9v-2m0 -56v-4m0 -20v-2m0 -10v-2m0 -6v-2m0 -5v-2m0 -3v-2m0 -24v-2m0 -16v-2m0 -2v-1m0 -46v-1m0 -17v-2m0 -32v-2m0 -27v-2m0 -16v-2m0 -85v-2m0 -7v-2m0 -22v-2m0 -2v-3M205.5 805v-1m0 -6v-2m0 -7v-2m0 -14v-2m0 -13v-1m0 -53v-2m0 -29v-2m0 -34v-2m0 -18v-2m0 -14v-2m0 -78v-2m0 -2v-1m0 -57v-1m0 -28v-1m0 -15v-4m0 -25v-2m0 -34v-2m0 -24v-1m0 -6v-2m0 -52v-2m0 -5v-2m0 -140v-2m0 -3v-2M216.5 820v-2m0 -27v-2m0 -2v-1m0 -35v-2m0 -23v-2m0 -2v-2m0 -9v-3m0 -9v-4m0 -11v-4m0 -25v-2m0 -18v-2m0 -29v-1m0 -13v-2m0 -4v-1m0 -11v-2m0 -13v-2m0 -1v-2m0 -13v-2m0 -5v-2m0 -16v-2m0 -33v-2m0 -39v-2m0 -18v-2m0 -7v-2m0 -2v-2m0 -92v-2m0 -20v-2m0 -9v-2m0 -7v-2m0 -23v-2m0 -40v-2m0 -14v-2m0 -9v-2m0 -9v-2m0 -69v-2M227.5 751v-2m0 -36v-2m0 -47v-2m0 -16v-2m0 -32v-2m0 -13v-2m0 -23v-2m0 -2v-2m0 -23v-2m0 -4v-2m0 -18v-1m0 -26v-2m0 -49v-1m0 -22v-2m0 -27v-4m0 -3v-2m0 -4v-2m0 -9v-2m0 -16v-2m0 -49v-1m0 -35v-2m0 -38v-3m0 -40v-2m0 -31v-2m0 -3v-2M232.5 778v-2m0 -29v-1m0 -15v-2m0 -38v-1m0 -26v-3m0 -91v-2m0 -7v-2m0 -11v-2m0 -79v-2m0 -6v-1m0 -51v-2m0 -11v-2m0 -7v-2m0 -11v-1m0 -4v-2m0 -67v-2m0 -27v-2m0 -3v-2m0 -18v-2m0 -2v-2m0 -25v-2m0 -7v-2m0 -72v-2M243.5 775v-2m0 -9v-4m0 -9v-2m0 -2v-1m0 -44v-3m0 -4v-2m0 -9v-2m0 -25v-2m0 -9v-2m0 -14v-2m0 -18v-2m0 -4v-1m0 -53v-2m0 -23v-2m0 -29v-2m0 -9v-2m0 -22v-1m0 -15v-2m0 -3v-2m0 -9v-2m0 -7v-2m0 -6v-1m0 -44v-2m0 -14v-2m0 -24v-1m0 -28v-1m0 -4v-2m0 -42v-1m0 -15v-2m0 -7v-2m0 -9v-2m0 -1v-2m0 -24v-2m0 -9v-1m0 -4v-2m0 -7v-2m0 -4v-1m0 -28v-1m0 -18v-2M254.5 818v-2m0 -11v-1m0 -20v-2m0 -27v-2m0 -91v-1m0 -10v-1m0 -18v-2m0 -69v-2m0 -67v-2m0 -11v-2m0 -25v-2m0 -32v-2m0 -7v-2m0 -58v-2m0 -29v-2m0 -2v-1m0 -2v-2m0 -6v-1m0 -55v-2m0 -54v-2m0 -5v-2m0 -16v-2m0 -29v-2m0 -3v-2m0 -11v-2m0 -13v-1M259.5 758v-1m0 -42v-2m0 -14v-2m0 -78v-2m0 -47v-2m0 -7v-2m0 -16v-2m0 -44v-1m0 -46v-2m0 -61v-2m0 -2v-2m0 -5v-2m0 -45v-2m0 -27v-2m0 -67v-2m0 -7v-2m0 -13v-1m0 -69v-2m0 -34v-2M270.5 775v-2m0 -6v-1m0 -2v-2m0 -15v-1m0 -53v-2m0 -27v-2m0 -11v-1m0 -15v-2m0 -29v-1m0 -15v-2m0 -14v-2m0 -15v-1m0 -24v-2m0 -43v-2m0 -13v-2m0 -3v-2m0 -11v-4m0 -10v-2m0 -20v-2m0 -14v-2m0 -22v-2m0 -38v-2m0 -16v-2m0 -22v-1m0 -28v-1m0 -31v-4m0 -13v-1m0 -22v-2m0 -7v-2m0 -36v-2m0 -4v-1m0 -13v-2m0 -14v-4M281.5 789v-2m0 -1v-2m0 -17v-1m0 -24v-2m0 -2v-1m0 -20v-2m0 -35v-1m0 -35v-2m0 -3v-2m0 -2v-2m0 -30v-2m0 -8v-1m0 -26v-2m0 -72v-2m0 -18v-4m0 -9v-1m0 -20v-2m0 -6v-1m0 -4v-2m0 -4v-1m0 -29v-2m0 -26v-1m0 -35v-2m0 -14v-4m0 -9v-3m0 -35v-2m0 -59v-2m0 -6v-1m0 -2v-2m0 -96v-2M286.5 807v-2m0 -41v-2m0 -18v-2m0 -27v-2m0 -9v-2m0 -45v-2m0 -9v-2m0 -36v-4m0 -3v-2m0 -60v-2m0 -21v-2m0 -37v-1m0 -4v-2m0 -9v-2m0 -43v-2m0 -36v-2m0 -5v-2m0 -13v-2m0 -29v-2m0 -54v-2m0 -2v-1m0 -6v-2m0 -76v-2m0 -3v-2m0 -31v-2m0 -43v-2M297.5 771v-2m0 -32v-2m0 -26v-1m0 -8v-1m0 -42v-2m0 -9v-2m0 -7v-2m0 -13v-1m0 -2v-2m0 -7v-2m0 -2v-2m0 -1v-2m0 -2v-2m0 -22v-1m0 -37v-2m0 -18v-1m0 -4v-2m0 -13v-3m0 -9v-2m0 -7v-4m0 -2v-3m0 -38v-2m0 -4v-2m0 -12v-4m0 -9v-2m0 -9v-2m0 -25v-2m0 -9v-4m0 -14v-6m0 -18v-2m0 -10v-2m0 -51v-2m0 -16v-2m0 -18v-2m0 -7v-2m0 -9v-2m0 -34v-2m0 -2v-2m0 -20v-1m0 -20v-2m0 -4v-2M308.5 798v-2m0 -3v-2m0 -60v-2m0 -20v-1m0 -44v-2m0 -1v-2m0 -13v-2m0 -52v-2m0 -55v-1m0 -4v-2m0 -25v-2m0 -29v-2m0 -14v-2m0 -25v-2m0 -17v-1m0 -24v-4m0 -1v-2m0 -7v-4m0 -36v-2m0 -6v-1m0 -58v-2m0 -55v-1m0 -38v-6m0 -2v-1m0 -13v-2m0 -5v-2m0 -36v-2M313.5 811v-2m0 -23v-2m0 -6v-2m0 -7v-2m0 -3v-4m0 -7v-2m0 -5v-2m0 -33v-2m0 -1v-2m0 -33v-2m0 -1v-2m0 -44v-2m0 -16v-2m0 -3v-2m0 -9v-2m0 -13v-1m0 -22v-2m0 -42v-2m0 -5v-2m0 -22v-1m0 -18v-2m0 -17v-1m0 -49v-2m0 -22v-2m0 -14v-2m0 -47v-2m0 -40v-3m0 -10v-1m0 -4v-2m0 -2v-1m0 -31v-2m0 -5v-2m0 -4v-2m0 -3v-4m0 -22v-1m0 -2v-4m0 -2v-2m0 -16v-2m0 -7v-2m0 -7v-2m0 -14v-2M324.5 815v-2m0 -11v-2m0 -33v-1m0 -49v-2m0 -29v-2m0 -9v-2m0 -22v-1m0 -20v-2m0 -25v-2m0 -4v-4m0 -77v-2m0 -8v-1m0 -2v-2m0 -7v-2m0 -2v-2m0 -5v-2m0 -7v-2m0 -31v-3m0 -11v-2m0 -16v-2m0 -29v-2m0 -27v-2m0 -9v-2m0 -31v-2m0 -14v-2m0 -3v-2m0 -9v-2m0 -7v-2m0 -40v-2m0 -13v-1m0 -28v-3m0 -7v-2m0 -15v-2m0 -9v-1m0 -42v-2M335.5 789v-2m0 -7v-2m0 -41v-2m0 -33v-2m0 -14v-2m0 -18v-2m0 -52v-2m0 -31v-2m0 -5v-2m0 -24v-1m0 -26v-2m0 -20v-1m0 -2v-2m0 -2v-2m0 -5v-2m0 -16v-2m0 -18v-2m0 -92v-6m0 -13v-1m0 -2v-2m0 -13v-1m0 -33v-2m0 -4v-1m0 -9v-2m0 -13v-2m0 -34v-2m0 -9v-2m0 -18v-2m0 -16v-2m0 -9v-2m0 -2v-1m0 -49v-2M340.5 813v-2m0 -4v-2m0 -32v-2m0 -11v-2m0 -5v-6m0 -3v-2m0 -2v-2m0 -12v-2m0 -60v-2m0 -20v-1m0 -26v-2m0 -79v-2m0 -18v-2m0 -24v-1m0 -15v-2m0 -29v-2m0 -7v-2m0 -7v-2m0 -9v-2m0 -10v-2m0 -8v-1m0 -17v-1m0 -51v-2m0 -36v-2m0 -74v-2m0 -42v-2m0 -18v-2m0 -1v-2m0 -17v-1m0 -11v-2m0 -16v-2M351.5 776v-1m0 -15v-2m0 -134v-2m0 -85v-2m0 -12v-2m0 -27v-2m0 -53v-1m0 -107v-2m0 -4v-2m0 -54v-2m0 -3v-2m0 -60v-2m0 -9v-2m0 -5v-2m0 -23v-2m0 -11v-2m0 -31v-2M362.5 733v-2m0 -54v-2m0 -7v-2m0 -4v-1m0 -15v-2m0 -11v-1m0 -28v-1m0 -8v-2m0 -12v-2m0 -27v-4m0 -29v-3m0 -28v-1m0 -31v-2m0 -6v-1m0 -18v-4m0 -13v-2m0 -3v-2m0 -54v-2m0 -47v-2m0 -27v-2m0 -44v-1m0 -28v-1m0 -2v-2m0 -7v-2m0 -2v-2m0 -27v-2m0 -12v-2m0 -11v-2m0 -18v-2m0 -5v-2M367.5 820v-2m0 -27v-2m0 -22v-1m0 -4v-2m0 -7v-2m0 -4v-1m0 -33v-2m0 -31v-1m0 -6v-2m0 -47v-2m0 -81v-2m0 -5v-2m0 -18v-2m0 -2v-2m0 -9v-2m0 -10v-2m0 -33v-2m0 -27v-2m0 -9v-2m0 -9v-1m0 -6v-2m0 -81v-2m0 -47v-2m0 -20v-4m0 -25v-2m0 -52v-2m0 -9v-2m0 -7v-2m0 -42v-2M378.5 813v-2m0 -11v-2m0 -22v-1m0 -107v-2m0 -24v-1m0 -22v-2m0 -4v-1m0 -2v-2m0 -9v-2m0 -22v-1m0 -24v-2m0 -27v-2m0 -2v-1m0 -40v-2m0 -53v-2m0 -19v-2m0 -76v-2m0 -2v-2m0 -2v-1m0 -13v-2m0 -27v-4m0 -81v-2m0 -4v-2m0 -12v-2m0 -54v-4m0 -4v-1M389.5 771v-2m0 -2v-1m0 -29v-2m0 -31v-2m0 -9v-2m0 -3v-2m0 -9v-2m0 -7v-2m0 -2v-2m0 -27v-2m0 -5v-2m0 -18v-2m0 -47v-2m0 -25v-2m0 -7v-2m0 -24v-1m0 -33v-2m0 -22v-1m0 -11v-2m0 -4v-2m0 -16v-2m0 -65v-2m0 -5v-2m0 -31v-3m0 -11v-2m0 -18v-2m0 -4v-1m0 -46v-2m0 -41v-2m0 -7v-2m0 -36v-2m0 -6v-1m0 -15v-5M394.5 802v-2m0 -18v-4m0 -31v-1m0 -20v-4m0 -2v-2m0 -1v-2m0 -47v-2m0 -20v-2m0 -83v-2m0 -51v-2m0 -14v-2m0 -5v-2m0 -4v-2m0 -18v-1m0 -10v-1m0 -29v-2m0 -4v-2m0 -5v-2m0 -20v-2m0 -43v-2m0 -5v-4m0 -2v-2m0 -9v-1m0 -6v-2m0 -5v-2m0 -7v-4m0 -13v-1m0 -31v-2m0 -16v-2m0 -4v-2m0 -9v-1m0 -6v-2m0 -9v-1m0 -15v-2m0 -43v-2m0 -4v-2M405.5 742v-2m0 -22v-1m0 -29v-2m0 -33v-2m0 -5v-2m0 -9v-2m0 -21v-2m0 -9v-4m0 -27v-2m0 -9v-2m0 -32v-2m0 -27v-2m0 -29v-2m0 -71v-2m0 -18v-1m0 -19v-1m0 -35v-3m0 -8v-2m0 -1v-2m0 -2v-2m0 -11v-1m0 -6v-2m0 -41v-2m0 -4v-2m0 -36v-2m0 -14v-2m0 -24v-1m0 -26v-2m0 -10v-2m0 -2v-2M416.5 811v-2m0 -22v-1m0 -2v-2m0 -6v-1m0 -22v-2m0 -5v-2m0 -2v-2m0 -5v-2m0 -11v-2m0 -40v-1m0 -4v-2m0 -5v-2m0 -11v-2m0 -12v-4m0 -20v-4m0 -56v-2m0 -103v-2m0 -20v-1m0 -22v-2m0 -5v-2m0 -4v-2m0 -9v-2m0 -30v-2m0 -11v-2m0 -18v-2m0 -18v-2m0 -51v-3m0 -7v-2m0 -22v-2m0 -9v-2m0 -18v-3m0 -24v-2m0 -21v-2m0 -9v-2M421.5 796v-1m0 -13v-4m0 -43v-2m0 -22v-5m0 -33v-2m0 -20v-1m0 -8v-1m0 -13v-4m0 -11v-1m0 -153v-1m0 -42v-2m0 -67v-2m0 -20v-2m0 -14v-2m0 -94v-2m0 -58v-2m0 -7v-2m0 -9v-2M432.5 811v-2m0 -11v-2m0 -23v-2m0 -14v-2m0 -2v-2m0 -11v-3m0 -29v-2m0 -24v-2m0 -14v-2m0 -18v-2m0 -3v-2m0 -7v-2m0 -6v-2m0 -9v-1m0 -37v-1m0 -4v-2m0 -25v-2m0 -27v-2m0 -11v-2m0 -20v-2m0 -5v-2m0 -3v-2m0 -6v-1m0 -2v-2m0 -54v-2m0 -8v-1m0 -4v-2m0 -22v-1m0 -44v-2m0 -3v-2m0 -44v-1m0 -9v-2m0 -11v-4m0 -7v-2m0 -31v-1m0 -6v-2m0 -3v-4m0 -27v-2m0 -7v-2m0 -33v-1M443.5 762v-2m0 -14v-2m0 -9v-2m0 -22v-2m0 -16v-2m0 -16v-2m0 -60v-1m0 -91v-4m0 -36v-2m0 -12v-2m0 -78v-2m0 -13v-1m0 -37v-2m0 -36v-2m0 -9v-1m0 -6v-4m0 -36v-3m0 -29v-2m0 -4v-2m0 -9v-1m0 -44v-2m0 -25v-2m0 -5v-2m0 -4v-2M448.5 807v-2m0 -3v-2m0 -14v-2m0 -38v-2m0 -6v-1m0 -9v-2m0 -2v-2m0 -9v-2m0 -25v-2m0 -27v-2m0 -25v-2m0 -4v-2m0 -10v-2m0 -7v-2m0 -53v-2m0 -21v-2m0 -9v-2m0 -4v-2m0 -87v-1m0 -8v-1m0 -9v-2m0 -2v-2m0 -4v-1m0 -4v-2m0 -16v-2m0 -7v-2m0 -42v-1m0 -17v-2m0 -5v-2m0 -27v-2m0 -7v-2m0 -2v-2m0 -45v-2m0 -7v-2m0 -16v-2m0 -7v-2m0 -9v-2m0 -27v-4m0 -18v-1m0 -10v-1M459.5 800v-2m0 -94v-2m0 -54v-2m0 -2v-2m0 -25v-2m0 -27v-2m0 -61v-2m0 -85v-2m0 -6v-1m0 -13v-2m0 -42v-1m0 -8v-2m0 -34v-2m0 -11v-1m0 -8v-2m0 -19v-2m0 -18v-4m0 -25v-2m0 -6v-1m0 -2v-2m0 -16v-2m0 -33v-2M464.5 796v-1m0 -6v-2m0 -18v-2m0 -25v-2m0 -2v-1m0 -22v-2m0 -4v-1m0 -20v-2m0 -15v-3m0 -4v-2m0 -23v-2m0 -67v-2m0 -4v-1m0 -9v-2m0 -2v-2m0 -22v-1m0 -19v-3m0 -6v-1m0 -26v-2m0 -3v-2m0 -13v-2m0 -39v-2m0 -4v-2m0 -14v-2m0 -4v-1m0 -15v-2m0 -43v-2m0 -11v-2m0 -5v-2m0 -7v-2m0 -13v-3m0 -24v-2m0 -16v-2m0 -18v-2m0 -5v-2m0 -54v-2m0 -7v-2m0 -17v-1M475.5 762v-2m0 -3v-2m0 -15v-3m0 -67v-2m0 -36v-2m0 -84v-3m0 -11v-2m0 -18v-2m0 -4v-1m0 -20v-2m0 -36v-2m0 -13v-2m0 -12v-2m0 -16v-2m0 -13v-2m0 -5v-2m0 -13v-2m0 -9v-1m0 -6v-2m0 -188v-2m0 -25v-2m0 -22v-2M486.5 784v-2m0 -15v-1m0 -75v-1m0 -2v-4m0 -58v-2m0 -12v-2m0 -2v-2m0 -47v-2m0 -16v-2m0 -31v-2m0 -7v-2m0 -23v-2m0 -16v-2m0 -4v-2m0 -30v-4m0 -49v-2m0 -16v-2m0 -49v-2m0 -36v-2m0 -21v-2m0 -33v-2m0 -30v-2m0 -31v-2m0 -7v-2m0 -22v-1m0 -2v-2M491.5 791v-2m0 -13v-1m0 -2v-2m0 -4v-1m0 -11v-2m0 -25v-2m0 -9v-2m0 -27v-2m0 -2v-2m0 -47v-3m0 -13v-2m0 -14v-4m0 -18v-2m0 -5v-2m0 -53v-2m0 -11v-3m0 -26v-1m0 -40v-2m0 -2v-2m0 -18v-2m0 -7v-2m0 -3v-2m0 -9v-2m0 -33v-3m0 -20v-2m0 -36v-4m0 -32v-2m0 -6v-2m0 -47v-1m0 -24v-2m0 -63v-2m0 -2v-2M502.5 789v-2m0 -7v-2m0 -7v-2m0 -11v-1m0 -20v-2m0 -18v-2m0 -13v-2m0 -3v-2m0 -15v-1m0 -8v-1m0 -11v-2m0 -15v-1m0 -2v-2m0 -5v-2m0 -20v-2m0 -22v-2m0 -25v-2m0 -29v-2m0 -16v-2m0 -23v-2m0 -51v-2m0 -20v-1m0 -9v-6m0 -5v-2m0 -18v-2m0 -36v-2m0 -2v-2m0 -60v-1m0 -4v-2m0 -23v-2m0 -9v-2m0 -11v-2m0 -7v-2m0 -3v-2m0 -29v-2m0 -16v-2m0 -9v-2m0 -25v-2m0 -13v-2M513.5 800v-4m0 -5v-2m0 -81v-2m0 -47v-2m0 -2v-2m0 -9v-2m0 -23v-2m0 -9v-2m0 -25v-4m0 -47v-2m0 -29v-2m0 -14v-2m0 -20v-2m0 -23v-2m0 -2v-2m0 -9v-2m0 -23v-2m0 -9v-2m0 -20v-2m0 -14v-2m0 -16v-4m0 -27v-2m0 -3v-2m0 -4v-2m0 -21v-2m0 -36v-6m0 -5v-2m0 -6v-3m0 -11v-2m0 -23v-4m0 -34v-4M518.5 778v-2m0 -27v-2m0 -36v-2m0 -7v-2m0 -18v-3m0 -6v-2m0 -29v-3m0 -13v-4m0 -67v-1m0 -6v-2m0 -5v-2m0 -16v-2m0 -2v-2m0 -9v-2m0 -27v-2m0 -21v-2m0 -11v-2m0 -14v-2m0 -2v-2m0 -5v-2m0 -47v-2m0 -5v-4m0 -60v-2m0 -5v-2m0 -14v-2m0 -2v-2m0 -25v-2m0 -4v-1m0 -40v-2m0 -62v-1m0 -13v-2m0 -16v-2m0 -2v-2M529.5 815v-2m0 -29v-2m0 -25v-2m0 -24v-2m0 -1v-2m0 -27v-2m0 -4v-2m0 -12v-2m0 -15v-1m0 -6v-2m0 -2v-1m0 -6v-2m0 -25v-4m0 -10v-2m0 -17v-1m0 -44v-5m0 -6v-2m0 -3v-2m0 -5v-2m0 -89v-2m0 -14v-2m0 -17v-1m0 -15v-2m0 -7v-2m0 -31v-1m0 -6v-3m0 -15v-2m0 -41v-2m0 -27v-2m0 -17v-1m0 -4v-2m0 -45v-2m0 -5v-2m0 -9v-2m0 -9v-2m0 -14v-2m0 -4v-2m0 -1v-2m0 -4v-5M540.5 776v-1m0 -24v-2m0 -2v-1m0 -4v-2m0 -5v-2m0 -9v-2m0 -5v-2m0 -22v-2m0 -20v-1m0 -26v-2m0 -12v-4m0 -11v-2m0 -1v-2m0 -46v-1m0 -22v-2m0 -9v-2m0 -56v-4m0 -9v-1m0 -8v-2m0 -32v-2m0 -47v-2m0 -43v-2m0 -67v-2m0 -16v-2m0 -18v-2m0 -15v-1m0 -42v-2m0 -20v-3m0 -2v-2m0 -13v-2M545.5 787v-3m0 -18v-2m0 -24v-2m0 -10v-2m0 -36v-4m0 -4v-2m0 -23v-2m0 -2v-2m0 -34v-2m0 -3v-2m0 -7v-4m0 -49v-2m0 -20v-3m0 -2v-2m0 -7v-2m0 -44v-1m0 -17v-2m0 -10v-2m0 -2v-2m0 -5v-4m0 -67v-4m0 -54v-2m0 -2v-1m0 -11v-2m0 -20v-2m0 -5v-2m0 -4v-2m0 -9v-1m0 -11v-4m0 -23v-2m0 -2v-2M556.5 807v-2m0 -30v-2m0 -73v-3m0 -13v-2m0 -27v-2m0 -18v-2m0 -23v-2m0 -18v-2m0 -7v-2m0 -4v-1m0 -24v-4m0 -5v-2m0 -31v-2m0 -58v-1m0 -13v-5m0 -13v-2m0 -16v-2m0 -2v-5m0 -6v-2m0 -10v-4m0 -2v-2m0 -23v-2m0 -15v-1m0 -2v-2m0 -11v-2m0 -90v-2m0 -54v-2m0 -27v-2m0 -11v-2m0 -13v-3m0 -2v-2m0 -2v-2M567.5 778v-2m0 -18v-1m0 -11v-2m0 -18v-2m0 -15v-1m0 -11v-2m0 -25v-2m0 -2v-2m0 -29v-2m0 -21v-2m0 -7v-2m0 -18v-2m0 -17v-1m0 -18v-2m0 -8v-1m0 -44v-2m0 -3v-2m0 -7v-2m0 -9v-2m0 -9v-2m0 -74v-2m0 -9v-4m0 -18v-2m0 -20v-1m0 -67v-2m0 -4v-2m0 -21v-2m0 -73v-2m0 -1v-2m0 -2v-2m0 -14v-2m0 -13v-3m0 -4v-2M572.5 818v-3m0 -10v-3m0 -11v-2m0 -25v-2m0 -24v-1m0 -2v-2m0 -25v-2m0 -47v-2m0 -2v-2m0 -20v-1m0 -33v-2m0 -16v-2m0 -16v-2m0 -4v-2m0 -18v-2m0 -1v-2m0 -2v-2m0 -12v-2m0 -17v-1m0 -19v-1m0 -9v-2m0 -53v-2m0 -21v-2m0 -16v-2m0 -17v-1m0 -9v-2m0 -22v-2m0 -2v-1m0 -33v-2m0 -7v-2m0 -18v-6m0 -1v-2m0 -2v-2m0 -3v-2m0 -45v-2m0 -11v-2m0 -5v-2m0 -18v-2m0 -22v-2M583.5 786v-2m0 -64v-2m0 -5v-2m0 -63v-2m0 -11v-2m0 -16v-4m0 -5v-2m0 -11v-2m0 -10v-2m0 -20v-2m0 -7v-4m0 -36v-4m0 -12v-2m0 -13v-2m0 -14v-2m0 -20v-2m0 -18v-2m0 -116v-2m0 -32v-2m0 -40v-2m0 -18v-2m0 -14v-2m0 -11v-2m0 -50v-2m0 -20v-2M594.5 815v-2m0 -37v-1m0 -6v-2m0 -9v-1m0 -24v-2m0 -2v-1m0 -11v-2m0 -25v-2m0 -17v-1m0 -20v-2m0 -15v-1m0 -19v-1m0 -26v-2m0 -7v-3m0 -6v-2m0 -63v-2m0 -5v-2m0 -13v-4m0 -18v-3m0 -69v-2m0 -29v-2m0 -27v-2m0 -11v-1m0 -19v-1m0 -33v-2m0 -5v-2m0 -16v-2m0 -36v-2m0 -7v-2m0 -46v-1m0 -22v-4m0 -25v-2M599.5 811v-2m0 -54v-2m0 -18v-4m0 -13v-1m0 -2v-2m0 -5v-2m0 -20v-2m0 -45v-4m0 -11v-2m0 -25v-2m0 -16v-2m0 -9v-2m0 -9v-2m0 -5v-2m0 -29v-3m0 -11v-2m0 -33v-3m0 -9v-2m0 -37v-1m0 -2v-2m0 -25v-2m0 -56v-2m0 -24v-2m0 -1v-2m0 -33v-2m0 -5v-2m0 -20v-3m0 -19v-3m0 -4v-2m0 -38v-1m0 -8v-1m0 -33v-4m0 -7v-2m0 -22v-1M610.5 818v-2m0 -50v-4m0 -15v-1m0 -8v-1m0 -38v-2m0 -15v-2m0 -1v-4m0 -5v-4m0 -15v-3m0 -31v-2m0 -2v-3m0 -38v-2m0 -40v-2m0 -5v-2m0 -31v-2m0 -29v-3m0 -35v-2m0 -21v-2m0 -7v-2m0 -4v-2m0 -12v-2m0 -22v-3m0 -55v-2m0 -11v-1m0 -26v-3m0 -22v-2m0 -2v-3m0 -17v-1m0 -42v-2m0 -23v-2m0 -15v-2m0 -7v-2M621.5 798v-2m0 -36v-2m0 -34v-2m0 -13v-1m0 -11v-2m0 -27v-2m0 -5v-2m0 -27v-2m0 -15v-2m0 -23v-2m0 -38v-5m0 -26v-3m0 -39v-1m0 -44v-2m0 -117v-4m0 -56v-2m0 -35v-1m0 -20v-2m0 -80v-2M626.5 753v-2m0 -9v-2m0 -11v-1m0 -24v-2m0 -38v-2m0 -11v-1m0 -18v-2m0 -4v-2m0 -20v-1m0 -42v-2m0 -78v-2m0 -11v-1m0 -2v-2m0 -13v-2m0 -47v-1m0 -26v-2m0 -23v-2m0 -7v-2m0 -13v-2m0 -34v-2m0 -52v-2m0 -24v-3m0 -9v-4m0 -16v-2m0 -11v-2m0 -5v-2m0 -20v-2m0 -34v-2M637.5 773v-2m0 -42v-1m0 -42v-2m0 -25v-2m0 -6v-1m0 -44v-2m0 -5v-2m0 -22v-1m0 -17v-2m0 -9v-1m0 -17v-2m0 -5v-2m0 -23v-2m0 -18v-2m0 -29v-2m0 -22v-2m0 -3v-2m0 -38v-2m0 -38v-2m0 -3v-2m0 -16v-4m0 -22v-3m0 -11v-2m0 -2v-2m0 -74v-2m0 -67v-2M648.5 755v-4m0 -4v-1m0 -15v-2m0 -21v-2m0 -6v-1m0 -60v-4m0 -60v-3m0 -35v-2m0 -25v-4m0 -30v-2m0 -45v-2m0 -11v-2m0 -9v-2m0 -11v-3m0 -75v-1m0 -51v-2m0 -20v-2m0 -5v-2m0 -54v-2m0 -47v-2m0 -2v-2m0 -23v-2m0 -9v-2M653.5 791v-2m0 -52v-2m0 -35v-3m0 -6v-1m0 -8v-3m0 -13v-2m0 -5v-2m0 -85v-2m0 -11v-4m0 -50v-2m0 -31v-2m0 -32v-2m0 -31v-5m0 -8v-2m0 -23v-4m0 -38v-2m0 -61v-2m0 -27v-4m0 -105v-2m0 -18v-2M664.5 811v-2m0 -11v-2m0 -20v-1m0 -107v-2m0 -20v-2m0 -18v-2m0 -3v-2m0 -4v-2m0 -36v-2m0 -7v-2m0 -12v-2m0 -6v-1m0 -89v-2m0 -29v-2m0 -81v-4m0 -15v-1m0 -9v-2m0 -37v-1m0 -11v-4m0 -3v-4m0 -13v-2m0 -18v-2m0 -14v-2m0 -5v-4m0 -3v-2m0 -20v-2m0 -29v-2m0 -16v-2m0 -5v-2m0 -11v-4M675.5 815v-2m0 -13v-4m0 -12v-2m0 -40v-2m0 -2v-1m0 -107v-2m0 -11v-4m0 -21v-2m0 -33v-2m0 -5v-2m0 -22v-1m0 -13v-4m0 -2v-1m0 -4v-2m0 -7v-2m0 -9v-2m0 -31v-7m0 -38v-2m0 -5v-2m0 -31v-2m0 -1v-2m0 -80v-2m0 -16v-2m0 -5v-2m0 -15v-1m0 -20v-2m0 -20v-2m0 -14v-2m0 -6v-1m0 -9v-2m0 -20v-2m0 -18v-2m0 -16v-2m0 -4v-2M680.5 815v-2m0 -60v-4m0 -23v-2m0 -20v-2m0 -12v-2m0 -17v-1m0 -8v-1m0 -6v-2m0 -20v-1m0 -28v-1m0 -42v-2m0 -5v-2m0 -7v-2m0 -15v-2m0 -25v-4m0 -23v-2m0 -11v-2m0 -11v-1m0 -38v-2m0 -4v-2m0 -38v-2m0 -14v-2m0 -14v-2m0 -60v-2m0 -3v-4m0 -13v-2m0 -5v-2m0 -2v-1m0 -11v-4m0 -11v-2m0 -1v-2m0 -4v-2m0 -10v-2m0 -4v-2m0 -23v-2m0 -47v-2m0 -4v-1M691.5 798v-2m0 -36v-2m0 -94v-2m0 -11v-1m0 -28v-1m0 -4v-2m0 -18v-2m0 -56v-2m0 -2v-1m0 -9v-2m0 -60v-4m0 -9v-2m0 -5v-2m0 -2v-1m0 -35v-2m0 -27v-3m0 -29v-4m0 -13v-3m0 -4v-2m0 -2v-1m0 -58v-2m0 -13v-2m0 -2v-1m0 -15v-2m0 -27v-2m0 -7v-2m0 -56v-2m0 -7v-2m0 -2v-1m0 -9v-2M707.5 784v-2m0 -25v-2m0 -4v-2m0 -23v-2m0 -24v-1m0 -2v-2m0 -15v-1m0 -20v-2m0 -6v-1m0 -4v-2m0 -27v-2m0 -2v-1m0 -2v-2m0 -40v-4m0 -41v-2m0 -2v-2m0 -12v-2m0 -35v-3m0 -2v-2m0 -9v-2m0 -5v-2m0 -18v-2m0 -2v-2m0 -18v-1m0 -13v-2m0 -11v-2m0 -23v-2m0 -22v-2m0 -25v-2m0 -3v-2m0 -11v-2m0 -18v-2m0 -3v-4m0 -13v-2m0 -18v-2m0 -90v-4m0 -14v-2m0 -2v-2M718.5 793v-2m0 -4v-1m0 -24v-2m0 -13v-1m0 -11v-2m0 -42v-1m0 -2v-2m0 -20v-2m0 -14v-2m0 -16v-2m0 -9v-2m0 -2v-2m0 -2v-1m0 -13v-2m0 -18v-2m0 -23v-2m0 -4v-2m0 -14v-4m0 -20v-2m0 -9v-1m0 -26v-2m0 -58v-1m0 -26v-2m0 -7v-2m0 -52v-2m0 -16v-2m0 -15v-1m0 -17v-2m0 -7v-2m0 -7v-2m0 -9v-2m0 -43v-2m0 -2v-1m0 -69v-2m0 -27v-2M729.5 795v-2m0 -7v-2m0 -58v-2m0 -13v-2m0 -27v-2m0 -43v-2m0 -25v-4m0 -18v-2m0 -81v-2m0 -45v-2m0 -11v-2m0 -33v-5m0 -13v-2m0 -48v-2m0 -33v-2m0 -16v-2m0 -16v-2m0 -4v-1m0 -89v-2m0 -5v-6m0 -2v-1m0 -8v-2m0 -52v-4M761.5 802v-2m0 -2v-2m0 -12v-2m0 -7v-2m0 -13v-2m0 -11v-1m0 -82v-2m0 -5v-4m0 -9v-2m0 -5v-2m0 -3v-6m0 -2v-5m0 -2v-2m0 -25v-4m0 -9v-2m0 -30v-2m0 -6v-2m0 -39v-2m0 -2v-2m0 -2v-1m0 -2v-2m0 -16v-2m0 -15v-2m0 -14v-2m0 -5v-2m0 -9v-2m0 -4v-1m0 -2v-2m0 -2v-2m0 -7v-2m0 -3v-2m0 -13v-2m0 -14v-4m0 -5v-2m0 -24v-3m0 -17v-1m0 -2v-2m0 -2v-3m0 -13v-2m0 -9v-2m0 -7v-2m0 -13v-1m0 -24v-4m0 -1v-2m0 -24v-1m0 -62v-2m0 -20v-2m0 -1v-4m0 -7v-2M772.5 813v-2m0 -35v-1m0 -15v-2m0 -50v-2m0 -11v-4m0 -27v-2m0 -1v-2m0 -8v-1m0 -9v-2m0 -18v-2m0 -2v-2m0 -22v-1m0 -20v-2m0 -13v-2m0 -39v-2m0 -147v-2m0 -18v-2m0 -11v-2m0 -1v-2m0 -38v-2m0 -2v-3m0 -6v-2m0 -47v-2m0 -74v-2m0 -56v-2M799.5 816v-1m0 -6v-2m0 -27v-2m0 -14v-2m0 -109v-2m0 -5v-2m0 -7v-2m0 -25v-2m0 -4v-1m0 -11v-2m0 -15v-1m0 -44v-2m0 -27v-4m0 -23v-2m0 -20v-2m0 -29v-2m0 -68v-2m0 -17v-1m0 -24v-2m0 -23v-2m0 -4v-2m0 -1v-4m0 -5v-2m0 -6v-1m0 -2v-2m0 -15v-1m0 -6v-3m0 -17v-3m0 -8v-1m0 -9v-2m0 -31v-2m0 -34v-2m0 -2v-2M826.5 815v-2m0 -15v-2m0 -45v-4m0 -45v-2m0 -12v-2m0 -29v-2m0 -33v-1m0 -6v-2m0 -9v-1m0 -13v-2m0 -9v-2m0 -13v-1m0 -15v-2m0 -11v-1m0 -6v-2m0 -10v-2m0 -4v-2m0 -23v-2m0 -20v-2m0 -9v-2m0 -14v-2m0 -62v-3m0 -4v-2m0 -9v-2m0 -25v-2m0 -29v-2m0 -90v-2m0 -47v-2m0 -2v-2m0 -1v-2m0 -11v-2m0 -40v-2M853.5 802v-2m0 -11v-2m0 -14v-2m0 -2v-2m0 -27v-2m0 -30v-2m0 -16v-4m0 -4v-2m0 -27v-2m0 -45v-2m0 -25v-2m0 -96v-2m0 -58v-2m0 -16v-2m0 -159v-2m0 -7v-2m0 -27v-2m0 -33v-1m0 -4v-2m0 -25v-2M880.5 815v-2m0 -44v-2m0 -20v-1m0 -13v-2m0 -3v-2m0 -2v-2m0 -27v-2m0 -9v-2m0 -12v-2m0 -17v-1m0 -26v-3m0 -4v-2m0 -5v-2m0 -40v-2m0 -12v-2m0 -26v-1m0 -11v-2m0 -2v-2m0 -2v-1m0 -4v-2m0 -3v-4m0 -22v-3m0 -22v-2m0 -20v-2m0 -2v-1m0 -2v-2m0 -22v-3m0 -4v-2m0 -7v-2m0 -9v-2m0 -3v-2m0 -15v-1m0 -10v-1m0 -42v-2m0 -18v-2m0 -11v-1m0 -8v-3m0 -2v-2m0 -7v-4m0 -3v-2m0 -71v-2m0 -3v-2m0 -38v-2m0 -5v-2m0 -11v-2M907.5 807v-2m0 -30v-2m0 -24v-2m0 -59v-2m0 -9v-2m0 -4v-1m0 -13v-4m0 -18v-2m0 -21v-2m0 -29v-4m0 -34v-2m0 -18v-2m0 -42v-2m0 -3v-2m0 -2v-2m0 -9v-1m0 -116v-2m0 -6v-2m0 -1v-2m0 -20v-2m0 -4v-1m0 -37v-1m0 -131v-2m0 -18v-2m0 -12v-2M934.5 771v-2m0 -29v-2m0 -12v-2m0 -4v-2m0 -34v-2m0 -5v-2m0 -5v-2m0 -49v-2m0 -53v-1m0 -2v-2m0 -5v-2m0 -6v-1m0 -20v-2m0 -13v-2m0 -16v-2m0 -7v-2m0 -81v-2m0 -4v-2m0 -11v-1m0 -9v-2m0 -18v-2m0 -82v-2m0 -56v-2m0 -10v-2m0 -7v-2m0 -2v-2"/>
<path class="l3" stroke-width="6" d="M130 796v-1m0 -40v-2m0 -11v-2m0 -40v-1m0 -2v-2m0 -16v-2m0 -9v-2m0 -5v-2m0 -13v-4m0 -12v-2m0 -4v-2m0 -9v-1m0 -29v-2m0 -4v-2m0 -5v-4m0 -12v-2m0 -11v-2m0 -34v-2m0 -18v-2m0 -18v-2m0 -20v-2m0 -27v-2m0 -27v-2m0 -20v-2m0 -18v-1m0 -8v-2m0 -10v-2m0 -33v-2m0 -16v-2m0 -3v-2m0 -22v-2m0 -2v-3m0 -2v-2m0 -2v-1m0 -57v-1m0 -9v-2m0 -18v-2m0 -18v-2M141 802v-2m0 -2v-2m0 -41v-2m0 -9v-2m0 -5v-2m0 -15v-2m0 -1v-2m0 -16v-4m0 -29v-2m0 -29v-2m0 -7v-2m0 -23v-2m0 -2v-2m0 -20v-1m0 -15v-2m0 -45v-2m0 -34v-2m0 -62v-3m0 -2v-2m0 -65v-2m0 -36v-2m0 -24v-2m0 -47v-1m0 -17v-2m0 -29v-1m0 -15v-2m0 -5v-2m0 -2v-2m0 -29v-1M157 775v-2m0 -20v-2m0 -4v-1m0 -13v-2m0 -22v-1m0 -15v-2m0 -20v-3m0 -18v-4m0 -31v-2m0 -12v-2m0 -4v-2m0 -58v-1m0 -35v-2m0 -1v-2m0 -22v-2m0 -7v-2m0 -5v-2m0 -9v-2m0 -22v-2m0 -5v-2m0 -58v-2m0 -1v-2m0 -2v-2m0 -23v-2m0 -36v-2m0 -2v-2m0 -40v-2m0 -16v-2m0 -11v-1m0 -29v-2m0 -11v-2m0 -13v-1m0 -2v-2m0 -9v-2m0 -7v-2m0 -7v-2m0 -4v-1m0 -6v-3m0 -4v-4M168 787v-1m0 -8v-2m0 -18v-1m0 -29v-2m0 -33v-2m0 -18v-3m0 -6v-2m0 -20v-1m0 -46v-2m0 -19v-2m0 -53v-2m0 -3v-2m0 -20v-2m0 -2v-1m0 -11v-2m0 -18v-2m0 -27v-2m0 -2v-2m0 -3v-2m0 -26v-1m0 -38v-4m0 -11v-2m0 -18v-2m0 -74v-2m0 -29v-2m0 -61v-2m0 -2v-2m0 -14v-2M184 807v-2m0 -14v-2m0 -23v-2m0 -24v-2m0 -3v-2m0 -27v-2m0 -105v-2m0 -27v-2m0 -43v-2m0 -76v-2m0 -27v-2m0 -40v-2m0 -7v-2m0 -176v-1m0 -11v-2m0 -31v-2m0 -7v-2m0 -16v-2m0 -11v-2M195 811v-2m0 -4v-1m0 -2v-2m0 -27v-2m0 -4v-3m0 -7v-4m0 -4v-2m0 -27v-2m0 -3v-2m0 -22v-1m0 -51v-2m0 -53v-1m0 -4v-2m0 -13v-3m0 -6v-1m0 -31v-2m0 -4v-1m0 -37v-2m0 -9v-1m0 -102v-2m0 -27v-4m0 -27v-3m0 -49v-2m0 -7v-6m0 -2v-1m0 -9v-2m0 -15v-2m0 -5v-2m0 -12v-2m0 -27v-2m0 -40v-2m0 -13v-1m0 -13v-2M211 793v-2m0 -40v-2m0 -11v-5m0 -9v-2m0 -13v-1m0 -42v-2m0 -2v-1m0 -13v-2m0 -33v-3m0 -13v-2m0 -9v-2m0 -139v-2m0 -20v-2m0 -14v-2m0 -49v-2m0 -121v-4m0 -5v-2m0 -18v-2m0 -20v-2m0 -45v-2M222 815v-4m0 -29v-2m0 -13v-1m0 -2v-2m0 -7v-4m0 -5v-2m0 -7v-2m0 -13v-2m0 -11v-1m0 -28v-1m0 -15v-2m0 -7v-2m0 -23v-2m0 -33v-2m0 -7v-2m0 -29v-1m0 -29v-2m0 -6v-1m0 -28v-1m0 -6v-2m0 -2v-1m0 -11v-2m0 -5v-4m0 -7v-2m0 -4v-2m0 -32v-2m0 -9v-2m0 -125v-4m0 -29v-1m0 -62v-4M238 818v-2m0 -18v-2m0 -34v-2m0 -31v-1m0 -13v-2m0 -27v-2m0 -5v-2m0 -2v-2m0 -20v-2m0 -12v-2m0 -4v-1m0 -6v-2m0 -23v-2m0 -18v-2m0 -11v-2m0 -7v-2m0 -36v-4m0 -1v-2m0 -17v-1m0 -19v-1m0 -4v-2m0 -11v-1m0 -26v-2m0 -5v-2m0 -4v-1m0 -6v-2m0 -20v-1m0 -29v-2m0 -16v-2m0 -58v-2m0 -58v-2m0 -25v-2m0 -31v-2m0 -7v-2m0 -14v-2m0 -25v-2m0 -6v-1M249 809v-2m0 -5v-2m0 -4v-1m0 -8v-1m0 -10v-1m0 -22v-2m0 -7v-2m0 -14v-2m0 -8v-1m0 -6v-2m0 -18v-1m0 -6v-2m0 -16v-2m0 -29v-2m0 -27v-2m0 -12v-2m0 -6v-1m0 -37v-1m0 -107v-2m0 -18v-2m0 -18v-2m0 -16v-2m0 -6v-1m0 -35v-2m0 -5v-2m0 -27v-2m0 -14v-2m0 -13v-2m0 -18v-2m0 -31v-1m0 -13v-2m0 -47v-2m0 -16v-2m0 -5v-2m0 -15v-3M265 784v-2m0 -67v-4m0 -5v-2m0 -5v-2m0 -35v-1m0 -17v-2m0 -20v-1m0 -8v-1m0 -17v-2m0 -7v-2m0 -41v-2m0 -29v-4m0 -32v-2m0 -2v-2m0 -7v-2m0 -9v-2m0 -14v-2m0 -4v-1m0 -11v-2m0 -13v-3m0 -8v-2m0 -21v-2m0 -11v-2m0 -14v-2m0 -9v-2m0 -31v-2m0 -5v-4m0 -3v-2m0 -20v-2m0 -32v-2m0 -2v-2m0 -20v-2m0 -9v-1m0 -29v-6m0 -9v-2M276 811v-2m0 -20v-2m0 -1v-2m0 -4v-2m0 -2v-1m0 -11v-2m0 -27v-4m0 -56v-2m0 -3v-2m0 -4v-2m0 -9v-2m0 -32v-2m0 -9v-2m0 -16v-2m0 -56v-2m0 -43v-2m0 -31v-2m0 -13v-1m0 -13v-4m0 -2v-1m0 -28v-1m0 -4v-2m0 -9v-2m0 -16v-4m0 -18v-2m0 -47v-1m0 -8v-2m0 -1v-2m0 -15v-1m0 -19v-3m0 -38v-2m0 -29v-2m0 -9v-2m0 -3v-2m0 -22v-2m0 -7v-4M292 791v-2m0 -16v-2m0 -13v-1m0 -11v-2m0 -78v-2m0 -14v-2m0 -11v-2m0 -9v-2m0 -7v-2m0 -11v-1m0 -42v-2m0 -49v-2m0 -20v-1m0 -53v-5m0 -15v-2m0 -22v-1m0 -31v-2m0 -18v-2m0 -36v-2m0 -25v-2m0 -24v-2m0 -63v-2m0 -34v-2m0 -14v-2m0 -8v-1m0 -6v-2M303 798v-2m0 -9v-3m0 -62v-2m0 -3v-2m0 -93v-3m0 -13v-2m0 -5v-2m0 -22v-1m0 -57v-1m0 -44v-2m0 -22v-1m0 -24v-2m0 -47v-2m0 -12v-2m0 -40v-2m0 -3v-2m0 -87v-2m0 -16v-4m0 -4v-1m0 -38v-2m0 -15v-2m0 -21v-2m0 -18v-2M319 804v-2m0 -29v-2m0 -24v-1m0 -9v-4m0 -69v-2m0 -20v-1m0 -2v-4m0 -18v-2m0 -51v-3m0 -18v-2m0 -56v-2m0 -69v-2m0 -14v-4m0 -5v-2m0 -2v-2m0 -29v-3m0 -6v-2m0 -14v-2m0 -9v-2m0 -25v-2m0 -36v-2m0 -63v-2m0 -42v-2m0 -9v-2m0 -1v-2m0 -2v-2m0 -2v-2M330 820v-2m0 -23v-2m0 -15v-2m0 -3v-2m0 -5v-4m0 -11v-2m0 -152v-2m0 -18v-2m0 -1v-4m0 -6v-1m0 -35v-2m0 -9v-1m0 -4v-2m0 -9v-2m0 -16v-2m0 -22v-3m0 -13v-2m0 -41v-2m0 -29v-4m0 -31v-2m0 -18v-1m0 -73v-2m0 -32v-2m0 -20v-4m0 -16v-2m0 -5v-2m0 -2v-2M346 784v-2m0 -18v-2m0 -7v-2m0 -25v-2m0 -58v-2m0 -11v-2m0 -3v-2m0 -9v-2m0 -33v-1m0 -20v-2m0 -4v-2m0 -21v-2m0 -4v-2m0 -12v-2m0 -13v-2m0 -14v-2m0 -25v-2m0 -4v-3m0 -4v-2m0 -13v-1m0 -26v-2m0 -12v-2m0 -22v-2m0 -43v-2m0 -5v-2m0 -16v-2m0 -11v-2m0 -16v-2m0 -13v-2m0 -68v-2m0 -31v-2m0 -20v-2m0 -39v-2M357 791v-2m0 -22v-1m0 -2v-2m0 -4v-1m0 -8v-2m0 -5v-4m0 -3v-4m0 -3v-2m0 -8v-1m0 -78v-2m0 -29v-2m0 -23v-4m0 -7v-2m0 -2v-2m0 -11v-1m0 -15v-2m0 -7v-2m0 -40v-3m0 -27v-2m0 -37v-1m0 -8v-1m0 -24v-2m0 -5v-2m0 -11v-2m0 -27v-2m0 -2v-1m0 -2v-2m0 -24v-1m0 -9v-2m0 -6v-1m0 -19v-1m0 -31v-2m0 -27v-2m0 -4v-1m0 -33v-2m0 -42v-1m0 -26v-2M373 789v-2m0 -11v-1m0 -24v-2m0 -18v-2m0 -14v-2m0 -20v-2m0 -43v-2m0 -16v-2m0 -6v-1m0 -13v-2m0 -74v-2m0 -7v-2m0 -13v-2m0 -14v-2m0 -9v-2m0 -16v-2m0 -5v-2m0 -18v-2m0 -7v-2m0 -4v-2m0 -12v-2m0 -9v-2m0 -14v-2m0 -27v-2m0 -33v-3m0 -44v-2m0 -27v-4m0 -12v-2m0 -29v-2m0 -13v-1m0 -9v-2m0 -46v-1m0 -9v-4m0 -13v-2M384 791v-2m0 -42v-1m0 -47v-2m0 -4v-2m0 -11v-1m0 -8v-1m0 -33v-2m0 -7v-2m0 -45v-2m0 -13v-2m0 -1v-2m0 -16v-2m0 -8v-1m0 -8v-1m0 -48v-3m0 -78v-2m0 -14v-2m0 -36v-2m0 -49v-2m0 -25v-2m0 -2v-2m0 -16v-2m0 -29v-5m0 -8v-1m0 -62v-4m0 -7v-2M400 782v-2m0 -34v-2m0 -40v-2m0 -3v-2m0 -26v-1m0 -22v-2m0 -11v-2m0 -11v-1m0 -6v-2m0 -81v-2m0 -9v-2m0 -23v-2m0 -44v-2m0 -3v-2m0 -20v-2m0 -2v-5m0 -20v-2m0 -11v-1m0 -13v-2m0 -23v-2m0 -20v-2m0 -2v-2m0 -20v-1m0 -67v-2m0 -24v-2m0 -9v-1m0 -6v-2m0 -20v-1m0 -4v-6m0 -39v-2m0 -18v-4M411 816v-1m0 -4v-2m0 -121v-2m0 -105v-2m0 -4v-1m0 -10v-1m0 -28v-1m0 -11v-2m0 -31v-2m0 -3v-2m0 -6v-1m0 -26v-2m0 -56v-3m0 -2v-2m0 -16v-2m0 -44v-1m0 -33v-2m0 -9v-2m0 -14v-2m0 -16v-4m0 -25v-2m0 -22v-2m0 -20v-1m0 -9v-2m0 -17v-1m0 -24v-2m0 -25v-2M427 764v-4m0 -14v-2m0 -22v-4m0 -5v-2m0 -14v-2m0 -34v-4m0 -15v-1m0 -2v-2m0 -7v-2m0 -58v-2m0 -23v-2m0 -2v-2m0 -20v-2m0 -5v-2m0 -2v-2m0 -29v-1m0 -9v-2m0 -38v-4m0 -18v-2m0 -27v-2m0 -11v-2m0 -21v-2m0 -13v-2m0 -1v-4m0 -27v-2m0 -2v-2m0 -83v-2M438 740v-2m0 -38v-1m0 -67v-2m0 -13v-2m0 -18v-2m0 -3v-2m0 -16v-2m0 -26v-1m0 -13v-4m0 -20v-2m0 -16v-2m0 -20v-1m0 -6v-2m0 -41v-2m0 -18v-2m0 -2v-2m0 -36v-2m0 -5v-2m0 -24v-1m0 -2v-2m0 -20v-2m0 -12v-2m0 -40v-2m0 -16v-2m0 -25v-2m0 -4v-2m0 -7v-2m0 -16v-2m0 -9v-2m0 -25v-2m0 -9v-2M454 798v-2m0 -25v-2m0 -12v-4m0 -2v-2m0 -38v-2m0 -16v-2m0 -3v-4m0 -5v-4m0 -78v-2m0 -56v-2m0 -16v-2m0 -27v-2m0 -9v-2m0 -16v-2m0 -3v-2m0 -2v-2m0 -13v-1m0 -19v-1m0 -6v-3m0 -22v-2m0 -24v-1m0 -4v-2m0 -2v-1m0 -6v-2m0 -5v-2m0 -38v-2m0 -14v-2m0 -16v-2m0 -42v-2m0 -43v-2m0 -5v-2m0 -35v-1m0 -2v-2m0 -6v-1M470 791v-2m0 -14v-4m0 -7v-4m0 -7v-2m0 -4v-1m0 -17v-1m0 -2v-2m0 -16v-2m0 -2v-2m0 -9v-2m0 -16v-2m0 -7v-2m0 -34v-2m0 -4v-2m0 -14v-2m0 -13v-1m0 -6v-2m0 -25v-2m0 -22v-3m0 -15v-1m0 -10v-1m0 -2v-2m0 -2v-2m0 -25v-2m0 -2v-1m0 -4v-2m0 -7v-2m0 -18v-2m0 -2v-1m0 -42v-2m0 -9v-2m0 -3v-2m0 -15v-2m0 -18v-2m0 -47v-1m0 -2v-2m0 -7v-2m0 -60v-2m0 -11v-1m0 -37v-1m0 -11v-2m0 -6v-3m0 -35v-1M481 820v-2m0 -11v-2m0 -23v-2m0 -2v-2m0 -16v-2m0 -139v-2m0 -5v-2m0 -13v-2m0 -3v-2m0 -26v-1m0 -46v-1m0 -55v-2m0 -1v-4m0 -6v-1m0 -8v-1m0 -49v-2m0 -6v-3m0 -89v-2m0 -22v-1m0 -11v-2m0 -25v-2m0 -13v-2m0 -38v-2m0 -59v-2m0 -11v-4M497 804v-2m0 -6v-1m0 -28v-1m0 -8v-1m0 -6v-2m0 -9v-2m0 -25v-2m0 -18v-2m0 -11v-1m0 -8v-1m0 -8v-1m0 -22v-2m0 -7v-2m0 -9v-2m0 -29v-2m0 -67v-3m0 -22v-2m0 -22v-2m0 -23v-2m0 -14v-4m0 -60v-2m0 -5v-2m0 -2v-2m0 -23v-2m0 -18v-4m0 -54v-6m0 -10v-2m0 -7v-2m0 -13v-2m0 -67v-2m0 -34v-4m0 -14v-2M508 816v-1m0 -19v-1m0 -2v-4m0 -42v-1m0 -11v-4m0 -11v-2m0 -5v-2m0 -9v-2m0 -56v-2m0 -50v-2m0 -15v-1m0 -19v-1m0 -33v-2m0 -18v-2m0 -18v-2m0 -11v-1m0 -11v-2m0 -40v-2m0 -16v-2m0 -2v-2m0 -7v-2m0 -1v-2m0 -20v-2m0 -20v-2m0 -67v-2m0 -56v-2m0 -10v-2m0 -62v-2m0 -41v-2M524 816v-1m0 -4v-2m0 -4v-3m0 -7v-2m0 -7v-4m0 -4v-2m0 -14v-2m0 -5v-2m0 -16v-2m0 -11v-2m0 -7v-2m0 -7v-2m0 -20v-2m0 -18v-3m0 -22v-2m0 -36v-2m0 -20v-2m0 -18v-2m0 -12v-2m0 -8v-1m0 -4v-2m0 -60v-1m0 -22v-2m0 -9v-2m0 -36v-2m0 -2v-2m0 -7v-2m0 -21v-2m0 -18v-2m0 -42v-2m0 -21v-2m0 -13v-2m0 -14v-2m0 -4v-1m0 -8v-1m0 -122v-2m0 -11v-1M535 805v-1m0 -9v-4m0 -24v-1m0 -11v-2m0 -25v-2m0 -24v-3m0 -2v-2m0 -54v-2m0 -31v-4m0 -25v-2m0 -23v-2m0 -2v-2m0 -40v-2m0 -128v-2m0 -74v-2m0 -167v-3m0 -31v-2M551 818v-2m0 -76v-2m0 -5v-2m0 -3v-2m0 -2v-2m0 -4v-1m0 -27v-2m0 -26v-1m0 -19v-1m0 -31v-2m0 -9v-2m0 -27v-4m0 -2v-1m0 -8v-1m0 -2v-2m0 -31v-2m0 -5v-2m0 -31v-2m0 -56v-2m0 -38v-1m0 -19v-1m0 -24v-2m0 -3v-2m0 -82v-2m0 -3v-2m0 -24v-3m0 -11v-4m0 -10v-2m0 -8v-1m0 -15v-2m0 -14v-2m0 -11v-2m0 -21v-2M562 807v-2m0 -3v-2m0 -74v-2m0 -7v-8m0 -43v-2m0 -5v-2m0 -18v-2m0 -83v-2m0 -2v-2m0 -43v-2m0 -27v-2m0 -4v-3m0 -6v-2m0 -14v-2m0 -20v-2m0 -34v-2m0 -4v-1m0 -4v-2m0 -18v-2m0 -2v-1m0 -2v-2m0 -5v-2m0 -40v-2m0 -29v-2m0 -18v-2m0 -7v-2m0 -20v-2m0 -96v-1M578 802v-2m0 -16v-2m0 -2v-4m0 -30v-2m0 -6v-1m0 -19v-1m0 -20v-2m0 -15v-1m0 -4v-4m0 -14v-2m0 -27v-4m0 -11v-1m0 -8v-1m0 -2v-2m0 -24v-1m0 -29v-2m0 -53v-2m0 -3v-2m0 -16v-2m0 -17v-1m0 -44v-2m0 -61v-2m0 -2v-2m0 -25v-2m0 -16v-2m0 -13v-2m0 -3v-2m0 -58v-2m0 -14v-4m0 -2v-3m0 -8v-1m0 -2v-2m0 -7v-2m0 -13v-2m0 -9v-1m0 -6v-2m0 -1v-2m0 -4v-2m0 -7v-4m0 -5v-2m0 -5v-8M589 793v-2m0 -24v-1m0 -96v-2m0 -6v-1m0 -82v-2m0 -3v-2m0 -46v-1m0 -28v-1m0 -8v-1m0 -2v-2m0 -9v-2m0 -9v-2m0 -43v-2m0 -13v-2m0 -18v-2m0 -34v-2m0 -51v-1m0 -19v-1m0 -51v-2m0 -22v-1m0 -35v-2m0 -40v-1m0 -6v-2m0 -18v-3M605 818v-2m0 -11v-3m0 -64v-1m0 -2v-2m0 -65v-2m0 -2v-2m0 -5v-2m0 -22v-1m0 -62v-2m0 -18v-2m0 -11v-2m0 -43v-2m0 -13v-3m0 -78v-4m0 -12v-2m0 -17v-1m0 -47v-2m0 -33v-2m0 -58v-2m0 -1v-2m0 -16v-2m0 -60v-2m0 -13v-1m0 -17v-1M616 726v-2m0 -2v-2m0 -3v-2m0 -4v-3m0 -2v-2m0 -7v-4m0 -18v-2m0 -7v-2m0 -7v-2m0 -31v-2m0 -25v-2m0 -12v-2m0 -22v-2m0 -3v-4m0 -22v-3m0 -22v-2m0 -9v-2m0 -20v-2m0 -16v-2m0 -5v-2m0 -69v-2m0 -47v-2m0 -16v-2m0 -41v-2m0 -26v-1m0 -8v-1m0 -2v-2m0 -16v-4m0 -20v-2m0 -16v-2m0 -3v-2m0 -11v-2m0 -4v-1M632 820v-2m0 -23v-4m0 -2v-2m0 -34v-2m0 -25v-4m0 -7v-2m0 -13v-1m0 -20v-2m0 -18v-2m0 -16v-2m0 -4v-2m0 -12v-2m0 -20v-2m0 -9v-2m0 -16v-2m0 -5v-2m0 -9v-2m0 -2v-2m0 -3v-2m0 -6v-1m0 -24v-2m0 -50v-2m0 -11v-2m0 -56v-2m0 -18v-2m0 -29v-2m0 -32v-2m0 -27v-2m0 -15v-1m0 -26v-2m0 -12v-4m0 -22v-1m0 -24v-2m0 -27v-2m0 -43v-2M643 813v-2m0 -36v-2m0 -7v-2m0 -7v-2m0 -11v-2m0 -16v-2m0 -22v-2m0 -27v-3m0 -13v-2m0 -2v-2m0 -19v-2m0 -62v-2m0 -9v-2m0 -21v-4m0 -2v-2m0 -23v-2m0 -16v-2m0 -6v-1m0 -31v-4m0 -14v-2m0 -64v-1m0 -24v-2m0 -114v-2m0 -14v-2m0 -4v-1m0 -46v-2m0 -18v-1M659 815v-2m0 -9v-4m0 -109v-1m0 -4v-2m0 -33v-1m0 -4v-2m0 -23v-2m0 -2v-2m0 -23v-2m0 -38v-2m0 -24v-1m0 -46v-3m0 -26v-2m0 -1v-2m0 -7v-2m0 -89v-2m0 -3v-2m0 -15v-3m0 -4v-2m0 -5v-2m0 -31v-2m0 -20v-1m0 -67v-6m0 -16v-2m0 -69v-2M670 807v-2m0 -16v-2m0 -16v-2m0 -5v-4m0 -40v-2m0 -10v-2m0 -11v-2m0 -34v-2m0 -18v-2m0 -44v-3m0 -29v-2m0 -45v-2m0 -6v-1m0 -20v-2m0 -15v-3m0 -20v-2m0 -33v-1m0 -29v-2m0 -9v-2m0 -16v-2m0 -2v-2m0 -2v-1m0 -2v-2m0 -65v-2m0 -13v-2m0 -1v-2m0 -18v-2m0 -31v-2m0 -2v-1m0 -17v-3m0 -13v-2m0 -18v-2m0 -20v-2m0 -9v-3M686 791v-2m0 -9v-2m0 -20v-1m0 -31v-2m0 -11v-2m0 -11v-1m0 -2v-2m0 -15v-1m0 -60v-2m0 -40v-2m0 -25v-2m0 -9v-2m0 -41v-2m0 -15v-2m0 -14v-2m0 -34v-2m0 -16v-2m0 -20v-2m0 -78v-2m0 -7v-4m0 -47v-3m0 -22v-2m0 -2v-2m0 -5v-2m0 -2v-1m0 -11v-2m0 -22v-2m0 -45v-2m0 -11v-1m0 -4v-2m0 -3v-2m0 -2v-6M697 786v-2m0 -37v-1m0 -4v-2m0 -3v-2m0 -2v-4m0 -54v-4m0 -43v-2m0 -42v-1m0 -82v-2m0 -22v-3m0 -6v-1m0 -33v-2m0 -27v-2m0 -20v-2m0 -12v-2m0 -24v-1m0 -22v-2m0 -11v-4m0 -76v-1m0 -71v-2m0 -20v-2m0 -36v-2m0 -2v-1M740 811v-2m0 -9v-2m0 -7v-2m0 -9v-2m0 -20v-1m0 -37v-2m0 -30v-2m0 -44v-1m0 -9v-2m0 -4v-2m0 -3v-2m0 -9v-4m0 -16v-2m0 -16v-6m0 -40v-1m0 -2v-2m0 -29v-2m0 -38v-2m0 -2v-1m0 -4v-2m0 -25v-2m0 -5v-2m0 -55v-1m0 -13v-2m0 -18v-2m0 -7v-2m0 -18v-2m0 -13v-1m0 -9v-2m0 -2v-2m0 -14v-2m0 -2v-2m0 -18v-2m0 -5v-4m0 -27v-2m0 -20v-1m0 -2v-2m0 -51v-2M751 813v-4m0 -33v-1m0 -15v-2m0 -3v-2m0 -27v-2m0 -51v-2m0 -10v-2m0 -18v-2m0 -7v-2m0 -17v-1m0 -4v-2m0 -20v-2m0 -16v-4m0 -10v-2m0 -17v-1m0 -18v-2m0 -4v-2m0 -3v-2m0 -13v-2m0 -3v-2m0 -33v-2m0 -25v-2m0 -25v-2m0 -51v-1m0 -22v-2m0 -7v-2m0 -42v-2m0 -12v-2m0 -87v-2m0 -5v-2m0 -7v-2m0 -6v-1m0 -9v-6m0 -36v-2"/>
<path class="l4" stroke-width="5" d="M124.5 758v-1m0 -84v-3m0 -13v-2m0 -51v-1m0 -48v-1m0 -80v-2m0 -11v-2m0 -36v-2m0 -85v-2m0 -3v-2m0 -76v-2m0 -25v-2m0 -71v-2m0 -21v-2m0 -4v-2M135.5 809v-2m0 -31v-3m0 -4v-2m0 -38v-5m0 -134v-2m0 -2v-2m0 -90v-2m0 -13v-2m0 -14v-2m0 -5v-4m0 -67v-2m0 -9v-2m0 -12v-2m0 -16v-2m0 -2v-2m0 -38v-2m0 -14v-2m0 -6v-1m0 -9v-2m0 -27v-2m0 -6v-1m0 -62v-2m0 -61v-2M146.5 793v-2m0 -4v-1m0 -8v-2m0 -18v-1m0 -17v-2m0 -10v-2m0 -15v-3m0 -31v-2m0 -9v-2m0 -25v-2m0 -5v-2m0 -17v-1m0 -9v-2m0 -24v-2m0 -7v-2m0 -45v-2m0 -22v-3m0 -15v-2m0 -39v-2m0 -9v-2m0 -2v-2m0 -2v-1m0 -11v-2m0 -13v-2m0 -29v-1m0 -18v-2m0 -20v-2m0 -33v-1m0 -24v-2m0 -20v-2m0 -14v-2m0 -7v-2m0 -2v-3m0 -29v-2m0 -7v-2m0 -31v-2M151.5 818v-2m0 -14v-2m0 -9v-2m0 -9v-2m0 -47v-2m0 -7v-2m0 -36v-2m0 -63v-2m0 -33v-1m0 -44v-2m0 -7v-2m0 -22v-1m0 -33v-4m0 -1v-2m0 -2v-2m0 -27v-2m0 -56v-4m0 -29v-1m0 -8v-2m0 -39v-2m0 -35v-1m0 -10v-1m0 -31v-2m0 -22v-1m0 -49v-2M162.5 811v-2m0 -62v-1m0 -64v-2m0 -32v-2m0 -38v-2m0 -51v-1m0 -20v-2m0 -89v-4m0 -9v-1m0 -2v-2m0 -2v-2m0 -12v-2m0 -4v-3m0 -145v-2m0 -11v-4m0 -18v-4m0 -23v-2m0 -2v-3m0 -56v-2m0 -22v-2M173.5 807v-2m0 -34v-2m0 -18v-2m0 -12v-2m0 -18v-2m0 -25v-2m0 -17v-1m0 -15v-4m0 -18v-1m0 -10v-1m0 -37v-1m0 -17v-2m0 -19v-6m0 -7v-2m0 -22v-2m0 -5v-2m0 -2v-1m0 -15v-4m0 -18v-1m0 -2v-2m0 -13v-2m0 -1v-2m0 -11v-2m0 -54v-4m0 -11v-2m0 -3v-2m0 -18v-2m0 -33v-1m0 -2v-2m0 -5v-2m0 -4v-2m0 -3v-2m0 -60v-2m0 -63v-2m0 -56v-2M178.5 815v-2m0 -17v-1m0 -2v-2m0 -7v-4m0 -13v-1m0 -17v-2m0 -1v-2m0 -4v-2m0 -41v-2m0 -4v-1m0 -15v-2m0 -12v-2m0 -4v-2m0 -41v-2m0 -38v-2m0 -25v-2m0 -38v-4m0 -11v-2m0 -20v-1m0 -31v-2m0 -2v-5m0 -31v-2m0 -83v-2m0 -38v-2m0 -62v-1m0 -18v-4m0 -7v-4m0 -18v-2m0 -5v-2m0 -2v-2m0 -22v-3m0 -7v-2M189.5 700v-1m0 -4v-2m0 -11v-2m0 -52v-2m0 -114v-2m0 -62v-1m0 -6v-2m0 -36v-3m0 -60v-2m0 -15v-1m0 -19v-1m0 -53v-2M200.5 789v-2m0 -34v-2m0 -74v-2m0 -5v-2m0 -2v-2m0 -7v-2m0 -89v-2m0 -41v-2m0 -7v-2m0 -11v-2m0 -54v-2m0 -109v-2m0 -43v-2m0 -18v-2m0 -61v-2m0 -2v-2m0 -56v-2m0 -2v-1M205.5 818v-2m0 -76v-2m0 -9v-1m0 -15v-2m0 -70v-2m0 -51v-2m0 -58v-2m0 -47v-2m0 -50v-2m0 -45v-2m0 -64v-1m0 -71v-2m0 -14v-2m0 -58v-2M216.5 784v-2m0 -9v-2m0 -2v-2m0 -32v-2m0 -5v-2m0 -24v-2m0 -30v-2m0 -6v-1m0 -39v-1m0 -9v-2m0 -7v-2m0 -15v-2m0 -72v-2m0 -18v-2m0 -43v-2m0 -18v-2m0 -13v-2m0 -9v-1m0 -44v-2m0 -7v-2m0 -58v-3m0 -33v-2m0 -22v-3m0 -26v-1m0 -17v-2m0 -18v-1m0 -37v-2m0 -3v-2m0 -2v-2M227.5 795v-2m0 -9v-2m0 -29v-2m0 -45v-2m0 -22v-3m0 -26v-2m0 -12v-2m0 -60v-2m0 -14v-2m0 -74v-2m0 -40v-2m0 -107v-2m0 -10v-2m0 -17v-1m0 -46v-1m0 -33v-2m0 -63v-2m0 -40v-2M232.5 793v-2m0 -22v-2m0 -7v-2m0 -56v-2m0 -23v-2m0 -98v-2m0 -30v-2m0 -17v-1m0 -8v-1m0 -80v-4m0 -20v-2m0 -30v-2m0 -96v-2m0 -78v-2m0 -38v-2m0 -67v-2M243.5 780v-2m0 -2v-1m0 -76v-2m0 -22v-2m0 -49v-2m0 -5v-2m0 -70v-2m0 -20v-2m0 -9v-2m0 -13v-1m0 -19v-1m0 -9v-2m0 -33v-2m0 -5v-2m0 -29v-2m0 -3v-2m0 -7v-2m0 -7v-2m0 -35v-2m0 -5v-2m0 -3v-2m0 -11v-2m0 -4v-1m0 -4v-2m0 -32v-2m0 -27v-2m0 -22v-2m0 -16v-4m0 -16v-2m0 -31v-1m0 -26v-2m0 -1v-2m0 -2v-4m0 -7v-2m0 -5v-2M254.5 757v-2m0 -13v-2m0 -40v-1m0 -11v-2m0 -16v-2m0 -18v-2m0 -67v-2m0 -63v-2m0 -24v-2m0 -5v-4m0 -9v-2m0 -1v-2m0 -36v-2m0 -47v-2m0 -140v-2m0 -1v-2m0 -22v-2m0 -9v-2m0 -65v-2m0 -30v-4M259.5 782v-2m0 -27v-2m0 -5v-2m0 -9v-2m0 -27v-2m0 -4v-1m0 -106v-1m0 -62v-2m0 -41v-2m0 -6v-2m0 -10v-2m0 -29v-2m0 -33v-1m0 -60v-2m0 -2v-2m0 -9v-2m0 -27v-2m0 -12v-2m0 -4v-2m0 -47v-1m0 -10v-1m0 -13v-2m0 -7v-2m0 -7v-2M270.5 809v-2m0 -2v-1m0 -17v-3m0 -67v-4m0 -11v-2m0 -5v-2m0 -11v-2m0 -90v-2m0 -25v-2m0 -27v-2m0 -4v-2m0 -10v-2m0 -46v-1m0 -24v-2m0 -34v-2m0 -4v-1m0 -37v-2m0 -7v-2m0 -20v-1m0 -2v-2m0 -20v-2m0 -9v-2m0 -25v-2m0 -18v-2m0 -21v-2m0 -33v-2m0 -20v-1m0 -37v-1M281.5 773v-4m0 -11v-1m0 -13v-2m0 -76v-4m0 -9v-2m0 -3v-2m0 -16v-2m0 -6v-1m0 -84v-2m0 -27v-3m0 -9v-2m0 -4v-2m0 -3v-2m0 -29v-2m0 -7v-2m0 -29v-2m0 -61v-2m0 -31v-4m0 -11v-1m0 -51v-2m0 -43v-2m0 -107v-4M286.5 809v-2m0 -58v-2m0 -97v-2m0 -78v-2m0 -14v-2m0 -47v-2m0 -11v-2m0 -85v-4m0 -114v-2m0 -65v-2m0 -34v-4m0 -20v-1m0 -66v-2M297.5 820v-2m0 -16v-2m0 -2v-2m0 -14v-4m0 -3v-2m0 -4v-2m0 -45v-2m0 -2v-1m0 -9v-2m0 -71v-2m0 -7v-2m0 -32v-2m0 -2v-2m0 -3v-2m0 -4v-2m0 -41v-2m0 -4v-3m0 -37v-1m0 -22v-2m0 -13v-2m0 -30v-4m0 -54v-2m0 -47v-2m0 -11v-2m0 -58v-2m0 -29v-1m0 -8v-1m0 -48v-1m0 -20v-2m0 -2v-2M308.5 728v-2m0 -2v-2m0 -54v-2m0 -4v-1m0 -51v-2m0 -76v-2m0 -31v-2m0 -9v-1m0 -2v-4m0 -2v-2m0 -7v-2m0 -59v-2m0 -26v-1m0 -2v-4m0 -7v-2m0 -4v-3m0 -64v-3m0 -7v-2m0 -51v-2m0 -45v-2m0 -69v-2m0 -23v-2M313.5 802v-2m0 -83v-2m0 -2v-2m0 -21v-2m0 -9v-2m0 -35v-1m0 -20v-4m0 -29v-2m0 -25v-2m0 -83v-2m0 -36v-2m0 -7v-2m0 -2v-2m0 -23v-2m0 -2v-2m0 -16v-2m0 -16v-2m0 -22v-2m0 -25v-2m0 -11v-2m0 -7v-2m0 -1v-2m0 -11v-2m0 -9v-2m0 -29v-2m0 -63v-4m0 -58v-1M324.5 796v-1m0 -37v-1m0 -17v-2m0 -1v-2m0 -2v-2m0 -38v-2m0 -52v-2m0 -20v-4m0 -3v-2m0 -7v-2m0 -13v-2m0 -5v-2m0 -11v-2m0 -23v-2m0 -14v-2m0 -9v-2m0 -24v-1m0 -53v-2m0 -25v-2m0 -2v-2m0 -12v-2m0 -31v-2m0 -47v-2m0 -36v-2m0 -23v-2m0 -33v-2m0 -12v-2m0 -7v-2m0 -15v-1m0 -9v-2m0 -22v-2m0 -11v-2m0 -3v-2M335.5 784v-2m0 -150v-2m0 -47v-2m0 -31v-2m0 -7v-2m0 -18v-2m0 -27v-2m0 -54v-2m0 -34v-2m0 -9v-2m0 -56v-2m0 -27v-2m0 -35v-1m0 -49v-2m0 -62v-2m0 -19v-2m0 -4v-2m0 -3v-4m0 -14v-2m0 -8v-1M340.5 816v-3m0 -2v-2m0 -7v-2m0 -42v-1m0 -57v-1m0 -46v-2m0 -7v-2m0 -97v-2m0 -26v-1m0 -22v-2m0 -54v-2m0 -15v-2m0 -48v-2m0 -27v-2m0 -18v-2m0 -7v-2m0 -53v-2m0 -20v-1m0 -6v-2m0 -5v-2m0 -23v-2m0 -4v-2m0 -56v-2m0 -5v-2m0 -22v-1m0 -4v-4M351.5 782v-2m0 -13v-1m0 -104v-1m0 -15v-2m0 -51v-1m0 -18v-2m0 -40v-2m0 -40v-2m0 -81v-2m0 -125v-2m0 -31v-2m0 -27v-2m0 -7v-2m0 -68v-2m0 -35v-1M362.5 738v-1m0 -35v-2m0 -21v-2m0 -36v-2m0 -49v-2m0 -2v-3m0 -13v-2m0 -7v-2m0 -105v-2m0 -2v-2m0 -68v-2m0 -20v-2m0 -101v-6m0 -23v-2m0 -8v-1m0 -13v-2m0 -3v-2m0 -38v-2m0 -9v-2m0 -13v-1m0 -6v-2m0 -2v-1m0 -18v-2M367.5 811v-4m0 -11v-1m0 -51v-2m0 -16v-2m0 -29v-2m0 -11v-2m0 -41v-4m0 -3v-2m0 -58v-2m0 -13v-2m0 -7v-2m0 -11v-1m0 -17v-1m0 -26v-2m0 -20v-1m0 -13v-2m0 -78v-2m0 -3v-2m0 -38v-4m0 -7v-2m0 -18v-2m0 -11v-1m0 -57v-1m0 -44v-2m0 -2v-1m0 -11v-2m0 -11v-2m0 -7v-2m0 -14v-2m0 -24v-1M378.5 709v-1m0 -4v-2m0 -7v-2m0 -5v-2m0 -16v-2m0 -17v-1m0 -2v-2m0 -16v-2m0 -27v-2m0 -58v-2m0 -11v-2m0 -25v-4m0 -43v-4m0 -67v-2m0 -7v-2m0 -14v-4m0 -3v-2m0 -33v-2m0 -27v-2m0 -50v-2m0 -7v-2m0 -24v-3m0 -8v-1m0 -10v-1m0 -6v-2m0 -10v-2m0 -9v-2m0 -6v-1m0 -20v-2m0 -4v-2M389.5 787v-1m0 -4v-2m0 -11v-2m0 -16v-2m0 -2v-1m0 -51v-2m0 -14v-2m0 -2v-2m0 -18v-2m0 -11v-1m0 -9v-2m0 -15v-2m0 -16v-2m0 -9v-2m0 -43v-2m0 -29v-2m0 -3v-2m0 -11v-2m0 -14v-2m0 -9v-2m0 -11v-2m0 -5v-2m0 -36v-2m0 -11v-2m0 -21v-2m0 -6v-2m0 -18v-1m0 -53v-2m0 -7v-2m0 -11v-2m0 -43v-2m0 -5v-2m0 -2v-2m0 -3v-2m0 -31v-2m0 -2v-1m0 -42v-2m0 -4v-1m0 -2v-2m0 -7v-2M394.5 776v-1m0 -67v-2m0 -89v-2m0 -65v-2m0 -7v-2m0 -36v-2m0 -25v-2m0 -22v-2m0 -54v-2m0 -110v-2m0 -37v-1m0 -46v-1m0 -29v-2m0 -24v-2m0 -14v-2m0 -29v-2M405.5 699v-2m0 -2v-2m0 -65v-2m0 -13v-1m0 -24v-2m0 -5v-2m0 -11v-2m0 -12v-2m0 -29v-2m0 -47v-4m0 -20v-2m0 -59v-2m0 -2v-2m0 -23v-2m0 -24v-2m0 -1v-2m0 -2v-2m0 -25v-2m0 -5v-2m0 -73v-2m0 -70v-2m0 -33v-1m0 -6v-2M416.5 813v-2m0 -49v-2m0 -23v-2m0 -22v-2m0 -7v-2m0 -51v-1m0 -28v-3m0 -55v-1m0 -44v-2m0 -9v-2m0 -52v-2m0 -71v-1m0 -17v-2m0 -65v-2m0 -7v-2m0 -32v-2m0 -33v-2m0 -3v-2m0 -40v-2m0 -7v-2m0 -1v-2m0 -2v-2m0 -13v-1m0 -15v-2M421.5 809v-2m0 -32v-2m0 -16v-2m0 -42v-2m0 -12v-2m0 -17v-1m0 -11v-2m0 -87v-2m0 -31v-1m0 -8v-2m0 -30v-2m0 -18v-2m0 -15v-1m0 -13v-2m0 -81v-2m0 -2v-2m0 -9v-2m0 -157v-2m0 -18v-2m0 -9v-2M432.5 762v-2m0 -18v-2m0 -9v-2m0 -16v-2m0 -7v-2m0 -11v-1m0 -2v-2m0 -7v-2m0 -103v-2m0 -20v-2m0 -2v-2m0 -1v-2m0 -20v-2m0 -11v-2m0 -47v-2m0 -1v-2m0 -4v-2m0 -21v-2m0 -11v-2m0 -4v-1m0 -8v-1m0 -8v-2m0 -39v-2m0 -11v-2m0 -2v-2m0 -19v-2m0 -58v-2m0 -13v-2m0 -23v-2m0 -11v-2m0 -9v-1m0 -17v-2m0 -18v-2m0 -1v-2m0 -20v-2m0 -16v-2m0 -18v-2M443.5 811v-2m0 -2v-2m0 -148v-2m0 -7v-2m0 -18v-2m0 -54v-2m0 -73v-1m0 -48v-1m0 -66v-1m0 -9v-2m0 -4v-2m0 -16v-2m0 -27v-2m0 -159v-2m0 -47v-2m0 -5v-2m0 -6v-2M448.5 798v-2m0 -52v-2m0 -40v-2m0 -5v-2m0 -2v-1m0 -24v-2m0 -9v-4m0 -67v-1m0 -29v-2m0 -6v-1m0 -6v-2m0 -38v-3m0 -28v-1m0 -31v-2m0 -16v-2m0 -60v-2m0 -11v-1m0 -10v-1m0 -4v-2m0 -2v-1m0 -11v-2m0 -16v-2m0 -26v-1m0 -49v-2m0 -2v-2m0 -70v-2M459.5 784v-2m0 -42v-2m0 -117v-2m0 -13v-2m0 -54v-2m0 -40v-2m0 -63v-2m0 -23v-2m0 -24v-2m0 -19v-2m0 -22v-2m0 -7v-2m0 -5v-2m0 -4v-3m0 -109v-2m0 -14v-2m0 -35v-1m0 -40v-2M464.5 775v-2m0 -22v-2m0 -14v-2m0 -36v-2m0 -15v-1m0 -62v-2m0 -29v-2m0 -25v-2m0 -41v-2m0 -29v-4m0 -7v-2m0 -27v-2m0 -2v-2m0 -16v-2m0 -31v-1m0 -96v-2m0 -161v-2m0 -13v-2m0 -9v-2M475.5 796v-1m0 -37v-1m0 -115v-1m0 -17v-2m0 -1v-2m0 -51v-2m0 -11v-3m0 -11v-2m0 -38v-2m0 -41v-2m0 -67v-2m0 -6v-1m0 -42v-2m0 -7v-2m0 -36v-2m0 -7v-2m0 -2v-2m0 -7v-2m0 -152v-2M486.5 791v-2m0 -18v-4m0 -99v-2m0 -18v-2m0 -40v-2m0 -12v-2m0 -11v-2m0 -27v-2m0 -18v-2m0 -74v-2m0 -63v-2m0 -4v-2m0 -97v-2m0 -18v-2m0 -53v-2m0 -29v-1m0 -49v-2m0 -4v-2M491.5 796v-1m0 -113v-2m0 -10v-2m0 -51v-2m0 -54v-2m0 -2v-2m0 -34v-2m0 -71v-1m0 -6v-2m0 -9v-1m0 -8v-3m0 -42v-2m0 -5v-2m0 -4v-2m0 -79v-2m0 -22v-2m0 -12v-4m0 -33v-1m0 -17v-1m0 -19v-1m0 -24v-2m0 -40v-1M502.5 818v-2m0 -21v-2m0 -6v-1m0 -10v-1m0 -8v-1m0 -37v-1m0 -35v-2m0 -16v-2m0 -36v-4m0 -7v-2m0 -61v-4m0 -2v-2m0 -25v-2m0 -2v-1m0 -17v-2m0 -5v-2m0 -16v-2m0 -20v-2m0 -9v-2m0 -3v-2m0 -9v-2m0 -78v-2m0 -10v-2m0 -8v-1m0 -26v-2m0 -1v-2m0 -15v-1m0 -13v-2m0 -42v-1m0 -22v-2m0 -14v-2m0 -11v-2m0 -11v-2m0 -3v-2m0 -53v-1M513.5 816v-1m0 -10v-1m0 -20v-2m0 -13v-2m0 -5v-2m0 -31v-1m0 -151v-2m0 -5v-2m0 -2v-2m0 -10v-2m0 -18v-2m0 -9v-2m0 -36v-2m0 -15v-1m0 -37v-1m0 -13v-2m0 -9v-2m0 -3v-2m0 -29v-2m0 -15v-1m0 -33v-4m0 -3v-2m0 -24v-1m0 -10v-1m0 -100v-2m0 -31v-1m0 -20v-2M518.5 815v-2m0 -9v-2m0 -29v-2m0 -5v-4m0 -20v-2m0 -3v-2m0 -26v-1m0 -2v-2m0 -56v-2m0 -36v-2m0 -5v-2m0 -22v-2m0 -5v-2m0 -7v-2m0 -16v-4m0 -9v-2m0 -42v-1m0 -4v-2m0 -7v-2m0 -9v-2m0 -13v-3m0 -11v-2m0 -51v-1m0 -42v-2m0 -69v-3m0 -2v-4m0 -25v-2m0 -11v-2m0 -18v-5m0 -4v-2m0 -5v-2m0 -18v-2m0 -18v-2m0 -7v-2m0 -23v-2M529.5 755v-2m0 -4v-2m0 -56v-1m0 -97v-1m0 -67v-2m0 -13v-2m0 -43v-2m0 -125v-4m0 -25v-2m0 -5v-2m0 -6v-1m0 -2v-2m0 -181v-2m0 -7v-2m0 -4v-2M540.5 813v-2m0 -4v-2m0 -43v-2m0 -7v-2m0 -5v-2m0 -4v-2m0 -135v-2m0 -55v-1m0 -17v-3m0 -2v-2m0 -18v-2m0 -5v-4m0 -24v-1m0 -6v-2m0 -32v-2m0 -49v-2m0 -40v-2m0 -21v-2m0 -24v-1m0 -42v-2m0 -7v-2m0 -4v-3m0 -42v-2m0 -36v-2m0 -41v-2M545.5 769v-2m0 -5v-2m0 -5v-2m0 -24v-1m0 -31v-4m0 -2v-1m0 -19v-1m0 -19v-1m0 -113v-2m0 -23v-2m0 -33v-1m0 -28v-1m0 -67v-4m0 -49v-2m0 -36v-2m0 -31v-1m0 -46v-2m0 -41v-2m0 -7v-2m0 -11v-2M556.5 773v-2m0 -9v-2m0 -32v-6m0 -27v-2m0 -5v-2m0 -49v-2m0 -2v-1m0 -55v-2m0 -18v-2m0 -1v-2m0 -58v-2m0 -15v-1m0 -24v-2m0 -36v-4m0 -1v-2m0 -71v-2m0 -32v-2m0 -24v-2m0 -126v-2M567.5 802v-2m0 -18v-2m0 -38v-2m0 -3v-2m0 -4v-2m0 -96v-1m0 -22v-2m0 -15v-1m0 -18v-2m0 -20v-4m0 -27v-2m0 -14v-2m0 -105v-4m0 -11v-2m0 -72v-2m0 -13v-1m0 -19v-1m0 -4v-2m0 -5v-2m0 -38v-2m0 -40v-2m0 -18v-1m0 -20v-2m0 -20v-2M572.5 784v-2m0 -24v-1m0 -6v-4m0 -5v-2m0 -40v-1m0 -6v-2m0 -21v-2m0 -15v-2m0 -34v-2m0 -116v-2m0 -18v-2m0 -29v-1m0 -49v-2m0 -27v-2m0 -6v-1m0 -11v-2m0 -7v-4m0 -16v-2m0 -15v-1m0 -2v-2m0 -4v-1m0 -8v-1m0 -28v-1m0 -35v-2m0 -9v-2m0 -5v-2m0 -81v-6m0 -18v-2M583.5 780v-2m0 -69v-1m0 -18v-4m0 -31v-2m0 -3v-2m0 -2v-2m0 -7v-2m0 -42v-1m0 -24v-2m0 -127v-1m0 -42v-2m0 -25v-2m0 -107v-2m0 -47v-2m0 -49v-3M594.5 715v-2m0 -161v-2m0 -22v-2m0 -65v-2m0 -32v-2m0 -6v-1m0 -9v-2m0 -27v-4m0 -56v-2m0 -44v-1m0 -31v-2m0 -11v-2m0 -43v-2m0 -4v-1m0 -11v-2m0 -7v-4m0 -5v-2m0 -44v-1M599.5 816v-1m0 -64v-2m0 -2v-1m0 -29v-2m0 -141v-2m0 -71v-2m0 -85v-2m0 -105v-2m0 -137v-2m0 -2v-2m0 -14v-2m0 -45v-2M610.5 731v-2m0 -45v-2m0 -107v-1m0 -75v-2m0 -32v-2m0 -34v-2m0 -46v-1m0 -51v-2m0 -16v-2m0 -44v-1m0 -44v-2m0 -16v-2m0 -16v-4m0 -29v-2M621.5 742v-2m0 -7v-4m0 -7v-2m0 -7v-2m0 -7v-2m0 -25v-4m0 -20v-2m0 -16v-2m0 -52v-4m0 -56v-2m0 -3v-2m0 -71v-2m0 -7v-2m0 -29v-2m0 -52v-2m0 -16v-2m0 -6v-1m0 -20v-2m0 -45v-2m0 -2v-2m0 -90v-2M626.5 795v-2m0 -29v-2m0 -29v-2m0 -3v-2m0 -33v-2m0 -36v-2m0 -58v-2m0 -16v-2m0 -29v-1m0 -33v-2m0 -25v-2m0 -4v-2m0 -3v-2m0 -14v-2m0 -17v-1m0 -9v-2m0 -9v-2m0 -27v-2m0 -100v-2m0 -3v-2m0 -36v-2m0 -31v-2m0 -49v-1m0 -19v-1m0 -17v-2M637.5 767v-1m0 -8v-1m0 -22v-2m0 -13v-2m0 -28v-2m0 -46v-1m0 -2v-2m0 -5v-2m0 -37v-1m0 -29v-2m0 -13v-2m0 -20v-3m0 -93v-1m0 -10v-1m0 -51v-2m0 -7v-2m0 -22v-2m0 -5v-2m0 -16v-2m0 -23v-2m0 -26v-1m0 -71v-4m0 -16v-2m0 -7v-2m0 -25v-2m0 -20v-2M648.5 776v-1m0 -47v-2m0 -11v-2m0 -9v-2m0 -29v-2m0 -49v-1m0 -87v-2m0 -151v-1m0 -33v-2m0 -22v-1m0 -4v-2m0 -16v-2m0 -98v-2m0 -12v-2m0 -40v-4m0 -50v-2M653.5 820v-2m0 -40v-2m0 -12v-2m0 -16v-2m0 -18v-2m0 -6v-1m0 -11v-2m0 -31v-2m0 -3v-2m0 -9v-2m0 -4v-1m0 -4v-2m0 -2v-1m0 -44v-2m0 -14v-2m0 -9v-2m0 -147v-2m0 -67v-1m0 -8v-1m0 -49v-2m0 -55v-1m0 -47v-2m0 -40v-2M664.5 807v-2m0 -224v-2m0 -22v-2m0 -20v-1m0 -31v-2m0 -25v-2m0 -13v-2m0 -7v-2m0 -58v-2m0 -9v-1m0 -8v-1m0 -160v-2m0 -18v-2m0 -29v-1m0 -40v-2M675.5 764v-2m0 -4v-1m0 -29v-2m0 -36v-2m0 -53v-2m0 -79v-2m0 -6v-1m0 -6v-2m0 -3v-2m0 -4v-2m0 -65v-3m0 -2v-2m0 -13v-3m0 -15v-2m0 -94v-2m0 -61v-2m0 -6v-1m0 -37v-2m0 -7v-2m0 -59v-2m0 -38v-2M680.5 762v-2m0 -5v-2m0 -16v-2m0 -7v-2m0 -40v-2m0 -109v-1m0 -68v-1m0 -98v-2m0 -13v-2m0 -1v-2m0 -2v-2m0 -2v-1m0 -9v-2m0 -13v-2m0 -40v-1m0 -15v-2m0 -52v-4m0 -27v-4m0 -14v-2m0 -20v-2M691.5 800v-2m0 -7v-2m0 -25v-4m0 -51v-1m0 -75v-1m0 -26v-2m0 -29v-1m0 -11v-2m0 -47v-2m0 -42v-2m0 -20v-1m0 -18v-2m0 -22v-2m0 -2v-1m0 -17v-2m0 -10v-2m0 -26v-1m0 -10v-1m0 -11v-2m0 -44v-1m0 -9v-2m0 -31v-2m0 -14v-2m0 -18v-2m0 -4v-1m0 -60v-2m0 -35v-1M707.5 815v-2m0 -24v-2m0 -38v-2m0 -7v-2m0 -27v-2m0 -5v-2m0 -14v-2m0 -53v-1m0 -13v-2m0 -9v-2m0 -5v-2m0 -35v-5m0 -7v-2m0 -11v-2m0 -16v-2m0 -34v-4m0 -4v-1m0 -2v-2m0 -38v-2m0 -9v-2m0 -14v-4m0 -9v-2m0 -7v-2m0 -5v-2m0 -9v-2m0 -23v-2m0 -37v-1m0 -2v-2m0 -7v-2m0 -7v-2m0 -15v-1m0 -2v-2m0 -36v-2m0 -16v-2m0 -20v-2m0 -23v-2m0 -9v-2m0 -2v-2m0 -52v-2M718.5 811v-2m0 -5v-2m0 -53v-2m0 -23v-2m0 -13v-1m0 -22v-2m0 -45v-4m0 -2v-1m0 -17v-2m0 -58v-1m0 -33v-2m0 -36v-2m0 -7v-4m0 -34v-2m0 -45v-2m0 -171v-1m0 -46v-1m0 -67v-2M729.5 796v-1m0 -2v-4m0 -5v-2m0 -6v-1m0 -31v-2m0 -13v-1m0 -53v-2m0 -5v-2m0 -53v-1m0 -38v-4m0 -15v-1m0 -17v-2m0 -27v-2m0 -23v-2m0 -7v-2m0 -31v-2m0 -9v-1m0 -26v-2m0 -32v-2m0 -6v-1m0 -4v-2m0 -7v-2m0 -45v-2m0 -36v-2m0 -11v-2m0 -52v-2m0 -38v-2m0 -4v-3m0 -33v-2m0 -1v-2M761.5 813v-2m0 -42v-2m0 -5v-2m0 -14v-2m0 -11v-2m0 -69v-1m0 -69v-2m0 -190v-2m0 -2v-2m0 -22v-1m0 -10v-1m0 -131v-2m0 -20v-1m0 -37v-3M772.5 706v-2m0 -13v-1m0 -42v-2m0 -34v-2m0 -7v-2m0 -18v-2m0 -26v-1m0 -17v-5m0 -11v-2m0 -11v-2m0 -74v-2m0 -59v-2m0 -15v-2m0 -72v-2m0 -123v-2m0 -38v-4m0 -3v-2M799.5 802v-2m0 -29v-2m0 -16v-2m0 -40v-3m0 -2v-2m0 -18v-4m0 -20v-1m0 -19v-1m0 -2v-2m0 -16v-2m0 -45v-2m0 -15v-2m0 -3v-2m0 -5v-2m0 -37v-1m0 -8v-1m0 -6v-2m0 -3v-2m0 -16v-2m0 -7v-2m0 -17v-3m0 -18v-2m0 -6v-3m0 -11v-2m0 -7v-4m0 -5v-2m0 -15v-1m0 -4v-2m0 -32v-2m0 -18v-2m0 -16v-2m0 -20v-2m0 -9v-4m0 -50v-2m0 -47v-2m0 -15v-1M826.5 744v-4m0 -36v-2m0 -29v-2m0 -25v-2m0 -41v-2m0 -6v-2m0 -50v-2m0 -29v-2m0 -5v-2m0 -69v-4m0 -78v-1m0 -122v-2m0 -25v-2m0 -29v-2m0 -65v-2M853.5 633v-1m0 -8v-2m0 -103v-2m0 -74v-2m0 -2v-1m0 -4v-2m0 -32v-2m0 -51v-2m0 -23v-2m0 -26v-1m0 -19v-1m0 -15v-3m0 -80v-2M880.5 795v-4m0 -18v-2m0 -7v-2m0 -40v-2m0 -21v-2m0 -65v-2m0 -60v-2m0 -18v-2m0 -11v-2m0 -43v-2m0 -5v-2m0 -6v-1m0 -40v-2m0 -2v-2m0 -23v-2m0 -44v-1m0 -49v-2m0 -7v-2m0 -6v-1m0 -6v-2m0 -41v-2m0 -44v-1m0 -4v-2m0 -32v-2m0 -8v-1m0 -31v-2M907.5 782v-2m0 -34v-2m0 -6v-1m0 -91v-2m0 -23v-2m0 -4v-3m0 -26v-3m0 -6v-2m0 -61v-2m0 -105v-2m0 -22v-2m0 -12v-2m0 -22v-2m0 -11v-1m0 -6v-2m0 -29v-3m0 -11v-2m0 -11v-2m0 -45v-2m0 -11v-1m0 -22v-2m0 -18v-2M934.5 800v-2m0 -52v-2m0 -11v-2m0 -13v-1m0 -18v-2m0 -2v-2m0 -2v-1m0 -37v-2m0 -29v-1m0 -20v-2m0 -109v-2m0 -3v-2m0 -4v-2m0 -103v-2m0 -34v-2m0 -96v-2m0 -27v-2m0 -63v-2m0 -45v-2"/>
<path class="l4" stroke-width="6" d="M130 818v-2m0 -34v-2m0 -27v-2m0 -23v-2m0 -2v-2m0 -2v-2m0 -14v-2m0 -9v-3m0 -33v-2m0 -4v-1m0 -9v-2m0 -2v-2m0 -9v-2m0 -137v-2m0 -2v-2m0 -2v-2m0 -30v-2m0 -35v-1m0 -40v-2m0 -6v-1m0 -55v-2m0 -1v-2m0 -20v-2m0 -4v-1m0 -11v-2m0 -18v-2m0 -33v-1m0 -66v-1m0 -2v-2m0 -36v-2M141 787v-1m0 -40v-2m0 -33v-2m0 -9v-1m0 -6v-2m0 -29v-1m0 -8v-2m0 -9v-1m0 -13v-2m0 -92v-2m0 -9v-2m0 -15v-1m0 -24v-2m0 -41v-2m0 -9v-2m0 -20v-2m0 -3v-2m0 -4v-2m0 -20v-1m0 -28v-1m0 -4v-2m0 -25v-4m0 -9v-4m0 -3v-2m0 -25v-2m0 -6v-1m0 -19v-1m0 -67v-2M157 776v-1m0 -44v-2m0 -23v-2m0 -74v-2m0 -24v-1m0 -86v-1m0 -35v-2m0 -2v-1m0 -22v-2m0 -136v-2m0 -21v-2m0 -35v-1m0 -29v-2m0 -2v-2m0 -2v-2m0 -77v-2M168 816v-1m0 -73v-2m0 -3v-2m0 -26v-1m0 -4v-2m0 -22v-1m0 -13v-2m0 -3v-2m0 -37v-1m0 -134v-2m0 -38v-2m0 -9v-2m0 -25v-2m0 -38v-4m0 -27v-2m0 -34v-2m0 -6v-3m0 -27v-2m0 -6v-1m0 -4v-2m0 -38v-2m0 -65v-2m0 -18v-2m0 -21v-2M184 809v-2m0 -40v-1m0 -13v-2m0 -7v-4m0 -41v-2m0 -7v-2m0 -24v-2m0 -23v-2m0 -5v-2m0 -75v-1m0 -2v-2m0 -20v-2m0 -138v-1m0 -42v-2m0 -94v-2m0 -7v-2m0 -127v-2M195 782v-2m0 -5v-2m0 -9v-2m0 -31v-2m0 -23v-2m0 -16v-2m0 -4v-2m0 -19v-2m0 -22v-2m0 -5v-2m0 -9v-2m0 -22v-2m0 -19v-2m0 -22v-2m0 -32v-2m0 -9v-2m0 -20v-4m0 -58v-2m0 -12v-2m0 -31v-2m0 -43v-2m0 -20v-2m0 -3v-2m0 -2v-2m0 -2v-3m0 -24v-2m0 -54v-2m0 -29v-2m0 -1v-2m0 -55v-1m0 -4v-2m0 -5v-4m0 -14v-2M211 786v-2m0 -11v-2m0 -107v-2m0 -1v-2m0 -113v-1m0 -2v-2m0 -6v-1m0 -28v-1m0 -40v-2m0 -51v-2m0 -21v-2m0 -24v-2m0 -10v-2m0 -13v-2m0 -58v-2m0 -39v-2m0 -58v-2m0 -71v-3M222 809v-2m0 -7v-4m0 -9v-1m0 -6v-2m0 -3v-2m0 -44v-1m0 -31v-2m0 -27v-2m0 -18v-2m0 -29v-2m0 -34v-2m0 -7v-4m0 -5v-2m0 -4v-2m0 -52v-2m0 -11v-2m0 -5v-2m0 -20v-2m0 -5v-2m0 -13v-1m0 -48v-1m0 -11v-2m0 -36v-2m0 -13v-2m0 -29v-1m0 -2v-2m0 -63v-2m0 -9v-2m0 -11v-2m0 -3v-2m0 -11v-2m0 -16v-2m0 -2v-2m0 -14v-2m0 -9v-2m0 -3v-2m0 -11v-2m0 -14v-2m0 -6v-2M238 815v-2m0 -26v-1m0 -120v-2m0 -13v-1m0 -6v-2m0 -23v-2m0 -45v-2m0 -38v-2m0 -18v-2m0 -7v-4m0 -9v-2m0 -90v-2m0 -11v-2m0 -107v-2m0 -90v-4m0 -7v-2m0 -23v-2M249 791v-4m0 -3v-2m0 -24v-1m0 -17v-2m0 -85v-2m0 -9v-1m0 -4v-2m0 -5v-2m0 -31v-2m0 -9v-2m0 -9v-3m0 -24v-2m0 -47v-3m0 -51v-2m0 -24v-1m0 -33v-2m0 -20v-2m0 -12v-2m0 -9v-2m0 -5v-2m0 -13v-2m0 -11v-1m0 -28v-1m0 -9v-2m0 -6v-1m0 -33v-2m0 -9v-2m0 -2v-1m0 -57v-3M265 815v-2m0 -53v-2m0 -14v-2m0 -4v-1m0 -2v-4m0 -56v-2m0 -14v-2m0 -42v-2m0 -20v-1m0 -9v-4m0 -16v-2m0 -47v-2m0 -13v-2m0 -23v-2m0 -76v-2m0 -16v-2m0 -9v-2m0 -7v-2m0 -53v-1m0 -17v-1m0 -87v-2m0 -4v-2m0 -5v-2m0 -42v-1m0 -17v-2M276 809v-2m0 -49v-1m0 -53v-2m0 -5v-2m0 -51v-2m0 -3v-2m0 -4v-1m0 -8v-2m0 -12v-2m0 -4v-1m0 -4v-2m0 -38v-2m0 -3v-2m0 -18v-2m0 -4v-2m0 -32v-2m0 -2v-2m0 -29v-1m0 -6v-2m0 -2v-1m0 -31v-2m0 -2v-2m0 -7v-2m0 -3v-2m0 -45v-6m0 -3v-2m0 -24v-2m0 -3v-6m0 -5v-2m0 -56v-2m0 -22v-2m0 -65v-2m0 -14v-2m0 -7v-2m0 -14v-2m0 -13v-2M292 796v-1m0 -328v-2m0 -18v-2m0 -42v-2m0 -45v-2m0 -76v-2m0 -9v-2m0 -52v-2m0 -9v-2m0 -92v-2M303 811v-2m0 -29v-2m0 -27v-4m0 -14v-2m0 -20v-2m0 -67v-1m0 -187v-2m0 -5v-4m0 -51v-2m0 -1v-2m0 -22v-2m0 -7v-2m0 -51v-1m0 -4v-2m0 -20v-2m0 -7v-2m0 -43v-2m0 -9v-2M319 749v-2m0 -54v-3m0 -111v-2m0 -25v-2m0 -9v-2m0 -58v-2m0 -45v-4m0 -23v-2m0 -47v-2m0 -36v-2m0 -63v-2m0 -38v-2m0 -6v-1m0 -8v-1m0 -11v-2m0 -22v-2m0 -40v-1m0 -31v-2M330 776v-1m0 -71v-2m0 -7v-2m0 -40v-2m0 -108v-2m0 -15v-1m0 -58v-2m0 -42v-2m0 -81v-2m0 -2v-2m0 -2v-3m0 -26v-1m0 -18v-2m0 -40v-2m0 -9v-2m0 -70v-2m0 -2v-2m0 -56v-2M346 789v-3m0 -17v-2m0 -14v-2m0 -71v-1m0 -89v-2m0 -7v-2m0 -47v-4m0 -16v-2m0 -11v-2m0 -1v-2m0 -22v-2m0 -9v-2m0 -7v-2m0 -38v-2m0 -43v-2m0 -14v-2m0 -22v-2m0 -49v-2m0 -3v-2m0 -29v-2m0 -27v-2m0 -2v-1m0 -22v-2m0 -23v-2m0 -13v-2m0 -29v-2M357 800v-2m0 -3v-2m0 -36v-2m0 -47v-2m0 -38v-2m0 -125v-2m0 -2v-2m0 -25v-2m0 -63v-2m0 -36v-2m0 -92v-2m0 -62v-2m0 -45v-2m0 -22v-1m0 -76v-2M373 804v-2m0 -16v-2m0 -6v-2m0 -47v-1m0 -19v-3m0 -22v-2m0 -61v-2m0 -13v-2m0 -14v-2m0 -47v-2m0 -14v-2m0 -9v-2m0 -13v-2m0 -7v-2m0 -20v-1m0 -6v-2m0 -130v-2m0 -36v-2m0 -4v-1m0 -48v-1m0 -4v-2m0 -67v-2m0 -25v-2m0 -14v-2m0 -18v-2m0 -2v-2M384 796v-1m0 -9v-2m0 -55v-1m0 -8v-2m0 -28v-2m0 -46v-1m0 -31v-2m0 -13v-2m0 -38v-1m0 -35v-2m0 -21v-2m0 -36v-2m0 -27v-2m0 -22v-2m0 -27v-2m0 -20v-2m0 -97v-2m0 -24v-2m0 -12v-2m0 -9v-4m0 -40v-1m0 -6v-2M400 818v-2m0 -47v-2m0 -72v-4m0 -107v-1m0 -20v-2m0 -38v-2m0 -7v-2m0 -4v-2m0 -7v-2m0 -32v-2m0 -4v-3m0 -9v-2m0 -38v-2m0 -131v-1m0 -13v-2m0 -11v-2m0 -3v-2m0 -112v-2M411 767v-1m0 -37v-3m0 -42v-2m0 -11v-1m0 -6v-2m0 -18v-2m0 -12v-2m0 -123v-2m0 -20v-2m0 -5v-2m0 -9v-2m0 -7v-2m0 -53v-1m0 -53v-2m0 -18v-2m0 -31v-1m0 -17v-2m0 -14v-2m0 -45v-2m0 -14v-2m0 -33v-2m0 -47v-2m0 -1v-2M427 804v-2m0 -11v-2m0 -72v-2m0 -20v-2m0 -105v-2m0 -5v-2m0 -89v-2m0 -34v-2m0 -13v-1m0 -6v-2m0 -69v-1m0 -4v-2m0 -12v-2m0 -56v-2m0 -11v-2m0 -4v-1m0 -26v-2m0 -30v-2m0 -26v-1m0 -18v-2m0 -15v-3m0 -6v-2m0 -5v-2M438 800v-2m0 -49v-2m0 -45v-2m0 -39v-2m0 -13v-2m0 -18v-2m0 -3v-2m0 -18v-2m0 -13v-2m0 -21v-2m0 -4v-2m0 -27v-3m0 -28v-1m0 -2v-4m0 -74v-2m0 -18v-2m0 -40v-3m0 -4v-2m0 -2v-1m0 -24v-2m0 -42v-1m0 -4v-2m0 -11v-1m0 -19v-5m0 -4v-1m0 -15v-4m0 -52v-2m0 -2v-2m0 -30v-2m0 -4v-2m0 -21v-2M454 811v-2m0 -2v-2m0 -16v-2m0 -49v-1m0 -53v-2m0 -21v-2m0 -22v-2m0 -34v-2m0 -29v-2m0 -52v-2m0 -6v-2m0 -34v-2m0 -49v-2m0 -29v-1m0 -17v-3m0 -9v-4m0 -36v-2m0 -94v-2m0 -24v-1m0 -17v-5m0 -20v-2m0 -31v-2m0 -12v-2M470 815v-2m0 -2v-2m0 -89v-2m0 -27v-1m0 -95v-2m0 -48v-2m0 -20v-2m0 -2v-2m0 -25v-2m0 -32v-2m0 -113v-1m0 -15v-2m0 -32v-4m0 -74v-2m0 -35v-1m0 -2v-2m0 -54v-2m0 -20v-2M481 746v-2m0 -45v-2m0 -17v-1m0 -8v-1m0 -42v-2m0 -22v-1m0 -44v-2m0 -34v-4m0 -109v-1m0 -2v-2m0 -2v-3m0 -116v-2m0 -24v-2m0 -12v-2m0 -76v-2m0 -40v-2m0 -23v-2m0 -7v-2M497 782v-2m0 -18v-4m0 -5v-2m0 -27v-2m0 -14v-2m0 -7v-2m0 -94v-2m0 -4v-2m0 -3v-2m0 -36v-2m0 -17v-1m0 -60v-2m0 -29v-4m0 -36v-2m0 -27v-2m0 -1v-2m0 -26v-1m0 -2v-2m0 -45v-2m0 -4v-2m0 -81v-4m0 -20v-2m0 -21v-2m0 -60v-2M508 737v-2m0 -4v-2m0 -20v-1m0 -9v-2m0 -4v-2m0 -7v-2m0 -72v-2m0 -5v-2m0 -56v-2m0 -15v-2m0 -21v-2m0 -84v-1m0 -44v-2m0 -1v-2m0 -100v-2m0 -38v-2m0 -23v-2m0 -38v-2m0 -14v-2m0 -15v-1m0 -29v-2M524 802v-2m0 -4v-1m0 -62v-4m0 -21v-2m0 -24v-2m0 -48v-2m0 -6v-2m0 -34v-4m0 -20v-1m0 -13v-2m0 -34v-2m0 -42v-2m0 -21v-2m0 -9v-2m0 -5v-2m0 -18v-4m0 -31v-2m0 -5v-4m0 -2v-1m0 -18v-2m0 -4v-2m0 -29v-2m0 -9v-1m0 -73v-2m0 -5v-2m0 -72v-2m0 -7v-4m0 -36v-2M535 713v-2m0 -136v-1m0 -2v-2m0 -151v-1m0 -71v-2m0 -9v-2m0 -2v-1m0 -28v-1m0 -31v-2m0 -20v-2m0 -31v-1m0 -37v-1m0 -60v-2M551 809v-4m0 -3v-2m0 -71v-1m0 -2v-2m0 -11v-2m0 -9v-2m0 -21v-2m0 -44v-1m0 -53v-2m0 -2v-1m0 -24v-2m0 -18v-2m0 -61v-2m0 -4v-2m0 -1v-2m0 -37v-1m0 -71v-4m0 -32v-2m0 -7v-2m0 -4v-2m0 -5v-2m0 -18v-2m0 -78v-1m0 -4v-2m0 -11v-2m0 -34v-2m0 -7v-2m0 -11v-2M562 784v-2m0 -40v-2m0 -83v-4m0 -3v-2m0 -53v-2m0 -70v-2m0 -56v-2m0 -7v-2m0 -62v-2m0 -10v-2m0 -7v-2m0 -33v-2m0 -3v-2m0 -103v-2m0 -4v-2m0 -2v-1m0 -82v-2m0 -5v-2m0 -11v-2M578 757v-2m0 -13v-2m0 -38v-2m0 -39v-2m0 -18v-2m0 -7v-2m0 -18v-2m0 -36v-2m0 -17v-1m0 -20v-2m0 -40v-2m0 -49v-2m0 -3v-2m0 -78v-2m0 -29v-2m0 -1v-2m0 -6v-1m0 -24v-2m0 -47v-2m0 -9v-2m0 -12v-2m0 -85v-2m0 -15v-1m0 -22v-2M589 780v-2m0 -5v-4m0 -40v-1m0 -6v-2m0 -16v-2m0 -80v-1m0 -29v-2m0 -9v-2m0 -36v-2m0 -31v-2m0 -38v-2m0 -27v-2m0 -9v-1m0 -8v-2m0 -48v-2m0 -35v-2m0 -103v-2m0 -59v-2m0 -36v-4m0 -15v-1M605 809v-2m0 -14v-2m0 -25v-2m0 -11v-2m0 -45v-2m0 -58v-2m0 -41v-2m0 -37v-1m0 -29v-2m0 -18v-2m0 -9v-2m0 -87v-2m0 -31v-1m0 -60v-2m0 -42v-2m0 -21v-2m0 -91v-1m0 -40v-2M616 764v-2m0 -83v-2m0 -78v-2m0 -18v-2m0 -2v-1m0 -26v-2m0 -52v-2m0 -15v-1m0 -22v-2m0 -4v-1m0 -11v-2m0 -2v-2m0 -43v-2m0 -96v-2m0 -20v-2m0 -34v-2m0 -29v-2m0 -10v-2m0 -15v-3m0 -42v-4M632 809v-2m0 -27v-2m0 -67v-2m0 -72v-2m0 -11v-2m0 -18v-1m0 -53v-2m0 -36v-2m0 -22v-1m0 -2v-2m0 -6v-1m0 -2v-2m0 -69v-2m0 -25v-2m0 -5v-2m0 -6v-3m0 -45v-2m0 -11v-2m0 -7v-2m0 -58v-2m0 -2v-1m0 -26v-2m0 -74v-2M643 805v-3m0 -18v-2m0 -76v-2m0 -25v-2m0 -31v-2m0 -34v-2m0 -18v-2m0 -53v-1m0 -4v-2m0 -7v-2m0 -27v-2m0 -7v-2m0 -13v-1m0 -129v-2m0 -45v-2m0 -5v-2m0 -44v-2m0 -36v-2m0 -12v-2m0 -7v-2m0 -9v-2m0 -15v-1m0 -15v-2m0 -9v-2m0 -21v-2M659 778v-2m0 -14v-2m0 -11v-2m0 -3v-2m0 -14v-2m0 -13v-2m0 -5v-2m0 -33v-1m0 -2v-2m0 -2v-2m0 -1v-2m0 -2v-2m0 -42v-1m0 -46v-2m0 -79v-2m0 -7v-2m0 -35v-1m0 -60v-2m0 -2v-2m0 -76v-2m0 -9v-1m0 -2v-2m0 -25v-2m0 -84v-3m0 -35v-1m0 -19v-3M670 820v-2m0 -7v-2m0 -4v-1m0 -31v-2m0 -13v-1m0 -8v-3m0 -47v-4m0 -5v-2m0 -69v-2m0 -22v-2m0 -34v-2m0 -94v-2m0 -2v-1m0 -10v-1m0 -42v-2m0 -76v-2m0 -25v-2m0 -65v-2m0 -43v-2m0 -11v-2m0 -38v-2m0 -31v-1M686 731v-2m0 -54v-2m0 -143v-2m0 -43v-2m0 -15v-1m0 -53v-2m0 -47v-2m0 -45v-2m0 -13v-1m0 -124v-1m0 -51v-2M697 782v-2m0 -23v-2m0 -44v-2m0 -130v-2m0 -11v-2m0 -5v-2m0 -12v-4m0 -60v-2m0 -60v-1m0 -53v-2m0 -14v-2m0 -34v-2m0 -62v-2m0 -54v-2m0 -27v-2M740 776v-1m0 -22v-2m0 -13v-1m0 -4v-2m0 -49v-2m0 -21v-2m0 -51v-2m0 -7v-2m0 -18v-2m0 -58v-3m0 -47v-2m0 -18v-2m0 -15v-1m0 -6v-2m0 -52v-2m0 -31v-2m0 -2v-1m0 -29v-2m0 -20v-2m0 -11v-2m0 -23v-2m0 -25v-2m0 -102v-1M751 782v-2m0 -29v-2m0 -12v-4m0 -18v-2m0 -2v-2m0 -7v-2m0 -12v-2m0 -36v-2m0 -15v-1m0 -2v-2m0 -49v-2m0 -16v-2m0 -13v-1m0 -66v-2m0 -5v-2m0 -3v-2m0 -84v-3m0 -64v-1m0 -24v-2m0 -23v-2m0 -6v-1m0 -11v-2m0 -11v-2m0 -38v-2m0 -47v-2m0 -16v-2m0 -2v-1"/>
<path class="l5" stroke-width="5" d="M124.5 815v-2m0 -60v-2m0 -9v-2m0 -81v-2m0 -40v-2m0 -2v-1m0 -102v-2m0 -2v-1m0 -57v-1m0 -158v-2m0 -18v-2m0 -22v-1m0 -40v-2M135.5 697v-2m0 -38v-2m0 -20v-2m0 -29v-1m0 -77v-1m0 -269v-1m0 -96v-2M146.5 805v-1m0 -13v-2m0 -7v-2m0 -20v-2m0 -20v-1m0 -44v-2m0 -23v-2m0 -16v-2m0 -65v-2m0 -149v-2m0 -5v-2m0 -38v-2m0 -2v-3m0 -38v-2m0 -4v-2m0 -41v-2m0 -16v-4M151.5 776v-1m0 -37v-1m0 -29v-2m0 -98v-2m0 -45v-2m0 -33v-1m0 -11v-2m0 -107v-4m0 -20v-1m0 -2v-2m0 -87v-2m0 -183v-2M162.5 706v-2m0 -47v-2m0 -29v-2m0 -52v-2m0 -163v-2m0 -54v-2m0 -4v-2m0 -52v-4m0 -34v-2m0 -47v-2m0 -7v-2m0 -2v-2M173.5 811v-2m0 -5v-2m0 -16v-2m0 -69v-2m0 -13v-1m0 -2v-2m0 -31v-2m0 -5v-2m0 -9v-2m0 -9v-2m0 -12v-2m0 -36v-2m0 -42v-2m0 -54v-2m0 -74v-4m0 -13v-1m0 -15v-2m0 -16v-2m0 -32v-2m0 -76v-2m0 -22v-4m0 -7v-2m0 -87v-1m0 -2v-2m0 -5v-2M178.5 802v-2m0 -9v-2m0 -69v-2m0 -72v-2m0 -83v-2m0 -125v-2m0 -65v-2m0 -4v-1m0 -22v-2m0 -33v-1m0 -11v-2m0 -42v-2m0 -106v-2m0 -2v-2m0 -16v-4m0 -9v-2M189.5 726v-4m0 -18v-2m0 -78v-2m0 -16v-2m0 -79v-4m0 -40v-2m0 -7v-2m0 -3v-2m0 -100v-2m0 -2v-1m0 -84v-2m0 -16v-2m0 -121v-2m0 -31v-1M200.5 673v-2m0 -20v-1m0 -31v-2m0 -127v-2m0 -148v-2m0 -42v-2m0 -204v-2M205.5 454v-2m0 -105v-2m0 -92v-2m0 -56v-2M216.5 749v-2m0 -3v-2m0 -13v-1m0 -15v-2m0 -18v-2m0 -49v-3m0 -78v-4m0 -14v-2m0 -76v-2m0 -7v-2m0 -60v-2m0 -7v-2m0 -5v-2m0 -44v-1m0 -64v-2m0 -27v-2m0 -79v-2M227.5 813v-2m0 -44v-1m0 -95v-1m0 -75v-2m0 -47v-1m0 -15v-2m0 -152v-2m0 -54v-2m0 -154v-2m0 -49v-2M232.5 813v-2m0 -9v-2m0 -24v-1m0 -279v-2m0 -80v-2m0 -34v-2m0 -131v-1m0 -33v-2m0 -87v-2M243.5 728v-2m0 -2v-2m0 -18v-2m0 -63v-4m0 -45v-2m0 -13v-1m0 -26v-2m0 -36v-2m0 -40v-1m0 -9v-2m0 -33v-2m0 -14v-2m0 -27v-2m0 -2v-2m0 -18v-2m0 -16v-2m0 -199v-2m0 -31v-1M254.5 726v-2m0 -11v-2m0 -25v-4m0 -11v-1m0 -15v-2m0 -50v-2m0 -22v-2m0 -7v-2m0 -42v-1m0 -37v-1m0 -37v-2m0 -208v-2m0 -36v-2m0 -109v-1M259.5 809v-2m0 -12v-4m0 -11v-2m0 -16v-2m0 -157v-4m0 -100v-2m0 -7v-2m0 -5v-2m0 -5v-2m0 -60v-2m0 -16v-2m0 -14v-2m0 -47v-2m0 -100v-2m0 -36v-2m0 -7v-2M270.5 679v-2m0 -15v-1m0 -160v-2m0 -40v-1m0 -98v-2m0 -49v-2m0 -112v-2m0 -36v-2m0 -40v-2M281.5 646v-2m0 -2v-1m0 -13v-2m0 -11v-2m0 -14v-2m0 -29v-2m0 -92v-2m0 -20v-2m0 -157v-2m0 -31v-2m0 -128v-2m0 -6v-2M286.5 615v-2m0 -163v-2m0 -9v-1m0 -11v-2m0 -198v-1M297.5 735v-4m0 -45v-2m0 -129v-3m0 -13v-2m0 -2v-1m0 -15v-2m0 -112v-2m0 -3v-2m0 -4v-2m0 -9v-3m0 -31v-2m0 -11v-2m0 -11v-3m0 -7v-2m0 -4v-2m0 -41v-4m0 -63v-2m0 -58v-2m0 -13v-2m0 -1v-2M308.5 771v-2m0 -22v-1m0 -265v-2m0 -2v-1m0 -102v-3m0 -113v-2m0 -16v-2m0 -9v-2m0 -45v-2M313.5 796v-1m0 -60v-2m0 -45v-2m0 -31v-2m0 -49v-1m0 -20v-2m0 -7v-2m0 -40v-2m0 -45v-2m0 -24v-1m0 -42v-2m0 -27v-2m0 -27v-2m0 -24v-1m0 -4v-2m0 -123v-2M324.5 809v-2m0 -3v-2m0 -36v-2m0 -29v-2m0 -2v-2m0 -52v-2m0 -13v-5m0 -4v-2m0 -16v-2m0 -7v-2m0 -12v-2m0 -46v-1m0 -144v-1m0 -78v-2m0 -7v-2m0 -18v-2m0 -42v-2m0 -32v-2m0 -13v-2m0 -12v-2m0 -9v-2m0 -3v-2m0 -37v-1m0 -11v-2m0 -9v-2m0 -18v-2m0 -9v-2M335.5 786v-2m0 -24v-2m0 -85v-2m0 -1v-2m0 -13v-2m0 -40v-1m0 -86v-1m0 -2v-2m0 -4v-1m0 -4v-2m0 -143v-2m0 -2v-2m0 -77v-2m0 -94v-2m0 -13v-2m0 -74v-2M340.5 757v-2m0 -8v-1m0 -64v-2m0 -25v-2m0 -16v-2m0 -170v-2m0 -2v-2m0 -16v-2m0 -2v-1m0 -2v-2m0 -36v-2m0 -89v-2m0 -27v-2M351.5 818v-2m0 -79v-2m0 -80v-2m0 -14v-2m0 -53v-1m0 -178v-2m0 -52v-2M362.5 780v-2m0 -63v-2m0 -92v-2m0 -140v-2m0 -1v-2m0 -114v-2m0 -209v-1m0 -6v-2M367.5 771v-2m0 -45v-2m0 -25v-2m0 -109v-2m0 -47v-2m0 -38v-1m0 -71v-2m0 -13v-1m0 -131v-2m0 -3v-2m0 -15v-3m0 -82v-2m0 -63v-2M378.5 818v-2m0 -70v-2m0 -65v-4m0 -9v-2m0 -38v-2m0 -85v-2m0 -2v-1m0 -42v-2m0 -76v-2m0 -25v-2m0 -4v-1m0 -8v-1m0 -19v-1m0 -19v-1m0 -4v-2m0 -78v-2m0 -146v-2M389.5 805v-1m0 -62v-2m0 -2v-1m0 -138v-2m0 -2v-2m0 -29v-1m0 -149v-2m0 -2v-1m0 -13v-2m0 -7v-2m0 -34v-2m0 -9v-2m0 -4v-2m0 -19v-2m0 -60v-4m0 -20v-1m0 -13v-2m0 -7v-2m0 -4v-3m0 -13v-4m0 -16v-2m0 -21v-2m0 -13v-2m0 -12v-2M394.5 758v-1m0 -142v-2m0 -30v-2m0 -189v-2m0 -23v-2m0 -152v-2m0 -118v-2M405.5 813v-2m0 -49v-2m0 -99v-2m0 -26v-1m0 -8v-2m0 -360v-2m0 -71v-1M416.5 809v-2m0 -41v-2m0 -44v-2m0 -36v-2m0 -134v-1m0 -22v-2m0 -105v-2m0 -43v-2m0 -33v-2m0 -5v-4m0 -51v-1m0 -18v-2m0 -27v-2m0 -8v-1m0 -49v-2M421.5 528v-2m0 -76v-2m0 -132v-2m0 -195v-2m0 -27v-2M432.5 775v-2m0 -24v-2m0 -3v-2m0 -83v-4m0 -45v-2m0 -36v-2m0 -15v-3m0 -33v-2m0 -30v-2m0 -44v-2m0 -14v-4m0 -12v-2m0 -4v-2m0 -38v-2m0 -18v-1m0 -20v-2m0 -44v-2m0 -92v-4m0 -1v-2m0 -74v-2M443.5 633v-1m0 -40v-2m0 -147v-2m0 -134v-2m0 -117v-2m0 -91v-2M448.5 784v-2m0 -47v-2m0 -7v-2m0 -36v-2m0 -11v-2m0 -45v-2m0 -4v-1m0 -17v-1m0 -60v-2m0 -4v-2m0 -48v-2m0 -13v-2m0 -40v-1m0 -138v-2m0 -16v-4m0 -25v-2m0 -107v-2m0 -18v-2M459.5 673v-2m0 -25v-2m0 -22v-1m0 -2v-2m0 -25v-2m0 -13v-2m0 -7v-2m0 -85v-2m0 -40v-1m0 -9v-4m0 -58v-2m0 -69v-2m0 -119v-2m0 -14v-2m0 -37v-1M464.5 718v-1m0 -55v-1m0 -42v-2m0 -232v-2m0 -177v-2m0 -2v-2M475.5 816v-3m0 -69v-2m0 -16v-2m0 -71v-2m0 -10v-2m0 -2v-2m0 -38v-2m0 -58v-2m0 -21v-2m0 -25v-2m0 -2v-2m0 -7v-2m0 -42v-1m0 -42v-2m0 -101v-2m0 -46v-1m0 -49v-2m0 -44v-1m0 -15v-2m0 -3v-2m0 -15v-1M486.5 747v-1m0 -28v-1m0 -182v-1m0 -2v-2m0 -34v-2m0 -56v-2m0 -102v-2m0 -52v-2m0 -71v-1m0 -33v-2m0 -80v-1M491.5 744v-2m0 -29v-2m0 -74v-2m0 -174v-2m0 -25v-2m0 -36v-2m0 -72v-2m0 -26v-1m0 -17v-2m0 -47v-1m0 -96v-4M502.5 815v-2m0 -17v-1m0 -48v-1m0 -6v-2m0 -12v-2m0 -2v-2m0 -25v-2m0 -2v-1m0 -6v-2m0 -12v-2m0 -13v-2m0 -58v-2m0 -9v-1m0 -17v-2m0 -12v-2m0 -44v-1m0 -24v-2m0 -11v-1m0 -8v-1m0 -6v-2m0 -3v-2m0 -62v-2m0 -7v-2m0 -1v-2m0 -69v-2m0 -2v-2m0 -38v-1m0 -11v-2m0 -33v-2m0 -29v-1m0 -26v-2m0 -23v-2m0 -18v-2M513.5 670v-2m0 -6v-1m0 -118v-2m0 -44v-1m0 -20v-2m0 -120v-2m0 -90v-2m0 -33v-1m0 -95v-1M518.5 782v-2m0 -4v-1m0 -58v-4m0 -36v-2m0 -4v-1m0 -35v-2m0 -156v-1m0 -11v-2m0 -51v-2m0 -65v-2m0 -52v-2m0 -58v-2m0 -22v-1m0 -26v-2m0 -72v-2M529.5 802v-2m0 -225v-1m0 -203v-2m0 -87v-2m0 -165v-2m0 -16v-2M540.5 796v-1m0 -28v-1m0 -11v-2m0 -16v-2m0 -2v-2m0 -40v-1m0 -147v-2m0 -6v-3m0 -7v-2m0 -9v-4m0 -52v-2m0 -100v-2m0 -27v-2m0 -105v-2m0 -5v-4m0 -23v-2m0 -38v-2m0 -18v-2m0 -4v-1m0 -8v-1M545.5 738v-1m0 -57v-1m0 -84v-2m0 -106v-2m0 -2v-2m0 -5v-2m0 -71v-2m0 -79v-2m0 -46v-1m0 -35v-2M556.5 804v-2m0 -13v-2m0 -40v-1m0 -37v-1m0 -22v-2m0 -4v-1m0 -4v-2m0 -7v-4m0 -1v-2m0 -71v-2m0 -16v-2m0 -7v-2m0 -14v-2m0 -20v-2m0 -18v-2m0 -25v-2m0 -158v-2m0 -90v-2m0 -51v-2m0 -16v-2m0 -2v-1m0 -6v-3m0 -11v-2M567.5 767v-1m0 -33v-2m0 -18v-2m0 -5v-2m0 -40v-2m0 -7v-2m0 -3v-2m0 -20v-2m0 -27v-2m0 -7v-2m0 -74v-2m0 -13v-2m0 -16v-2m0 -36v-2m0 -16v-2m0 -20v-2m0 -63v-2m0 -7v-2m0 -5v-2m0 -24v-2M572.5 802v-2m0 -13v-1m0 -8v-2m0 -48v-2m0 -20v-2m0 -2v-2m0 -12v-2m0 -2v-2m0 -45v-2m0 -3v-2m0 -35v-2m0 -16v-2m0 -14v-2m0 -4v-1m0 -2v-2m0 -7v-2m0 -73v-1m0 -4v-2m0 -11v-2m0 -27v-2m0 -16v-2m0 -9v-2m0 -47v-1m0 -8v-2m0 -30v-2m0 -170v-2M583.5 762v-2m0 -63v-2m0 -116v-2m0 -11v-2m0 -38v-1m0 -187v-2m0 -29v-2m0 -134v-2m0 -16v-2m0 -7v-2M594.5 786v-2m0 -22v-2m0 -156v-1m0 -49v-2m0 -187v-2m0 -118v-1m0 -13v-2m0 -20v-2m0 -54v-2m0 -18v-2M599.5 807v-2m0 -12v-2m0 -11v-2m0 -72v-2m0 -38v-2m0 -49v-2m0 -1v-2m0 -18v-2m0 -13v-2m0 -27v-2m0 -9v-2m0 -7v-2m0 -79v-2m0 -11v-2m0 -52v-2m0 -80v-2m0 -34v-2m0 -111v-1M610.5 762v-2m0 -3v-2m0 -42v-2m0 -83v-2m0 -105v-2m0 -13v-1m0 -95v-1m0 -82v-2m0 -54v-2m0 -121v-2m0 -18v-2m0 -2v-2m0 -20v-1M621.5 700v-1m0 -33v-2m0 -2v-1m0 -294v-2m0 -7v-2m0 -5v-2m0 -40v-2m0 -147v-1m0 -51v-2M626.5 751v-2m0 -47v-2m0 -79v-2m0 -85v-4m0 -96v-2m0 -34v-2m0 -198v-1M637.5 747v-1m0 -55v-1m0 -80v-2m0 -94v-2m0 -174v-2m0 -16v-2m0 -29v-2m0 -36v-2m0 -13v-1m0 -4v-2m0 -18v-2m0 -52v-2m0 -29v-2m0 -4v-1m0 -2v-2m0 -16v-2M648.5 796v-1m0 -69v-2m0 -13v-2m0 -208v-2m0 -27v-2m0 -20v-2m0 -23v-2m0 -65v-2m0 -53v-1m0 -104v-1m0 -46v-2M653.5 804v-2m0 -26v-1m0 -15v-2m0 -14v-2m0 -4v-1m0 -4v-2m0 -3v-2m0 -18v-2m0 -65v-2m0 -33v-2m0 -72v-2m0 -150v-2m0 -18v-4m0 -18v-2m0 -13v-1m0 -28v-1m0 -111v-2m0 -11v-1m0 -24v-2m0 -51v-1M664.5 800v-2m0 -70v-2m0 -82v-2m0 -12v-2m0 -73v-1m0 -35v-2m0 -23v-2m0 -47v-2m0 -29v-2m0 -32v-2m0 -145v-2M675.5 805v-1m0 -84v-2m0 -110v-2m0 -22v-1m0 -62v-2m0 -190v-2m0 -20v-2m0 -18v-2m0 -12v-2m0 -160v-1M680.5 720v-2m0 -16v-2m0 -141v-2m0 -31v-1m0 -91v-2m0 -42v-1m0 -15v-2m0 -90v-2m0 -24v-3m0 -33v-2m0 -78v-1m0 -15v-2M691.5 811v-2m0 -121v-4m0 -14v-2m0 -69v-2m0 -65v-2m0 -45v-2m0 -125v-2m0 -100v-1m0 -33v-2m0 -14v-2m0 -51v-2m0 -5v-2m0 -11v-2m0 -29v-1m0 -2v-2m0 -9v-2M707.5 775v-2m0 -9v-2m0 -7v-2m0 -44v-1m0 -9v-2m0 -22v-2m0 -52v-2m0 -7v-2m0 -17v-1m0 -15v-2m0 -76v-2m0 -25v-2m0 -127v-1m0 -4v-2m0 -65v-2m0 -40v-2m0 -41v-2m0 -51v-3M718.5 690v-2m0 -33v-2m0 -5v-2m0 -11v-2m0 -27v-2m0 -69v-1m0 -22v-2m0 -20v-2m0 -45v-2m0 -56v-2m0 -18v-2m0 -14v-2m0 -105v-2m0 -40v-2m0 -18v-2m0 -5v-2m0 -54v-2M729.5 800v-2m0 -90v-2m0 -22v-2m0 -25v-2m0 -161v-2m0 -11v-2m0 -7v-2m0 -20v-2m0 -5v-2m0 -74v-2m0 -16v-2m0 -16v-2m0 -87v-2m0 -67v-2m0 -29v-2m0 -39v-4M761.5 782v-2m0 -2v-2m0 -59v-2m0 -33v-2m0 -5v-2m0 -221v-2m0 -7v-2m0 -9v-3m0 -15v-2m0 -58v-2m0 -21v-2m0 -4v-2m0 -25v-2m0 -29v-2m0 -7v-2m0 -128v-2M772.5 802v-2m0 -49v-2m0 -12v-2m0 -36v-2m0 -82v-2m0 -43v-4m0 -69v-1m0 -91v-2m0 -34v-2m0 -35v-1m0 -8v-1m0 -84v-2m0 -43v-2m0 -81v-2M799.5 796v-1m0 -9v-2m0 -33v-2m0 -5v-4m0 -107v-1m0 -53v-2m0 -43v-2m0 -4v-2m0 -30v-2m0 -7v-2m0 -9v-2m0 -13v-2m0 -32v-2m0 -65v-2m0 -33v-2m0 -23v-2m0 -29v-2m0 -78v-1m0 -6v-2m0 -76v-2M826.5 771v-2m0 -181v-2m0 -23v-2m0 -44v-1m0 -8v-2m0 -32v-2m0 -92v-2m0 -9v-2m0 -22v-2m0 -30v-2m0 -22v-2m0 -34v-2m0 -91v-1m0 -6v-2M853.5 780v-4m0 -30v-2m0 -2v-2m0 -141v-2m0 -52v-2m0 -120v-2m0 -248v-2M880.5 805v-1m0 -4v-2m0 -41v-2m0 -20v-2m0 -36v-2m0 -2v-2m0 -45v-2m0 -45v-2m0 -4v-1m0 -26v-2m0 -32v-2m0 -14v-2m0 -2v-2m0 -52v-2m0 -46v-3m0 -44v-2m0 -3v-2m0 -4v-1m0 -2v-2m0 -62v-1m0 -120v-2m0 -16v-2M907.5 815v-2m0 -123v-2m0 -66v-1m0 -46v-1m0 -82v-2m0 -81v-2m0 -11v-2m0 -18v-2m0 -31v-1m0 -4v-4m0 -34v-2m0 -100v-1m0 -60v-2M934.5 265v-1m0 -57v-1"/>
<path class="l5" stroke-width="6" d="M130 809v-2m0 -41v-2m0 -94v-2m0 -76v-2m0 -9v-2m0 -45v-2m0 -15v-1m0 -77v-1m0 -40v-2m0 -16v-2m0 -65v-2m0 -26v-5m0 -58v-2m0 -14v-2m0 -47v-2m0 -67v-2M141 809v-2m0 -76v-2m0 -50v-2m0 -78v-2m0 -7v-2m0 -9v-2m0 -74v-2m0 -4v-1m0 -35v-2m0 -12v-2m0 -11v-2m0 -61v-2m0 -6v-2m0 -25v-2m0 -85v-2m0 -34v-2m0 -25v-2m0 -9v-2m0 -31v-2m0 -32v-2M157 711v-2m0 -29v-1m0 -2v-2m0 -2v-2m0 -30v-2m0 -13v-2m0 -5v-2m0 -20v-2m0 -18v-2m0 -9v-2m0 -16v-2m0 -3v-2m0 -44v-1m0 -31v-2m0 -34v-2m0 -62v-2m0 -7v-2m0 -23v-2m0 -4v-2m0 -50v-2m0 -6v-1m0 -28v-1m0 -75v-1m0 -31v-2M168 791v-4m0 -25v-2m0 -22v-1m0 -8v-1m0 -26v-2m0 -76v-2m0 -10v-2m0 -58v-2m0 -2v-2m0 -43v-2m0 -87v-2m0 -2v-1m0 -49v-2m0 -76v-2m0 -27v-2m0 -63v-2m0 -2v-2m0 -45v-2M184 738v-3m0 -11v-2m0 -400v-2m0 -40v-2m0 -33v-1m0 -76v-2M195 699v-2m0 -26v-1m0 -19v-1m0 -62v-2m0 -11v-1m0 -60v-2m0 -13v-2m0 -12v-2m0 -98v-2m0 -134v-2m0 -9v-2m0 -1v-2m0 -44v-1m0 -19v-1m0 -29v-2m0 -36v-2M211 775v-2m0 -105v-2m0 -15v-1m0 -40v-2m0 -109v-2m0 -34v-2m0 -172v-2m0 -65v-2m0 -36v-2m0 -18v-2M222 811v-2m0 -60v-2m0 -57v-2m0 -42v-2m0 -51v-1m0 -69v-2m0 -27v-2m0 -143v-2m0 -9v-2m0 -14v-2m0 -62v-2m0 -29v-1m0 -87v-2m0 -11v-4M238 789v-2m0 -110v-2m0 -47v-2m0 -38v-2m0 -20v-2m0 -36v-2m0 -21v-2m0 -127v-2m0 -5v-2m0 -87v-2m0 -81v-2m0 -67v-2m0 -9v-2M249 815v-2m0 -47v-2m0 -4v-2m0 -9v-2m0 -54v-2m0 -3v-2m0 -16v-2m0 -24v-2m0 -63v-2m0 -11v-2m0 -19v-2m0 -2v-2m0 -16v-2m0 -11v-2m0 -31v-1m0 -18v-2m0 -20v-2m0 -33v-1m0 -10v-1m0 -47v-2m0 -20v-2M265 809v-2m0 -12v-2m0 -18v-2m0 -20v-2m0 -27v-2m0 -51v-1m0 -91v-4m0 -3v-2m0 -89v-2m0 -94v-4m0 -88v-2m0 -51v-2M276 818v-2m0 -143v-3m0 -8v-1m0 -80v-2m0 -5v-2m0 -66v-1m0 -67v-2m0 -2v-2m0 -3v-4m0 -58v-4m0 -23v-2m0 -7v-2m0 -27v-2m0 -26v-1m0 -11v-2m0 -2v-2m0 -1v-2m0 -8v-3m0 -45v-2m0 -15v-2m0 -5v-4m0 -3v-2m0 -45v-2m0 -13v-2M292 532v-2m0 -94v-2m0 -33v-1m0 -35v-4m0 -18v-1m0 -28v-1m0 -6v-4m0 -67v-1m0 -35v-2M303 766v-2m0 -9v-4m0 -139v-2m0 -42v-2m0 -108v-2m0 -27v-2m0 -69v-2m0 -172v-2m0 -2v-2m0 -16v-2M319 798v-2m0 -36v-2m0 -12v-2m0 -29v-2m0 -40v-2m0 -30v-2m0 -35v-1m0 -97v-1m0 -11v-2m0 -24v-3m0 -11v-2m0 -13v-1m0 -60v-2m0 -49v-2m0 -31v-1m0 -11v-2m0 -189v-1M330 651v-1m0 -71v-2m0 -138v-1m0 -234v-2m0 -53v-1M346 760v-2m0 -49v-1m0 -20v-2m0 -33v-2m0 -27v-2m0 -10v-2m0 -26v-1m0 -42v-2m0 -16v-2m0 -20v-2m0 -20v-2m0 -36v-2m0 -30v-2m0 -73v-2m0 -52v-2m0 -22v-1m0 -69v-2M357 793v-2m0 -16v-2m0 -147v-2m0 -203v-2m0 -61v-2m0 -72v-4m0 -112v-2m0 -4v-2M373 816v-1m0 -22v-4m0 -2v-1m0 -42v-2m0 -91v-1m0 -167v-2m0 -87v-2m0 -11v-1m0 -102v-2m0 -11v-1m0 -2v-2m0 -149v-1m0 -8v-1m0 -11v-2M384 789v-2m0 -110v-2m0 -98v-2m0 -50v-2m0 -36v-2m0 -100v-2m0 -9v-2m0 -12v-2m0 -78v-2m0 -16v-2m0 -9v-2M400 559v-2m0 -51v-1m0 -22v-2m0 -11v-2m0 -39v-2m0 -116v-2m0 -20v-2m0 -3v-2m0 -84v-1m0 -4v-2m0 -72v-2M411 762v-2m0 -47v-2m0 -31v-1m0 -26v-2m0 -125v-1m0 -336v-1m0 -10v-1m0 -17v-1M427 776v-1m0 -31v-2m0 -42v-1m0 -19v-3m0 -27v-2m0 -16v-2m0 -24v-2m0 -29v-1m0 -6v-2m0 -63v-2m0 -98v-2m0 -16v-2m0 -23v-2m0 -4v-2m0 -52v-2m0 -22v-2m0 -119v-2m0 -5v-2m0 -51v-2m0 -3v-2M438 805v-1m0 -66v-1m0 -238v-2m0 -65v-2m0 -7v-2m0 -125v-2m0 -68v-2m0 -20v-2m0 -9v-2M454 804v-2m0 -7v-2m0 -75v-3m0 -11v-2m0 -3v-2m0 -2v-2m0 -3v-2m0 -33v-2m0 -9v-2m0 -14v-2m0 -76v-2m0 -51v-1m0 -53v-4m0 -70v-2m0 -82v-1m0 -73v-2m0 -105v-2m0 -1v-2M470 728v-2m0 -17v-1m0 -13v-2m0 -49v-2m0 -54v-2m0 -49v-2m0 -21v-2m0 -74v-2m0 -22v-2m0 -51v-1m0 -9v-4m0 -18v-2m0 -4v-1m0 -24v-4m0 -81v-2m0 -54v-2m0 -13v-2M481 757v-2m0 -17v-1m0 -49v-2m0 -16v-2m0 -187v-2m0 -14v-2m0 -54v-2m0 -2v-2m0 -5v-2m0 -45v-2m0 -18v-2m0 -131v-1m0 -53v-2m0 -54v-2M497 690v-2m0 -84v-1m0 -8v-2m0 -41v-2m0 -18v-2m0 -43v-4m0 -78v-2m0 -65v-2m0 -11v-2m0 -94v-2m0 -11v-1M508 805v-1m0 -46v-1m0 -162v-2m0 -143v-2m0 -123v-2m0 -45v-2m0 -5v-2m0 -53v-3m0 -96v-2M524 782v-2m0 -7v-2m0 -7v-2m0 -36v-2m0 -87v-2m0 -16v-2m0 -47v-2m0 -22v-1m0 -145v-2m0 -4v-2m0 -176v-1m0 -102v-2m0 -12v-2m0 -4v-2M535 798v-2m0 -74v-2m0 -30v-2m0 -29v-2m0 -20v-4m0 -146v-2m0 -18v-2m0 -203v-2m0 -15v-1m0 -9v-2M551 709v-1m0 -86v-1m0 -6v-2m0 -50v-2m0 -53v-2m0 -23v-2m0 -110v-2m0 -51v-2m0 -49v-2m0 -47v-2m0 -12v-2m0 -25v-4m0 -53v-1m0 -15v-2M562 758v-1m0 -19v-1m0 -169v-4m0 -16v-2m0 -117v-2m0 -37v-1m0 -24v-2m0 -31v-1m0 -38v-2m0 -6v-1m0 -40v-2m0 -11v-2m0 -114v-2m0 -25v-2M578 690v-2m0 -44v-2m0 -56v-3m0 -11v-2m0 -60v-2m0 -118v-1m0 -11v-2m0 -16v-2m0 -31v-2m0 -69v-1m0 -4v-2m0 -33v-1m0 -51v-2m0 -5v-2M589 778v-2m0 -92v-2m0 -21v-2m0 -46v-1m0 -77v-1m0 -18v-4m0 -54v-4m0 -7v-2m0 -13v-2m0 -79v-2m0 -6v-1m0 -13v-2m0 -54v-2m0 -4v-2M605 816v-1m0 -93v-2m0 -165v-1m0 -6v-2m0 -20v-1m0 -51v-2m0 -136v-2m0 -107v-1m0 -49v-2m0 -62v-2M616 776v-1m0 -57v-1m0 -33v-2m0 -54v-2m0 -13v-1m0 -35v-2m0 -36v-2m0 -47v-2m0 -29v-1m0 -19v-1m0 -111v-2m0 -11v-1m0 -78v-2m0 -40v-2m0 -11v-3m0 -4v-2M632 811v-2m0 -22v-1m0 -64v-2m0 -21v-2m0 -33v-2m0 -56v-2m0 -67v-2m0 -21v-2m0 -40v-2m0 -56v-2m0 -34v-2m0 -36v-2m0 -45v-2m0 -51v-2m0 -36v-2m0 -63v-2m0 -29v-2M643 798v-2m0 -92v-2m0 -85v-2m0 -181v-2m0 -43v-2m0 -172v-2m0 -20v-2M659 784v-2m0 -73v-1m0 -46v-1m0 -100v-2m0 -136v-2m0 -58v-3m0 -51v-2m0 -18v-2m0 -16v-2m0 -40v-2M670 517v-1m0 -93v-2m0 -83v-2m0 -11v-2m0 -61v-2m0 -4v-1m0 -37v-2m0 -27v-1m0 -11v-2m0 -2v-2m0 -38v-2M686 786v-2m0 -27v-2m0 -6v-2m0 -132v-2m0 -10v-2m0 -158v-2m0 -109v-1m0 -158v-2m0 -58v-2M697 816v-1m0 -35v-2m0 -5v-2m0 -179v-2m0 -96v-2m0 -18v-2m0 -72v-2m0 -6v-2m0 -9v-1m0 -91v-2m0 -7v-2m0 -132v-2m0 -51v-2M740 778v-2m0 -25v-2m0 -38v-2m0 -29v-1m0 -35v-2m0 -1v-2m0 -51v-2m0 -96v-2m0 -20v-1m0 -60v-2m0 -80v-5m0 -6v-1m0 -48v-1m0 -31v-2m0 -89v-3m0 -19v-1m0 -9v-2m0 -15v-3M751 778v-2m0 -23v-2m0 -22v-1m0 -15v-2m0 -34v-2m0 -130v-2m0 -2v-2m0 -33v-1m0 -80v-2m0 -65v-2m0 -7v-2m0 -53v-1m0 -8v-1m0 -10v-3m0 -6v-1m0 -44v-2m0 -56v-3m0 -28v-1"/>
<path class="l6" stroke-width="5" d="M124.5 651v-1m0 -341v-2m0 -40v-2m0 -10v-2m0 -6v-2m0 -27v-2m0 -76v-1M135.5 601v-2m0 -33v-2m0 -259v-2m0 -19v-2m0 -125v-2m0 -33v-2m0 -21v-2M146.5 811v-2m0 -52v-2m0 -6v-2m0 -34v-2m0 -74v-2m0 -20v-2m0 -128v-2m0 -31v-2m0 -99v-2m0 -27v-2m0 -42v-2m0 -146v-4M151.5 693v-2m0 -61v-2m0 -147v-2m0 -94v-2m0 -34v-2M162.5 758v-1m0 -17v-2m0 -29v-1m0 -229v-2m0 -65v-2m0 -32v-2m0 -178v-1m0 -29v-2M173.5 815v-2m0 -29v-2m0 -40v-2m0 -141v-2m0 -101v-2m0 -26v-1m0 -9v-2m0 -26v-1m0 -11v-2m0 -53v-2m0 -1v-2m0 -38v-2m0 -67v-4m0 -14v-2m0 -56v-2M178.5 715v-2m0 -42v-1m0 -113v-2m0 -78v-1m0 -20v-2m0 -62v-2m0 -18v-1m0 -53v-2m0 -47v-2m0 -168v-2M189.5 264v-2M200.5 481v-2m0 -215v-2M205.5 706v-2m0 -312v-2m0 -96v-1m0 -140v-2m0 -27v-2m0 -27v-2M216.5 606v-2m0 -110v-2m0 -44v-1m0 -98v-2m0 -20v-2m0 -3v-2m0 -75v-1M227.5 579v-2m0 -121v-2m0 -183v-2m0 -150v-2M232.5 800v-2m0 -7v-2m0 -174v-2m0 -105v-3m0 -17v-1m0 -77v-1M243.5 735v-2m0 -121v-2m0 -2v-2m0 -67v-2m0 -85v-2m0 -5v-2m0 -83v-2m0 -111v-2m0 -7v-2M254.5 804v-2m0 -303v-2m0 -94v-2m0 -88v-2m0 -169v-2M259.5 811v-2m0 -2v-2m0 -317v-1m0 -82v-2m0 -29v-2m0 -108v-4m0 -82v-1m0 -78v-2M270.5 729v-1m0 -256v-2m0 -119v-2m0 -2v-2m0 -34v-2M281.5 608v-2m0 -199v-2m0 -217v-2m0 -58v-2M286.5 805v-1m0 -42v-2m0 -172v-2m0 -456v-2M297.5 653v-2m0 -21v-2m0 -4v-2m0 -18v-1m0 -73v-2m0 -51v-1m0 -42v-2m0 -61v-2m0 -26v-1m0 -95v-2m0 -86v-2M308.5 804v-2m0 -26v-1m0 -153v-1m0 -87v-2m0 -45v-2m0 -9v-2m0 -82v-2m0 -41v-2m0 -65v-2M313.5 675v-2m0 -152v-2m0 -2v-1m0 -37v-2m0 -116v-1M324.5 729v-1m0 -136v-2m0 -36v-2m0 -33v-2m0 -5v-2m0 -136v-2m0 -123v-2m0 -27v-2M335.5 637v-2m0 -18v-4m0 -237v-2m0 -81v-2m0 -114v-2M340.5 791v-2m0 -170v-2m0 -4v-1m0 -71v-2m0 -83v-2m0 -9v-2m0 -76v-2m0 -71v-1m0 -13v-2m0 -65v-2m0 -40v-2M351.5 697v-2m0 -187v-2m0 -157v-2m0 -62v-1m0 -135v-1M362.5 670v-2m0 -120v-2m0 -20v-1m0 -67v-2m0 -9v-2m0 -27v-2m0 -239v-2m0 -20v-2M367.5 804v-2m0 -47v-2m0 -44v-1m0 -24v-2m0 -273v-2m0 -84v-1m0 -96v-2M378.5 798v-2m0 -110v-2m0 -11v-2m0 -63v-2m0 -20v-2m0 -99v-2m0 -71v-2m0 -68v-2m0 -95v-1m0 -71v-2m0 -7v-2m0 -5v-2m0 -6v-1m0 -17v-1m0 -2v-2M389.5 760v-2m0 -85v-2m0 -50v-2m0 -15v-1m0 -78v-2m0 -20v-2m0 -18v-6m0 -88v-2m0 -67v-2m0 -42v-2m0 -1v-2m0 -158v-2M394.5 820v-2m0 -143v-2m0 -98v-1m0 -26v-2m0 -3v-2m0 -350v-2M405.5 713v-2m0 -235v-2m0 -62v-2m0 -1v-2m0 -236v-2M416.5 644v-2m0 -18v-2m0 -121v-2m0 -27v-2m0 -38v-2m0 -7v-2m0 -11v-1m0 -57v-1m0 -42v-2m0 -51v-1M421.5 499v-2m0 -179v-2m0 -96v-2M432.5 809v-4m0 -41v-2m0 -44v-1m0 -15v-2m0 -10v-2m0 -158v-2m0 -7v-2m0 -11v-2m0 -29v-1m0 -111v-2m0 -85v-2m0 -67v-2M443.5 472v-2m0 -110v-2M448.5 809v-2m0 -275v-2m0 -74v-2m0 -156v-2m0 -47v-2m0 -121v-2M459.5 793v-2m0 -132v-2m0 -98v-2m0 -85v-2m0 -29v-2m0 -3v-2m0 -2v-2m0 -119v-2m0 -54v-2M464.5 700v-1m0 -265v-2m0 -7v-2m0 -4v-1m0 -104v-1m0 -10v-1m0 -165v-2M475.5 737v-2m0 -140v-2m0 -54v-2m0 -2v-1m0 -138v-2m0 -156v-2m0 -52v-2m0 -65v-2M486.5 690v-2m0 -502v-2M491.5 720v-2m0 -130v-2m0 -255v-2m0 -49v-2m0 -107v-2M502.5 793v-2m0 -18v-2m0 -11v-2m0 -97v-2m0 -15v-2m0 -20v-1m0 -38v-2m0 -40v-2m0 -96v-2m0 -54v-2m0 -9v-2m0 -2v-1m0 -278v-2M513.5 731v-2m0 -197v-2m0 -60v-2m0 -74v-2m0 -183v-2M518.5 744v-2m0 -138v-1m0 -75v-2m0 -313v-2M529.5 633v-1m0 -243v-2m0 -11v-2m0 -34v-2m0 -35v-1m0 -6v-2m0 -150v-4m0 -14v-2M540.5 805v-1m0 -109v-2m0 -125v-2m0 -47v-2m0 -25v-2m0 -34v-2M545.5 764v-2m0 -83v-2m0 -89v-4m0 -103v-2m0 -114v-2m0 -58v-2m0 -170v-3m0 -20v-2M556.5 798v-2m0 -47v-2m0 -134v-1m0 -6v-2m0 -58v-1m0 -60v-2m0 -58v-2m0 -80v-3m0 -87v-2m0 -35v-1m0 -24v-2M567.5 771v-2m0 -112v-2m0 -13v-1m0 -60v-2m0 -2v-2m0 -49v-1m0 -8v-3m0 -46v-1m0 -162v-2m0 -65v-2m0 -99v-2m0 -34v-2m0 -6v-2M572.5 711v-2m0 -27v-2m0 -139v-2m0 -120v-1m0 -176v-2m0 -16v-2M583.5 528v-2m0 -242v-2M594.5 492v-2m0 -239v-2m0 -27v-2M599.5 815v-2m0 -241v-2m0 -132v-2m0 -185v-2m0 -42v-1M610.5 758v-1m0 -33v-2m0 -163v-2m0 -52v-2m0 -73v-1m0 -93v-2m0 -32v-2m0 -6v-1m0 -102v-2M621.5 744v-2m0 -16v-2m0 -105v-2m0 -152v-2m0 -239v-4M626.5 791v-2m0 -40v-2m0 -48v-2m0 -113v-1m0 -254v-2m0 -111v-1M637.5 666v-2m0 -100v-1m0 -109v-2m0 -34v-2m0 -7v-2m0 -42v-2m0 -70v-2m0 -24v-2m0 -125v-1m0 -24v-2M648.5 809v-2m0 -9v-2m0 -18v-2m0 -373v-2m0 -81v-2m0 -58v-2M653.5 599v-2m0 -145v-2m0 -32v-2m0 -297v-2M664.5 796v-1m0 -278v-1m0 -281v-2M675.5 782v-2m0 -4v-3m0 -44v-1m0 -176v-2m0 -218v-1m0 -9v-2m0 -200v-3M680.5 563v-2m0 -94v-2m0 -120v-2M691.5 708v-2m0 -268v-2m0 -82v-2m0 -168v-2M707.5 776v-1m0 -42v-2m0 -65v-2m0 -29v-2m0 -1v-2m0 -98v-2m0 -16v-4m0 -294v-1m0 -2v-2m0 -123v-2M718.5 802v-2m0 -250v-2m0 -2v-1m0 -60v-2m0 -51v-2m0 -152v-2m0 -94v-2M729.5 807v-2m0 -72v-2m0 -69v-1m0 -158v-2m0 -13v-1m0 -51v-2m0 -158v-2m0 -5v-2m0 -74v-2m0 -98v-2M761.5 771v-2m0 -31v-3m0 -44v-1m0 -84v-2m0 -23v-2m0 -4v-1m0 -84v-2m0 -117v-2m0 -125v-2m0 -58v-2m0 -7v-2m0 -58v-4M772.5 700v-1m0 -67v-2m0 -89v-2m0 -16v-2m0 -15v-1m0 -169v-2m0 -45v-2m0 -107v-2m0 -58v-1M799.5 791v-2m0 -16v-2m0 -36v-2m0 -13v-2m0 -21v-2m0 -15v-1m0 -4v-2m0 -9v-2m0 -40v-1m0 -162v-1m0 -17v-2m0 -10v-2m0 -2v-2m0 -4v-1m0 -29v-2m0 -4v-2m0 -5v-2m0 -32v-2m0 -4v-2m0 -25v-2m0 -49v-2m0 -12v-2m0 -4v-2m0 -50v-2m0 -13v-2M826.5 668v-2m0 -160v-1m0 -278v-1m0 -84v-2M853.5 815v-2m0 -15v-2M880.5 775v-2m0 -134v-2m0 -58v-2m0 -121v-2m0 -42v-2m0 -5v-2m0 -148v-2M907.5 699v-2m0 -80v-2m0 -14v-2m0 -54v-2m0 -350v-2m0 -32v-2M934.5 708v-2m0 -76v-2m0 -189v-1m0 -46v-2m0 -188v-2"/>
<path class="l6" stroke-width="6" d="M130 709v-1m0 -113v-2m0 -188v-2m0 -257v-2m0 -16v-2M141 789v-2m0 -45v-2m0 -31v-1m0 -91v-2m0 -3v-2m0 -114v-2m0 -163v-2m0 -136v-2m0 -3v-2m0 -69v-2M157 434v-2m0 -31v-1m0 -100v-2m0 -16v-2m0 -6v-1m0 -107v-2M168 186v-2M184 726v-2m0 -67v-2m0 -98v-2m0 -458v-2M195 787v-1m0 -17v-2m0 -7v-2m0 -7v-2m0 -56v-2m0 -1v-2m0 -18v-2m0 -91v-2m0 -63v-2m0 -87v-2m0 -7v-2m0 -67v-2m0 -47v-2m0 -38v-1M211 815v-2m0 -468v-2M222 804v-2m0 -6v-1m0 -48v-1m0 -8v-1m0 -26v-2m0 -43v-2m0 -36v-2m0 -11v-2m0 -76v-2m0 -317v-2m0 -3v-2m0 -2v-2m0 -9v-1m0 -8v-1m0 -40v-2m0 -2v-2M238 690v-2m0 -165v-2m0 -232v-2m0 -14v-2m0 -55v-3m0 -118v-2M249 820v-2m0 -43v-2m0 -165v-2m0 -156v-2m0 -5v-2m0 -94v-2m0 -11v-2m0 -21v-2m0 -2v-2m0 -14v-2m0 -89v-2m0 -56v-2m0 -34v-2M265 751v-2m0 -52v-2m0 -15v-1m0 -147v-2m0 -22v-2m0 -126v-2M276 807v-2m0 -170v-2m0 -16v-2m0 -40v-1m0 -66v-2m0 -10v-2m0 -105v-2m0 -35v-1m0 -33v-2M292 400v-2m0 -22v-2M303 728v-2m0 -160v-2m0 -139v-2m0 -60v-2m0 -88v-2M319 679v-2m0 -118v-2m0 -3v-2m0 -114v-2m0 -26v-1m0 -73v-2m0 -94v-2m0 -25v-2m0 -72v-4m0 -11v-2M330 702v-2M346 758v-1m0 -26v-2m0 -5v-2m0 -65v-2m0 -134v-2m0 -9v-2m0 -230v-2m0 -45v-2m0 -107v-2m0 -9v-1M357 813v-2m0 -9v-2m0 -45v-2m0 -123v-2m0 -408v-2m0 -110v-2m0 -15v-1M373 802v-2m0 -20v-2m0 -99v-2m0 -27v-2m0 -136v-2m0 -16v-2m0 -7v-2m0 -13v-2m0 -14v-2m0 -163v-2m0 -38v-2m0 -56v-2m0 -14v-4m0 -80v-1M384 787v-1m0 -4v-2m0 -85v-2m0 -47v-2m0 -65v-2m0 -16v-2m0 -9v-2m0 -196v-1m0 -178v-2M400 802v-2m0 -85v-2m0 -116v-2m0 -255v-2m0 -214v-2M411 619v-2m0 -74v-2m0 -125v-2m0 -101v-2m0 -64v-2m0 -29v-1M427 782v-2m0 -22v-1m0 -95v-1m0 -71v-2m0 -38v-2m0 -2v-1m0 -39v-1m0 -216v-2m0 -13v-1m0 -64v-2m0 -45v-2M438 818v-2m0 -141v-2m0 -70v-2m0 -160v-2m0 -154v-1m0 -145v-2M454 809v-2m0 -154v-3m0 -35v-2m0 -143v-2m0 -132v-2m0 -146v-2m0 -29v-2M470 807v-2m0 -128v-2M481 675v-2m0 -286v-2m0 -22v-2m0 -39v-2m0 -71v-2m0 -139v-2M497 816v-1m0 -6v-2m0 -12v-2m0 -44v-2m0 -21v-2m0 -123v-2m0 -131v-1m0 -17v-2m0 -72v-2m0 -54v-2m0 -140v-1m0 -38v-2m0 -7v-2m0 -38v-2M508 778v-2m0 -30v-2m0 -482v-2m0 -29v-2M524 702v-2m0 -215v-2m0 -7v-2m0 -93v-1m0 -2v-2m0 -51v-2m0 -3v-2M535 742v-2m0 -92v-2m0 -65v-2m0 -91v-1m0 -138v-2m0 -9v-2m0 -147v-1M551 805v-1m0 -6v-2m0 -203v-1m0 -35v-2m0 -395v-1m0 -6v-2m0 -20v-1m0 -28v-1M562 780v-2m0 -291v-2m0 -27v-2m0 -98v-2m0 -36v-2m0 -96v-2M578 775v-2m0 -9v-2m0 -138v-2m0 -45v-2m0 -9v-2m0 -70v-2m0 -38v-2m0 -54v-4m0 -14v-2m0 -65v-2m0 -42v-2m0 -99v-2m0 -11v-2m0 -7v-2M589 760v-2m0 -139v-2m0 -337v-2m0 -112v-2M605 501v-2m0 -116v-2m0 -74v-2m0 -92v-2M616 769v-2m0 -175v-2m0 -111v-2m0 -197v-2m0 -80v-1M632 718v-1m0 -212v-2m0 -27v-2m0 -94v-2m0 -107v-2m0 -51v-2m0 -83v-2m0 -11v-1M643 545v-2m0 -143v-2m0 -18v-2m0 -82v-2m0 -34v-2m0 -163v-2M659 737v-2m0 -31v-2m0 -83v-2m0 -7v-2m0 -9v-2m0 -91v-1m0 -263v-2m0 -5v-2m0 -55v-1M670 787v-3m0 -568v-1m0 -95v-1m0 -11v-2M686 816v-1m0 -193v-1m0 -26v-2M697 753v-2m0 -52v-2m0 -149v-3m0 -120v-2m0 -270v-2M740 816v-1m0 -26v-2m0 -1v-2m0 -2v-2m0 -67v-2m0 -292v-1m0 -73v-2m0 -27v-2m0 -45v-2m0 -20v-2m0 -16v-2m0 -18v-2m0 -5v-2m0 -85v-2M751 758v-1m0 -48v-1m0 -38v-2m0 -26v-1m0 -40v-2m0 -15v-1m0 -80v-2m0 -7v-2m0 -150v-2m0 -35v-2m0 -16v-2m0 -88v-2"/>
<path class="l7" stroke-width="5" d="M135.5 465v-2m0 -366v-2M146.5 555v-1m0 -77v-1m0 -15v-2m0 -230v-2M151.5 392v-2m0 -25v-2m0 -172v-2m0 -56v-2M162.5 610v-2M173.5 776v-1m0 -8v-1m0 -38v-2m0 -98v-2m0 -275v-2M178.5 708v-2m0 -522v-2M189.5 680v-1M200.5 804v-2m0 -460v-2m0 -239v-2M216.5 671v-1m0 -249v-2m0 -68v-2m0 -73v-2m0 -16v-2M227.5 378v-2M232.5 479v-2M243.5 409v-2m0 -6v-1m0 -37v-2m0 -36v-2m0 -79v-2m0 -71v-2m0 -10v-2M259.5 713v-2m0 -431v-2M270.5 796v-1m0 -308v-2m0 -46v-1m0 -93v-2m0 -239v-2m0 -14v-2M281.5 606v-2M286.5 334v-2m0 -166v-2M297.5 731v-2m0 -228v-2m0 -101v-2m0 -122v-1m0 -53v-2m0 -34v-2M308.5 659v-2M313.5 789v-2m0 -16v-2m0 -29v-2m0 -174v-1m0 -67v-2m0 -80v-2m0 -58v-2m0 -5v-2m0 -20v-2m0 -29v-1m0 -4v-2m0 -32v-2m0 -105v-2M324.5 780v-2m0 -179v-2m0 -9v-2m0 -344v-2M335.5 468v-1m0 -287v-2M340.5 778v-2m0 -322v-2M362.5 557v-2m0 -177v-2m0 -154v-2M367.5 789v-2m0 -324v-2m0 -145v-2M378.5 793v-2m0 -22v-2m0 -348v-1m0 -64v-2m0 -67v-1m0 -96v-2M389.5 699v-2m0 -129v-2m0 -36v-2m0 -395v-2m0 -25v-2M394.5 454v-2m0 -105v-2m0 -22v-1m0 -167v-2M416.5 613v-1m0 -116v-2m0 -65v-2m0 -2v-2m0 -5v-2m0 -7v-2M421.5 369v-2M432.5 706v-2m0 -29v-2m0 -47v-2m0 -380v-2m0 -67v-2M448.5 278v-2M459.5 434v-2M464.5 278v-2M475.5 818v-2m0 -3v-2m0 -51v-2m0 -224v-2m0 -252v-2M491.5 686v-2m0 -38v-2m0 -234v-1m0 -35v-2M502.5 749v-2m0 -79v-2m0 -73v-1m0 -42v-2m0 -134v-2m0 -7v-2m0 -74v-2m0 -63v-2m0 -44v-2m0 -30v-2m0 -42v-2M513.5 760v-2m0 -194v-1M518.5 564v-1m0 -42v-2m0 -14v-2M529.5 459v-1m0 -196v-2M540.5 409v-2m0 -247v-1M545.5 206v-2m0 -96v-2M556.5 769v-2m0 -61v-2m0 -203v-2m0 -138v-1m0 -167v-2M567.5 804v-2m0 -401v-1m0 -53v-2m0 -65v-2m0 -22v-1m0 -2v-2m0 -160v-1M572.5 584v-1m0 -37v-1m0 -73v-2m0 -157v-2m0 -218v-2M583.5 405v-2m0 -190v-2M599.5 813v-2m0 -308v-2M610.5 474v-2M621.5 617v-2m0 -2v-1m0 -229v-2m0 -228v-2M626.5 717v-2M637.5 545v-2M648.5 735v-2m0 -357v-2m0 -36v-2m0 -91v-1m0 -136v-2M653.5 805v-1m0 -220v-1m0 -167v-2M675.5 519v-2m0 -328v-1m0 -93v-2M680.5 653v-2M691.5 784v-2m0 -578v-2m0 -25v-2M707.5 671v-1m0 -26v-2m0 -94v-2m0 -230v-2M718.5 570v-2m0 -81v-2m0 -225v-2m0 -170v-2M729.5 661v-2m0 -361v-2M761.5 776v-1m0 -31v-2m0 -42v-1m0 -98v-2m0 -120v-2m0 -39v-2M772.5 470v-2M799.5 624v-2m0 -58v-1m0 -107v-2m0 -18v-2m0 -4v-1m0 -82v-2m0 -22v-1m0 -8v-1m0 -8v-2m0 -23v-2M880.5 771v-2m0 -177v-2m0 -254v-2m0 -41v-2m0 -111v-2M907.5 791v-2m0 -185v-1M934.5 467v-2m0 -85v-2"/>
<path class="l7" stroke-width="6" d="M130 769v-2m0 -386v-1m0 -164v-1m0 -55v-1M141 800v-2m0 -114v-2m0 -583v-2M168 686v-2m0 -167v-1m0 -245v-2M222 713v-2m0 -351v-2m0 -227v-1m0 -8v-2M249 704v-2m0 -235v-2M265 731v-2m0 -402v-2m0 -226v-2M276 760v-2m0 -157v-2m0 -178v-2m0 -5v-2m0 -74v-2m0 -208v-2M303 271v-2M319 561v-2m0 -141v-2m0 -207v-2M330 249v-2M346 340v-2m0 -105v-2m0 -91v-1M357 593v-1m0 -368v-2M373 530v-2m0 -99v-2M384 776v-1m0 -13v-2m0 -32v-2m0 -4v-2m0 -188v-2m0 -399v-1m0 -29v-2M400 815v-2m0 -87v-4M411 715v-2m0 -172v-2m0 -433v-2M427 641v-2m0 -118v-2m0 -188v-2m0 -169v-1M438 731v-2m0 -290v-1m0 -96v-2m0 -75v-1m0 -104v-1m0 -2v-2m0 -35v-1M454 787v-1m0 -408v-2M470 461v-2M481 621v-2M497 706v-2m0 -22v-2m0 -228v-2m0 -359v-1M508 530v-2m0 -61v-2M524 597v-2m0 -5v-2M535 499v-2m0 -76v-2M551 305v-2m0 -18v-1m0 -33v-2M562 459v-1m0 -174v-2M578 532v-2m0 -272v-2m0 -18v-2M589 461v-2m0 -203v-1m0 -2v-2m0 -143v-2M605 630v-2m0 -511v-2M616 751v-2m0 -378v-2M632 720v-2m0 -125v-1m0 -102v-2m0 -32v-2m0 -27v-2m0 -214v-2m0 -25v-2M643 298v-2m0 -7v-2M659 597v-2m0 -56v-2m0 -168v-2m0 -7v-2M670 751v-2M686 648v-2m0 -426v-2M697 423v-4m0 -81v-2M740 735v-2m0 -47v-2m0 -60v-2m0 -27v-2m0 -1v-2m0 -24v-2m0 -286v-2M751 807v-2m0 -202v-2m0 -8v-1m0 -127v-2m0 -63v-2m0 -51v-2m0 -110v-2m0 -100v-2"/>
<path class="l8" stroke-width="5" d="M146.5 554v-2m0 -348v-2M173.5 572v-2m0 -239v-2M178.5 195v-2M232.5 650v-2M254.5 128v-2M270.5 784v-2m0 -107v-2m0 -460v-2M297.5 369v-2M308.5 202v-2M313.5 755v-2M324.5 501v-2m0 -138v-1M335.5 430v-1M362.5 349v-2M378.5 584v-1m0 -109v-2M389.5 726v-2m0 -323v-1m0 -198v-2M394.5 662v-1m0 -160v-2M405.5 617v-2M416.5 751v-2m0 -322v-2m0 -6v-1M432.5 709v-1m0 -173v-1m0 -29v-2m0 -252v-2M448.5 662v-1M464.5 757v-2M475.5 429v-2m0 -100v-2M486.5 753v-2m0 -315v-2m0 -156v-2M502.5 621v-2m0 -84v-1M540.5 432v-2M545.5 510v-2M556.5 182v-2M567.5 800v-2M572.5 470v-2M648.5 360v-2m0 -18v-2M653.5 735v-2m0 -9v-2M664.5 354v-2M707.5 650v-2M718.5 541v-2m0 -277v-2M729.5 650v-2m0 -73v-1M761.5 425v-2M772.5 677v-2M799.5 708v-2m0 -134v-2m0 -125v-2m0 -27v-2m0 -167v-2M880.5 688v-2m0 -89v-2m0 -299v-2m0 -128v-2M907.5 414v-2m0 -215v-2M934.5 336v-2"/>
<path class="l8" stroke-width="6" d="M130 438v-2m0 -27v-2M157 639v-2M168 153v-2M195 586v-2m0 -471v-2M222 389v-2M238 517v-1M265 722v-2m0 -30v-2M276 432v-2m0 -275v-2M346 809v-2m0 -156v-1m0 -305v-2M357 590v-2M427 409v-2m0 -230v-2m0 -44v-1M438 775v-2M454 706v-2m0 -266v-2m0 -27v-2M481 677v-2M497 361v-1m0 -37v-1M535 331v-2M551 619v-2M578 622v-1M632 338v-2M659 535v-1m0 -89v-2M697 795v-2M740 787v-1M751 802v-2"/>
<path class="l9" stroke-width="5" d="M173.5 642v-1M216.5 541v-2M232.5 178v-1M243.5 361v-1M297.5 811v-2M432.5 755v-2m0 -489v-2M502.5 195v-2M610.5 760v-2M799.5 443v-2m0 -47v-2M880.5 381v-1"/>
<path class="l9" stroke-width="6" d="M249 383v-2M373 229v-2M438 303v-1M481 142v-2M497 679v-2M751 668v-2"/>
<path class="l10" stroke-width="5" d="M146.5 530v-2M416.5 421v-2m0 -5v-4M572.5 233v-2"/>
<path class="l10" stroke-width="6" d="M740 622v-1"/>
</g>
<rect x="1016" y="85" width="37" height="738" fill="url(#vg)"/>
<g fill="none" stroke="#000" stroke-width="1.1">
<rect x="98.5" y="85.5" width="864" height="737"/>
<rect x="1016.5" y="85.5" width="36" height="737"/>
<path d="M179.5 822.5v5M287.5 822.5v5M395.5 822.5v5M503.5 822.5v5M611.5 822.5v5M719.5 822.5v5M827.5 822.5v5M935.5 822.5v5M98 85.5h-4.9M98 206.5h-4.9M98 327.5h-4.9M98 448.5h-4.9M98 569.5h-4.9M98 689.5h-4.9M98 810.5h-4.9M1052.5 85.5h4.9M1052.5 208.5h4.9M1052.5 331.5h4.9M1052.5 454.5h4.9M1052.5 577.5h4.9M1052.5 699.5h4.9M1052.5 822.5h4.9"/>
</g>
<text class="t" x="529.6" y="43.6" text-anchor="middle" xml:space="preserve" style="white-space:pre">IRF Kiruna Ionosonde KI167 2025-12-08 01:57:00  UT</text>
<text class="t" x="529.6" y="76.9" text-anchor="middle">noise_floor=-121.94 (dB) peak SNR=8.76</text>
<text class="a" x="529.4" y="873.9" text-anchor="middle">Frequency (MHz)</text>
<text transform="translate(38,454.8) rotate(-90)" text-anchor="middle">Virtual range (km)</text>
<text transform="translate(1108.7,453.7) rotate(-90)" text-anchor="middle">SNR (dB)</text>
<g class="k">
<text x="178.84" y="848.2" text-anchor="middle">2</text>
<text x="286.82" y="848.2" text-anchor="middle">4</text>
<text x="394.81" y="848.2" text-anchor="middle">6</text>
<text x="502.79" y="848.2" text-anchor="middle">8</text>
<text x="610.58" y="848.2" text-anchor="middle">10</text>
<text x="718.56" y="848.2" text-anchor="middle">12</text>
<text x="826.55" y="848.2" text-anchor="middle">14</text>
<text x="934.53" y="848.2" text-anchor="middle">16</text>
<text x="87.9" y="93.1" text-anchor="end">600</text>
<text x="87.9" y="214.1" text-anchor="end">500</text>
<text x="87.9" y="335.1" text-anchor="end">400</text>
<text x="87.9" y="456.1" text-anchor="end">300</text>
<text x="87.9" y="577.1" text-anchor="end">200</text>
<text x="87.9" y="697.1" text-anchor="end">100</text>
<text x="87.9" y="818.1" text-anchor="end">0</text>
<text x="1062.5" y="93.1">30</text>
<text x="1062.5" y="216.1">25</text>
<text x="1062.5" y="339.1">20</text>
<text x="1062.5" y="462.1">15</text>
<text x="1062.5" y="585.1">10</text>
<text x="1062.5" y="707.1">5</text>
<text x="1062.5" y="830.1">0</text>
</g>
</svg>
</body></html>
